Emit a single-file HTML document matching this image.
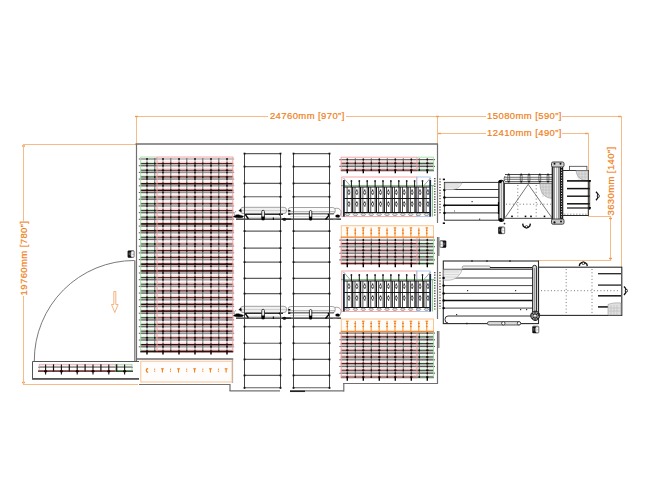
<!DOCTYPE html>
<html><head><meta charset="utf-8"><style>
html,body{margin:0;padding:0;background:#fff;width:647px;height:504px;overflow:hidden}
svg{position:absolute;left:0;top:0;font-family:"Liberation Sans",sans-serif}
</style></head><body>
<svg width="647" height="504" viewBox="0 0 647 504">
<line x1="136" y1="116.5" x2="268" y2="116.5" stroke="#f7bb88" stroke-width="1" />
<line x1="346" y1="116.5" x2="437" y2="116.5" stroke="#f7bb88" stroke-width="1" />
<text x="307.3" y="118.9" font-size="9.5" letter-spacing="0.4" fill="#ef7f1a" stroke="#ef7f1a" stroke-width="0.2" text-anchor="middle" >24760mm [970&#8221;]</text>
<line x1="136.5" y1="116" x2="136.5" y2="144" stroke="#f7bb88" stroke-width="1" />
<line x1="437" y1="116.5" x2="486" y2="116.5" stroke="#f7bb88" stroke-width="1" />
<line x1="562" y1="116.5" x2="621" y2="116.5" stroke="#f7bb88" stroke-width="1" />
<text x="524.5" y="118.9" font-size="9.5" letter-spacing="0.4" fill="#ef7f1a" stroke="#ef7f1a" stroke-width="0.2" text-anchor="middle" >15080mm [590&#8221;]</text>
<line x1="621.5" y1="116" x2="621.5" y2="267" stroke="#f7bb88" stroke-width="1" />
<line x1="437.5" y1="116" x2="437.5" y2="144" stroke="#f7bb88" stroke-width="1" />
<line x1="437" y1="133.5" x2="486" y2="133.5" stroke="#f7bb88" stroke-width="1" />
<line x1="562" y1="133.5" x2="588" y2="133.5" stroke="#f7bb88" stroke-width="1" />
<text x="524.5" y="135.9" font-size="9.5" letter-spacing="0.4" fill="#ef7f1a" stroke="#ef7f1a" stroke-width="0.2" text-anchor="middle" >12410mm [490&#8221;]</text>
<line x1="588.5" y1="133" x2="588.5" y2="216" stroke="#f7bb88" stroke-width="1" />
<line x1="588" y1="216.5" x2="611" y2="216.5" stroke="#f7bb88" stroke-width="1" />
<line x1="610.5" y1="216" x2="610.5" y2="260.5" stroke="#f7bb88" stroke-width="1" />
<line x1="538" y1="260.5" x2="611" y2="260.5" stroke="#f7bb88" stroke-width="1" />
<text x="0" y="0" font-size="9.5" letter-spacing="0.4" fill="#ef7f1a" stroke="#ef7f1a" stroke-width="0.2" text-anchor="middle" transform="translate(614,181) rotate(-90)">3630mm [140&#8221;]</text>
<rect x="436.0" y="115.8" width="3" height="1.4" fill="#f29a50"/>
<rect x="438.0" y="132.8" width="3" height="1.4" fill="#f29a50"/>
<rect x="135.0" y="115.8" width="3" height="1.4" fill="#f29a50"/>
<rect x="618.0" y="115.8" width="3" height="1.4" fill="#f29a50"/>
<rect x="585.0" y="132.8" width="3" height="1.4" fill="#f29a50"/>
<rect x="22.0" y="145.3" width="3" height="1.4" fill="#f29a50"/>
<rect x="22.0" y="381.8" width="3" height="1.4" fill="#f29a50"/>
<rect x="609.0" y="217.8" width="3" height="1.4" fill="#f29a50"/>
<rect x="609.0" y="257.8" width="3" height="1.4" fill="#f29a50"/>
<line x1="23.5" y1="144" x2="23.5" y2="221" stroke="#f7bb88" stroke-width="1" />
<line x1="23.5" y1="296" x2="23.5" y2="384" stroke="#f7bb88" stroke-width="1" />
<line x1="23" y1="144.5" x2="136" y2="144.5" stroke="#f7bb88" stroke-width="1" />
<line x1="23" y1="384.5" x2="138" y2="384.5" stroke="#f7bb88" stroke-width="1" />
<text x="0" y="0" font-size="9.5" letter-spacing="0.4" fill="#ef7f1a" stroke="#ef7f1a" stroke-width="0.2" text-anchor="middle" transform="translate(26.8,258) rotate(-90)">19760mm [780&#8221;]</text>
<line x1="135.5" y1="144" x2="438" y2="144" stroke="#707070" stroke-width="1.7" />
<line x1="136.5" y1="144" x2="136.5" y2="361" stroke="#707070" stroke-width="1.2" />
<line x1="437.5" y1="144" x2="437.5" y2="223" stroke="#707070" stroke-width="1.2" />
<line x1="437.5" y1="237" x2="437.5" y2="319" stroke="#707070" stroke-width="1.2" />
<line x1="437.5" y1="331" x2="437.5" y2="384" stroke="#707070" stroke-width="1.2" />
<line x1="139" y1="384.5" x2="230" y2="384.5" stroke="#707070" stroke-width="1.2" />
<line x1="230" y1="384" x2="230" y2="391" stroke="#707070" stroke-width="1.2" />
<line x1="229.5" y1="390.9" x2="280" y2="390.9" stroke="#707070" stroke-width="1.2" />
<line x1="290" y1="390.9" x2="344" y2="390.9" stroke="#707070" stroke-width="1.2" />
<line x1="343.8" y1="383.5" x2="343.8" y2="391.5" stroke="#707070" stroke-width="1.2" />
<line x1="343" y1="383.5" x2="438" y2="383.5" stroke="#707070" stroke-width="1.2" />
<line x1="290" y1="391.3" x2="305" y2="391.3" stroke="#222" stroke-width="1.5" />
<line x1="244.5" y1="153.5" x2="244.5" y2="388.5" stroke="#444" stroke-width="1.0" />
<line x1="280.5" y1="153.5" x2="280.5" y2="388.5" stroke="#444" stroke-width="1.0" />
<line x1="244" y1="153.6" x2="281" y2="153.6" stroke="#5e5e5e" stroke-width="1.1" />
<rect x="243.6" y="152.7" width="1.8" height="1.8" stroke="none" fill="#111" stroke-width="1" />
<rect x="279.6" y="152.7" width="1.8" height="1.8" stroke="none" fill="#111" stroke-width="1" />
<line x1="244" y1="166.6" x2="281" y2="166.6" stroke="#5e5e5e" stroke-width="1.1" />
<rect x="243.6" y="165.7" width="1.8" height="1.8" stroke="none" fill="#111" stroke-width="1" />
<rect x="279.6" y="165.7" width="1.8" height="1.8" stroke="none" fill="#111" stroke-width="1" />
<line x1="244" y1="183.4" x2="281" y2="183.4" stroke="#5e5e5e" stroke-width="1.1" />
<rect x="243.6" y="182.5" width="1.8" height="1.8" stroke="none" fill="#111" stroke-width="1" />
<rect x="279.6" y="182.5" width="1.8" height="1.8" stroke="none" fill="#111" stroke-width="1" />
<line x1="244" y1="196.8" x2="281" y2="196.8" stroke="#5e5e5e" stroke-width="1.1" />
<rect x="243.6" y="195.9" width="1.8" height="1.8" stroke="none" fill="#111" stroke-width="1" />
<rect x="279.6" y="195.9" width="1.8" height="1.8" stroke="none" fill="#111" stroke-width="1" />
<line x1="244" y1="231.1" x2="281" y2="231.1" stroke="#5e5e5e" stroke-width="1.1" />
<rect x="243.6" y="230.2" width="1.8" height="1.8" stroke="none" fill="#111" stroke-width="1" />
<rect x="279.6" y="230.2" width="1.8" height="1.8" stroke="none" fill="#111" stroke-width="1" />
<line x1="244" y1="248.1" x2="281" y2="248.1" stroke="#5e5e5e" stroke-width="1.1" />
<rect x="243.6" y="247.2" width="1.8" height="1.8" stroke="none" fill="#111" stroke-width="1" />
<rect x="279.6" y="247.2" width="1.8" height="1.8" stroke="none" fill="#111" stroke-width="1" />
<line x1="244" y1="262.1" x2="281" y2="262.1" stroke="#5e5e5e" stroke-width="1.1" />
<rect x="243.6" y="261.20000000000005" width="1.8" height="1.8" stroke="none" fill="#111" stroke-width="1" />
<rect x="279.6" y="261.20000000000005" width="1.8" height="1.8" stroke="none" fill="#111" stroke-width="1" />
<line x1="244" y1="278.4" x2="281" y2="278.4" stroke="#5e5e5e" stroke-width="1.1" />
<rect x="243.6" y="277.5" width="1.8" height="1.8" stroke="none" fill="#111" stroke-width="1" />
<rect x="279.6" y="277.5" width="1.8" height="1.8" stroke="none" fill="#111" stroke-width="1" />
<line x1="244" y1="293.6" x2="281" y2="293.6" stroke="#5e5e5e" stroke-width="1.1" />
<rect x="243.6" y="292.70000000000005" width="1.8" height="1.8" stroke="none" fill="#111" stroke-width="1" />
<rect x="279.6" y="292.70000000000005" width="1.8" height="1.8" stroke="none" fill="#111" stroke-width="1" />
<line x1="244" y1="326.7" x2="281" y2="326.7" stroke="#5e5e5e" stroke-width="1.1" />
<rect x="243.6" y="325.8" width="1.8" height="1.8" stroke="none" fill="#111" stroke-width="1" />
<rect x="279.6" y="325.8" width="1.8" height="1.8" stroke="none" fill="#111" stroke-width="1" />
<line x1="244" y1="343.2" x2="281" y2="343.2" stroke="#5e5e5e" stroke-width="1.1" />
<rect x="243.6" y="342.3" width="1.8" height="1.8" stroke="none" fill="#111" stroke-width="1" />
<rect x="279.6" y="342.3" width="1.8" height="1.8" stroke="none" fill="#111" stroke-width="1" />
<line x1="244" y1="359.4" x2="281" y2="359.4" stroke="#5e5e5e" stroke-width="1.1" />
<rect x="243.6" y="358.5" width="1.8" height="1.8" stroke="none" fill="#111" stroke-width="1" />
<rect x="279.6" y="358.5" width="1.8" height="1.8" stroke="none" fill="#111" stroke-width="1" />
<line x1="244" y1="375.4" x2="281" y2="375.4" stroke="#5e5e5e" stroke-width="1.1" />
<rect x="243.6" y="374.5" width="1.8" height="1.8" stroke="none" fill="#111" stroke-width="1" />
<rect x="279.6" y="374.5" width="1.8" height="1.8" stroke="none" fill="#111" stroke-width="1" />
<line x1="244" y1="387.8" x2="281" y2="387.8" stroke="#5e5e5e" stroke-width="1.1" />
<rect x="243.6" y="386.90000000000003" width="1.8" height="1.8" stroke="none" fill="#111" stroke-width="1" />
<rect x="279.6" y="386.90000000000003" width="1.8" height="1.8" stroke="none" fill="#111" stroke-width="1" />
<line x1="293.5" y1="153.5" x2="293.5" y2="388.5" stroke="#444" stroke-width="1.0" />
<line x1="329.5" y1="153.5" x2="329.5" y2="388.5" stroke="#444" stroke-width="1.0" />
<line x1="293" y1="153.6" x2="330" y2="153.6" stroke="#5e5e5e" stroke-width="1.1" />
<rect x="292.6" y="152.7" width="1.8" height="1.8" stroke="none" fill="#111" stroke-width="1" />
<rect x="328.6" y="152.7" width="1.8" height="1.8" stroke="none" fill="#111" stroke-width="1" />
<line x1="293" y1="166.6" x2="330" y2="166.6" stroke="#5e5e5e" stroke-width="1.1" />
<rect x="292.6" y="165.7" width="1.8" height="1.8" stroke="none" fill="#111" stroke-width="1" />
<rect x="328.6" y="165.7" width="1.8" height="1.8" stroke="none" fill="#111" stroke-width="1" />
<line x1="293" y1="183.4" x2="330" y2="183.4" stroke="#5e5e5e" stroke-width="1.1" />
<rect x="292.6" y="182.5" width="1.8" height="1.8" stroke="none" fill="#111" stroke-width="1" />
<rect x="328.6" y="182.5" width="1.8" height="1.8" stroke="none" fill="#111" stroke-width="1" />
<line x1="293" y1="196.8" x2="330" y2="196.8" stroke="#5e5e5e" stroke-width="1.1" />
<rect x="292.6" y="195.9" width="1.8" height="1.8" stroke="none" fill="#111" stroke-width="1" />
<rect x="328.6" y="195.9" width="1.8" height="1.8" stroke="none" fill="#111" stroke-width="1" />
<line x1="293" y1="231.1" x2="330" y2="231.1" stroke="#5e5e5e" stroke-width="1.1" />
<rect x="292.6" y="230.2" width="1.8" height="1.8" stroke="none" fill="#111" stroke-width="1" />
<rect x="328.6" y="230.2" width="1.8" height="1.8" stroke="none" fill="#111" stroke-width="1" />
<line x1="293" y1="248.1" x2="330" y2="248.1" stroke="#5e5e5e" stroke-width="1.1" />
<rect x="292.6" y="247.2" width="1.8" height="1.8" stroke="none" fill="#111" stroke-width="1" />
<rect x="328.6" y="247.2" width="1.8" height="1.8" stroke="none" fill="#111" stroke-width="1" />
<line x1="293" y1="262.1" x2="330" y2="262.1" stroke="#5e5e5e" stroke-width="1.1" />
<rect x="292.6" y="261.20000000000005" width="1.8" height="1.8" stroke="none" fill="#111" stroke-width="1" />
<rect x="328.6" y="261.20000000000005" width="1.8" height="1.8" stroke="none" fill="#111" stroke-width="1" />
<line x1="293" y1="278.4" x2="330" y2="278.4" stroke="#5e5e5e" stroke-width="1.1" />
<rect x="292.6" y="277.5" width="1.8" height="1.8" stroke="none" fill="#111" stroke-width="1" />
<rect x="328.6" y="277.5" width="1.8" height="1.8" stroke="none" fill="#111" stroke-width="1" />
<line x1="293" y1="293.6" x2="330" y2="293.6" stroke="#5e5e5e" stroke-width="1.1" />
<rect x="292.6" y="292.70000000000005" width="1.8" height="1.8" stroke="none" fill="#111" stroke-width="1" />
<rect x="328.6" y="292.70000000000005" width="1.8" height="1.8" stroke="none" fill="#111" stroke-width="1" />
<line x1="293" y1="326.7" x2="330" y2="326.7" stroke="#5e5e5e" stroke-width="1.1" />
<rect x="292.6" y="325.8" width="1.8" height="1.8" stroke="none" fill="#111" stroke-width="1" />
<rect x="328.6" y="325.8" width="1.8" height="1.8" stroke="none" fill="#111" stroke-width="1" />
<line x1="293" y1="343.2" x2="330" y2="343.2" stroke="#5e5e5e" stroke-width="1.1" />
<rect x="292.6" y="342.3" width="1.8" height="1.8" stroke="none" fill="#111" stroke-width="1" />
<rect x="328.6" y="342.3" width="1.8" height="1.8" stroke="none" fill="#111" stroke-width="1" />
<line x1="293" y1="359.4" x2="330" y2="359.4" stroke="#5e5e5e" stroke-width="1.1" />
<rect x="292.6" y="358.5" width="1.8" height="1.8" stroke="none" fill="#111" stroke-width="1" />
<rect x="328.6" y="358.5" width="1.8" height="1.8" stroke="none" fill="#111" stroke-width="1" />
<line x1="293" y1="375.4" x2="330" y2="375.4" stroke="#5e5e5e" stroke-width="1.1" />
<rect x="292.6" y="374.5" width="1.8" height="1.8" stroke="none" fill="#111" stroke-width="1" />
<rect x="328.6" y="374.5" width="1.8" height="1.8" stroke="none" fill="#111" stroke-width="1" />
<line x1="293" y1="387.8" x2="330" y2="387.8" stroke="#5e5e5e" stroke-width="1.1" />
<rect x="292.6" y="386.90000000000003" width="1.8" height="1.8" stroke="none" fill="#111" stroke-width="1" />
<rect x="328.6" y="386.90000000000003" width="1.8" height="1.8" stroke="none" fill="#111" stroke-width="1" />
<rect x="140.3" y="157" width="16.69999999999999" height="194.24" stroke="none" fill="#fafafa" stroke-width="1" />
<rect x="157.0" y="157" width="76.19999999999999" height="194.24" stroke="none" fill="#fdf6f6" stroke-width="1" />
<line x1="138.8" y1="159.0" x2="157.0" y2="159.0" stroke="#666" stroke-width="1.1" />
<line x1="157.0" y1="159.0" x2="234.2" y2="159.0" stroke="#949494" stroke-width="1.1" />
<line x1="140.3" y1="162.3" x2="157.0" y2="162.3" stroke="#dcf0d8" stroke-width="1.0" />
<line x1="157.0" y1="162.3" x2="233.2" y2="162.3" stroke="#f6c6c6" stroke-width="1.0" />
<line x1="140.3" y1="164.5" x2="157.0" y2="164.5" stroke="#9ab09a" stroke-width="0.8" />
<line x1="157.0" y1="164.5" x2="233.2" y2="164.5" stroke="#c09090" stroke-width="0.8" />
<line x1="140.3" y1="163.5" x2="157.0" y2="163.5" stroke="#2a4a2a" stroke-width="1.1" />
<line x1="157.0" y1="163.5" x2="233.2" y2="163.5" stroke="#5e2222" stroke-width="1.1" />
<rect x="140.3" y="164.4" width="92.89999999999998" height="2.2050000000000125" stroke="none" fill="#c6c6c6" stroke-width="1" />
<line x1="138.8" y1="165.705" x2="157.0" y2="165.705" stroke="#666" stroke-width="1.1" />
<line x1="157.0" y1="165.705" x2="234.2" y2="165.705" stroke="#949494" stroke-width="1.1" />
<line x1="140.3" y1="169.00500000000002" x2="157.0" y2="169.00500000000002" stroke="#dcf0d8" stroke-width="1.0" />
<line x1="157.0" y1="169.00500000000002" x2="233.2" y2="169.00500000000002" stroke="#f6c6c6" stroke-width="1.0" />
<line x1="140.3" y1="171.205" x2="157.0" y2="171.205" stroke="#9ab09a" stroke-width="0.8" />
<line x1="157.0" y1="171.205" x2="233.2" y2="171.205" stroke="#c09090" stroke-width="0.8" />
<line x1="140.3" y1="170.205" x2="157.0" y2="170.205" stroke="#2a4a2a" stroke-width="1.1" />
<line x1="157.0" y1="170.205" x2="233.2" y2="170.205" stroke="#5e2222" stroke-width="1.1" />
<rect x="140.3" y="171.10500000000002" width="92.89999999999998" height="2.204999999999984" stroke="none" fill="#c6c6c6" stroke-width="1" />
<line x1="138.8" y1="172.41" x2="157.0" y2="172.41" stroke="#666" stroke-width="1.1" />
<line x1="157.0" y1="172.41" x2="234.2" y2="172.41" stroke="#949494" stroke-width="1.1" />
<line x1="140.3" y1="175.71" x2="157.0" y2="175.71" stroke="#dcf0d8" stroke-width="1.0" />
<line x1="157.0" y1="175.71" x2="233.2" y2="175.71" stroke="#f6c6c6" stroke-width="1.0" />
<line x1="140.3" y1="177.91" x2="157.0" y2="177.91" stroke="#9ab09a" stroke-width="0.8" />
<line x1="157.0" y1="177.91" x2="233.2" y2="177.91" stroke="#c09090" stroke-width="0.8" />
<line x1="140.3" y1="176.91" x2="157.0" y2="176.91" stroke="#2a4a2a" stroke-width="1.1" />
<line x1="157.0" y1="176.91" x2="233.2" y2="176.91" stroke="#5e2222" stroke-width="1.1" />
<rect x="140.3" y="177.81" width="92.89999999999998" height="2.2050000000000125" stroke="none" fill="#c6c6c6" stroke-width="1" />
<line x1="138.8" y1="179.115" x2="157.0" y2="179.115" stroke="#666" stroke-width="1.1" />
<line x1="157.0" y1="179.115" x2="234.2" y2="179.115" stroke="#949494" stroke-width="1.1" />
<line x1="140.3" y1="182.41500000000002" x2="157.0" y2="182.41500000000002" stroke="#dcf0d8" stroke-width="1.0" />
<line x1="157.0" y1="182.41500000000002" x2="233.2" y2="182.41500000000002" stroke="#f6c6c6" stroke-width="1.0" />
<line x1="140.3" y1="184.615" x2="157.0" y2="184.615" stroke="#9ab09a" stroke-width="0.8" />
<line x1="157.0" y1="184.615" x2="233.2" y2="184.615" stroke="#c09090" stroke-width="0.8" />
<line x1="140.3" y1="183.615" x2="157.0" y2="183.615" stroke="#2a4a2a" stroke-width="1.1" />
<line x1="157.0" y1="183.615" x2="233.2" y2="183.615" stroke="#5e2222" stroke-width="1.1" />
<line x1="140.3" y1="183.91500000000002" x2="233.2" y2="183.91500000000002" stroke="#3a0a0a" stroke-width="1.6" />
<rect x="140.3" y="184.51500000000001" width="92.89999999999998" height="2.204999999999984" stroke="none" fill="#c6c6c6" stroke-width="1" />
<line x1="138.8" y1="185.82" x2="157.0" y2="185.82" stroke="#666" stroke-width="1.1" />
<line x1="157.0" y1="185.82" x2="234.2" y2="185.82" stroke="#949494" stroke-width="1.1" />
<line x1="140.3" y1="189.12" x2="157.0" y2="189.12" stroke="#dcf0d8" stroke-width="1.0" />
<line x1="157.0" y1="189.12" x2="233.2" y2="189.12" stroke="#f6c6c6" stroke-width="1.0" />
<line x1="140.3" y1="191.32" x2="157.0" y2="191.32" stroke="#9ab09a" stroke-width="0.8" />
<line x1="157.0" y1="191.32" x2="233.2" y2="191.32" stroke="#c09090" stroke-width="0.8" />
<line x1="140.3" y1="190.32" x2="157.0" y2="190.32" stroke="#2a4a2a" stroke-width="1.1" />
<line x1="157.0" y1="190.32" x2="233.2" y2="190.32" stroke="#5e2222" stroke-width="1.1" />
<line x1="140.3" y1="190.62" x2="233.2" y2="190.62" stroke="#3a0a0a" stroke-width="1.6" />
<rect x="140.3" y="191.22" width="92.89999999999998" height="2.2050000000000125" stroke="none" fill="#c6c6c6" stroke-width="1" />
<line x1="138.8" y1="192.525" x2="157.0" y2="192.525" stroke="#666" stroke-width="1.1" />
<line x1="157.0" y1="192.525" x2="234.2" y2="192.525" stroke="#949494" stroke-width="1.1" />
<line x1="140.3" y1="195.82500000000002" x2="157.0" y2="195.82500000000002" stroke="#dcf0d8" stroke-width="1.0" />
<line x1="157.0" y1="195.82500000000002" x2="233.2" y2="195.82500000000002" stroke="#f6c6c6" stroke-width="1.0" />
<line x1="140.3" y1="198.025" x2="157.0" y2="198.025" stroke="#9ab09a" stroke-width="0.8" />
<line x1="157.0" y1="198.025" x2="233.2" y2="198.025" stroke="#c09090" stroke-width="0.8" />
<line x1="140.3" y1="197.025" x2="157.0" y2="197.025" stroke="#2a4a2a" stroke-width="1.1" />
<line x1="157.0" y1="197.025" x2="233.2" y2="197.025" stroke="#5e2222" stroke-width="1.1" />
<rect x="140.3" y="197.925" width="92.89999999999998" height="2.2050000000000125" stroke="none" fill="#c6c6c6" stroke-width="1" />
<line x1="138.8" y1="199.23000000000002" x2="157.0" y2="199.23000000000002" stroke="#666" stroke-width="1.1" />
<line x1="157.0" y1="199.23000000000002" x2="234.2" y2="199.23000000000002" stroke="#949494" stroke-width="1.1" />
<line x1="140.3" y1="202.53000000000003" x2="157.0" y2="202.53000000000003" stroke="#dcf0d8" stroke-width="1.0" />
<line x1="157.0" y1="202.53000000000003" x2="233.2" y2="202.53000000000003" stroke="#f6c6c6" stroke-width="1.0" />
<line x1="140.3" y1="204.73000000000002" x2="157.0" y2="204.73000000000002" stroke="#9ab09a" stroke-width="0.8" />
<line x1="157.0" y1="204.73000000000002" x2="233.2" y2="204.73000000000002" stroke="#c09090" stroke-width="0.8" />
<line x1="140.3" y1="203.73000000000002" x2="157.0" y2="203.73000000000002" stroke="#2a4a2a" stroke-width="1.1" />
<line x1="157.0" y1="203.73000000000002" x2="233.2" y2="203.73000000000002" stroke="#5e2222" stroke-width="1.1" />
<rect x="140.3" y="204.63000000000002" width="92.89999999999998" height="2.204999999999984" stroke="none" fill="#c6c6c6" stroke-width="1" />
<line x1="138.8" y1="205.935" x2="157.0" y2="205.935" stroke="#666" stroke-width="1.1" />
<line x1="157.0" y1="205.935" x2="234.2" y2="205.935" stroke="#949494" stroke-width="1.1" />
<line x1="140.3" y1="209.235" x2="157.0" y2="209.235" stroke="#dcf0d8" stroke-width="1.0" />
<line x1="157.0" y1="209.235" x2="233.2" y2="209.235" stroke="#f6c6c6" stroke-width="1.0" />
<line x1="140.3" y1="211.435" x2="157.0" y2="211.435" stroke="#9ab09a" stroke-width="0.8" />
<line x1="157.0" y1="211.435" x2="233.2" y2="211.435" stroke="#c09090" stroke-width="0.8" />
<line x1="140.3" y1="210.435" x2="157.0" y2="210.435" stroke="#2a4a2a" stroke-width="1.1" />
<line x1="157.0" y1="210.435" x2="233.2" y2="210.435" stroke="#5e2222" stroke-width="1.1" />
<rect x="140.3" y="211.335" width="92.89999999999998" height="2.204999999999984" stroke="none" fill="#c6c6c6" stroke-width="1" />
<line x1="138.8" y1="212.64" x2="157.0" y2="212.64" stroke="#666" stroke-width="1.1" />
<line x1="157.0" y1="212.64" x2="234.2" y2="212.64" stroke="#949494" stroke-width="1.1" />
<line x1="140.3" y1="215.94" x2="157.0" y2="215.94" stroke="#dcf0d8" stroke-width="1.0" />
<line x1="157.0" y1="215.94" x2="233.2" y2="215.94" stroke="#f6c6c6" stroke-width="1.0" />
<line x1="140.3" y1="218.14" x2="157.0" y2="218.14" stroke="#9ab09a" stroke-width="0.8" />
<line x1="157.0" y1="218.14" x2="233.2" y2="218.14" stroke="#c09090" stroke-width="0.8" />
<line x1="140.3" y1="217.14" x2="157.0" y2="217.14" stroke="#2a4a2a" stroke-width="1.1" />
<line x1="157.0" y1="217.14" x2="233.2" y2="217.14" stroke="#5e2222" stroke-width="1.1" />
<rect x="140.3" y="218.04" width="92.89999999999998" height="2.2050000000000125" stroke="none" fill="#c6c6c6" stroke-width="1" />
<line x1="138.8" y1="219.345" x2="157.0" y2="219.345" stroke="#666" stroke-width="1.1" />
<line x1="157.0" y1="219.345" x2="234.2" y2="219.345" stroke="#949494" stroke-width="1.1" />
<line x1="140.3" y1="222.645" x2="157.0" y2="222.645" stroke="#dcf0d8" stroke-width="1.0" />
<line x1="157.0" y1="222.645" x2="233.2" y2="222.645" stroke="#f6c6c6" stroke-width="1.0" />
<line x1="140.3" y1="224.845" x2="157.0" y2="224.845" stroke="#9ab09a" stroke-width="0.8" />
<line x1="157.0" y1="224.845" x2="233.2" y2="224.845" stroke="#c09090" stroke-width="0.8" />
<line x1="140.3" y1="223.845" x2="157.0" y2="223.845" stroke="#2a4a2a" stroke-width="1.1" />
<line x1="157.0" y1="223.845" x2="233.2" y2="223.845" stroke="#5e2222" stroke-width="1.1" />
<line x1="140.3" y1="224.145" x2="233.2" y2="224.145" stroke="#3a0a0a" stroke-width="1.6" />
<rect x="140.3" y="224.745" width="92.89999999999998" height="2.2050000000000125" stroke="none" fill="#c6c6c6" stroke-width="1" />
<line x1="138.8" y1="226.05" x2="157.0" y2="226.05" stroke="#666" stroke-width="1.1" />
<line x1="157.0" y1="226.05" x2="234.2" y2="226.05" stroke="#949494" stroke-width="1.1" />
<line x1="140.3" y1="229.35000000000002" x2="157.0" y2="229.35000000000002" stroke="#dcf0d8" stroke-width="1.0" />
<line x1="157.0" y1="229.35000000000002" x2="233.2" y2="229.35000000000002" stroke="#f6c6c6" stroke-width="1.0" />
<line x1="140.3" y1="231.55" x2="157.0" y2="231.55" stroke="#9ab09a" stroke-width="0.8" />
<line x1="157.0" y1="231.55" x2="233.2" y2="231.55" stroke="#c09090" stroke-width="0.8" />
<line x1="140.3" y1="230.55" x2="157.0" y2="230.55" stroke="#2a4a2a" stroke-width="1.1" />
<line x1="157.0" y1="230.55" x2="233.2" y2="230.55" stroke="#5e2222" stroke-width="1.1" />
<line x1="140.3" y1="230.85000000000002" x2="233.2" y2="230.85000000000002" stroke="#3a0a0a" stroke-width="1.6" />
<rect x="140.3" y="231.45000000000002" width="92.89999999999998" height="2.204999999999984" stroke="none" fill="#c6c6c6" stroke-width="1" />
<line x1="138.8" y1="232.755" x2="157.0" y2="232.755" stroke="#666" stroke-width="1.1" />
<line x1="157.0" y1="232.755" x2="234.2" y2="232.755" stroke="#949494" stroke-width="1.1" />
<line x1="140.3" y1="236.055" x2="157.0" y2="236.055" stroke="#dcf0d8" stroke-width="1.0" />
<line x1="157.0" y1="236.055" x2="233.2" y2="236.055" stroke="#f6c6c6" stroke-width="1.0" />
<line x1="140.3" y1="238.255" x2="157.0" y2="238.255" stroke="#9ab09a" stroke-width="0.8" />
<line x1="157.0" y1="238.255" x2="233.2" y2="238.255" stroke="#c09090" stroke-width="0.8" />
<line x1="140.3" y1="237.255" x2="157.0" y2="237.255" stroke="#2a4a2a" stroke-width="1.1" />
<line x1="157.0" y1="237.255" x2="233.2" y2="237.255" stroke="#5e2222" stroke-width="1.1" />
<rect x="140.3" y="238.155" width="92.89999999999998" height="2.2050000000000125" stroke="none" fill="#c6c6c6" stroke-width="1" />
<line x1="138.8" y1="239.46" x2="157.0" y2="239.46" stroke="#666" stroke-width="1.1" />
<line x1="157.0" y1="239.46" x2="234.2" y2="239.46" stroke="#949494" stroke-width="1.1" />
<line x1="140.3" y1="242.76000000000002" x2="157.0" y2="242.76000000000002" stroke="#dcf0d8" stroke-width="1.0" />
<line x1="157.0" y1="242.76000000000002" x2="233.2" y2="242.76000000000002" stroke="#f6c6c6" stroke-width="1.0" />
<line x1="140.3" y1="244.96" x2="157.0" y2="244.96" stroke="#9ab09a" stroke-width="0.8" />
<line x1="157.0" y1="244.96" x2="233.2" y2="244.96" stroke="#c09090" stroke-width="0.8" />
<line x1="140.3" y1="243.96" x2="157.0" y2="243.96" stroke="#2a4a2a" stroke-width="1.1" />
<line x1="157.0" y1="243.96" x2="233.2" y2="243.96" stroke="#5e2222" stroke-width="1.1" />
<rect x="140.3" y="244.86" width="92.89999999999998" height="2.2050000000000125" stroke="none" fill="#c6c6c6" stroke-width="1" />
<line x1="138.8" y1="246.16500000000002" x2="157.0" y2="246.16500000000002" stroke="#666" stroke-width="1.1" />
<line x1="157.0" y1="246.16500000000002" x2="234.2" y2="246.16500000000002" stroke="#949494" stroke-width="1.1" />
<line x1="140.3" y1="249.46500000000003" x2="157.0" y2="249.46500000000003" stroke="#dcf0d8" stroke-width="1.0" />
<line x1="157.0" y1="249.46500000000003" x2="233.2" y2="249.46500000000003" stroke="#f6c6c6" stroke-width="1.0" />
<line x1="140.3" y1="251.66500000000002" x2="157.0" y2="251.66500000000002" stroke="#9ab09a" stroke-width="0.8" />
<line x1="157.0" y1="251.66500000000002" x2="233.2" y2="251.66500000000002" stroke="#c09090" stroke-width="0.8" />
<line x1="140.3" y1="250.66500000000002" x2="157.0" y2="250.66500000000002" stroke="#2a4a2a" stroke-width="1.1" />
<line x1="157.0" y1="250.66500000000002" x2="233.2" y2="250.66500000000002" stroke="#5e2222" stroke-width="1.1" />
<rect x="140.3" y="251.56500000000003" width="92.89999999999998" height="2.204999999999984" stroke="none" fill="#c6c6c6" stroke-width="1" />
<line x1="138.8" y1="252.87" x2="157.0" y2="252.87" stroke="#666" stroke-width="1.1" />
<line x1="157.0" y1="252.87" x2="234.2" y2="252.87" stroke="#949494" stroke-width="1.1" />
<line x1="140.3" y1="256.17" x2="157.0" y2="256.17" stroke="#dcf0d8" stroke-width="1.0" />
<line x1="157.0" y1="256.17" x2="233.2" y2="256.17" stroke="#f6c6c6" stroke-width="1.0" />
<line x1="140.3" y1="258.37" x2="157.0" y2="258.37" stroke="#9ab09a" stroke-width="0.8" />
<line x1="157.0" y1="258.37" x2="233.2" y2="258.37" stroke="#c09090" stroke-width="0.8" />
<line x1="140.3" y1="257.37" x2="157.0" y2="257.37" stroke="#2a4a2a" stroke-width="1.1" />
<line x1="157.0" y1="257.37" x2="233.2" y2="257.37" stroke="#5e2222" stroke-width="1.1" />
<rect x="140.3" y="258.27" width="92.89999999999998" height="2.204999999999984" stroke="none" fill="#c6c6c6" stroke-width="1" />
<line x1="138.8" y1="259.575" x2="157.0" y2="259.575" stroke="#666" stroke-width="1.1" />
<line x1="157.0" y1="259.575" x2="234.2" y2="259.575" stroke="#949494" stroke-width="1.1" />
<line x1="140.3" y1="262.875" x2="157.0" y2="262.875" stroke="#dcf0d8" stroke-width="1.0" />
<line x1="157.0" y1="262.875" x2="233.2" y2="262.875" stroke="#f6c6c6" stroke-width="1.0" />
<line x1="140.3" y1="265.075" x2="157.0" y2="265.075" stroke="#9ab09a" stroke-width="0.8" />
<line x1="157.0" y1="265.075" x2="233.2" y2="265.075" stroke="#c09090" stroke-width="0.8" />
<line x1="140.3" y1="264.075" x2="157.0" y2="264.075" stroke="#2a4a2a" stroke-width="1.1" />
<line x1="157.0" y1="264.075" x2="233.2" y2="264.075" stroke="#5e2222" stroke-width="1.1" />
<line x1="140.3" y1="264.375" x2="233.2" y2="264.375" stroke="#3a0a0a" stroke-width="1.6" />
<rect x="140.3" y="264.97499999999997" width="92.89999999999998" height="2.204999999999984" stroke="none" fill="#c6c6c6" stroke-width="1" />
<line x1="138.8" y1="266.28" x2="157.0" y2="266.28" stroke="#666" stroke-width="1.1" />
<line x1="157.0" y1="266.28" x2="234.2" y2="266.28" stroke="#949494" stroke-width="1.1" />
<line x1="140.3" y1="269.58" x2="157.0" y2="269.58" stroke="#dcf0d8" stroke-width="1.0" />
<line x1="157.0" y1="269.58" x2="233.2" y2="269.58" stroke="#f6c6c6" stroke-width="1.0" />
<line x1="140.3" y1="271.78" x2="157.0" y2="271.78" stroke="#9ab09a" stroke-width="0.8" />
<line x1="157.0" y1="271.78" x2="233.2" y2="271.78" stroke="#c09090" stroke-width="0.8" />
<line x1="140.3" y1="270.78" x2="157.0" y2="270.78" stroke="#2a4a2a" stroke-width="1.1" />
<line x1="157.0" y1="270.78" x2="233.2" y2="270.78" stroke="#5e2222" stroke-width="1.1" />
<line x1="140.3" y1="271.08" x2="233.2" y2="271.08" stroke="#3a0a0a" stroke-width="1.6" />
<rect x="140.3" y="271.67999999999995" width="92.89999999999998" height="2.205000000000041" stroke="none" fill="#c6c6c6" stroke-width="1" />
<line x1="138.8" y1="272.985" x2="157.0" y2="272.985" stroke="#666" stroke-width="1.1" />
<line x1="157.0" y1="272.985" x2="234.2" y2="272.985" stroke="#949494" stroke-width="1.1" />
<line x1="140.3" y1="276.285" x2="157.0" y2="276.285" stroke="#dcf0d8" stroke-width="1.0" />
<line x1="157.0" y1="276.285" x2="233.2" y2="276.285" stroke="#f6c6c6" stroke-width="1.0" />
<line x1="140.3" y1="278.485" x2="157.0" y2="278.485" stroke="#9ab09a" stroke-width="0.8" />
<line x1="157.0" y1="278.485" x2="233.2" y2="278.485" stroke="#c09090" stroke-width="0.8" />
<line x1="140.3" y1="277.485" x2="157.0" y2="277.485" stroke="#2a4a2a" stroke-width="1.1" />
<line x1="157.0" y1="277.485" x2="233.2" y2="277.485" stroke="#5e2222" stroke-width="1.1" />
<rect x="140.3" y="278.385" width="92.89999999999998" height="2.204999999999984" stroke="none" fill="#c6c6c6" stroke-width="1" />
<line x1="138.8" y1="279.69" x2="157.0" y2="279.69" stroke="#666" stroke-width="1.1" />
<line x1="157.0" y1="279.69" x2="234.2" y2="279.69" stroke="#949494" stroke-width="1.1" />
<line x1="140.3" y1="282.99" x2="157.0" y2="282.99" stroke="#dcf0d8" stroke-width="1.0" />
<line x1="157.0" y1="282.99" x2="233.2" y2="282.99" stroke="#f6c6c6" stroke-width="1.0" />
<line x1="140.3" y1="285.19" x2="157.0" y2="285.19" stroke="#9ab09a" stroke-width="0.8" />
<line x1="157.0" y1="285.19" x2="233.2" y2="285.19" stroke="#c09090" stroke-width="0.8" />
<line x1="140.3" y1="284.19" x2="157.0" y2="284.19" stroke="#2a4a2a" stroke-width="1.1" />
<line x1="157.0" y1="284.19" x2="233.2" y2="284.19" stroke="#5e2222" stroke-width="1.1" />
<rect x="140.3" y="285.09" width="92.89999999999998" height="2.204999999999984" stroke="none" fill="#c6c6c6" stroke-width="1" />
<line x1="138.8" y1="286.395" x2="157.0" y2="286.395" stroke="#666" stroke-width="1.1" />
<line x1="157.0" y1="286.395" x2="234.2" y2="286.395" stroke="#949494" stroke-width="1.1" />
<line x1="140.3" y1="289.695" x2="157.0" y2="289.695" stroke="#dcf0d8" stroke-width="1.0" />
<line x1="157.0" y1="289.695" x2="233.2" y2="289.695" stroke="#f6c6c6" stroke-width="1.0" />
<line x1="140.3" y1="291.895" x2="157.0" y2="291.895" stroke="#9ab09a" stroke-width="0.8" />
<line x1="157.0" y1="291.895" x2="233.2" y2="291.895" stroke="#c09090" stroke-width="0.8" />
<line x1="140.3" y1="290.895" x2="157.0" y2="290.895" stroke="#2a4a2a" stroke-width="1.1" />
<line x1="157.0" y1="290.895" x2="233.2" y2="290.895" stroke="#5e2222" stroke-width="1.1" />
<rect x="140.3" y="291.79499999999996" width="92.89999999999998" height="2.205000000000041" stroke="none" fill="#c6c6c6" stroke-width="1" />
<line x1="138.8" y1="293.1" x2="157.0" y2="293.1" stroke="#666" stroke-width="1.1" />
<line x1="157.0" y1="293.1" x2="234.2" y2="293.1" stroke="#949494" stroke-width="1.1" />
<line x1="140.3" y1="296.40000000000003" x2="157.0" y2="296.40000000000003" stroke="#dcf0d8" stroke-width="1.0" />
<line x1="157.0" y1="296.40000000000003" x2="233.2" y2="296.40000000000003" stroke="#f6c6c6" stroke-width="1.0" />
<line x1="140.3" y1="298.6" x2="157.0" y2="298.6" stroke="#9ab09a" stroke-width="0.8" />
<line x1="157.0" y1="298.6" x2="233.2" y2="298.6" stroke="#c09090" stroke-width="0.8" />
<line x1="140.3" y1="297.6" x2="157.0" y2="297.6" stroke="#2a4a2a" stroke-width="1.1" />
<line x1="157.0" y1="297.6" x2="233.2" y2="297.6" stroke="#5e2222" stroke-width="1.1" />
<rect x="140.3" y="298.5" width="92.89999999999998" height="2.204999999999984" stroke="none" fill="#c6c6c6" stroke-width="1" />
<line x1="138.8" y1="299.805" x2="157.0" y2="299.805" stroke="#666" stroke-width="1.1" />
<line x1="157.0" y1="299.805" x2="234.2" y2="299.805" stroke="#949494" stroke-width="1.1" />
<line x1="140.3" y1="303.105" x2="157.0" y2="303.105" stroke="#dcf0d8" stroke-width="1.0" />
<line x1="157.0" y1="303.105" x2="233.2" y2="303.105" stroke="#f6c6c6" stroke-width="1.0" />
<line x1="140.3" y1="305.305" x2="157.0" y2="305.305" stroke="#9ab09a" stroke-width="0.8" />
<line x1="157.0" y1="305.305" x2="233.2" y2="305.305" stroke="#c09090" stroke-width="0.8" />
<line x1="140.3" y1="304.305" x2="157.0" y2="304.305" stroke="#2a4a2a" stroke-width="1.1" />
<line x1="157.0" y1="304.305" x2="233.2" y2="304.305" stroke="#5e2222" stroke-width="1.1" />
<line x1="140.3" y1="304.605" x2="233.2" y2="304.605" stroke="#3a0a0a" stroke-width="1.6" />
<rect x="140.3" y="305.205" width="92.89999999999998" height="2.204999999999984" stroke="none" fill="#c6c6c6" stroke-width="1" />
<line x1="138.8" y1="306.51" x2="157.0" y2="306.51" stroke="#666" stroke-width="1.1" />
<line x1="157.0" y1="306.51" x2="234.2" y2="306.51" stroke="#949494" stroke-width="1.1" />
<line x1="140.3" y1="309.81" x2="157.0" y2="309.81" stroke="#dcf0d8" stroke-width="1.0" />
<line x1="157.0" y1="309.81" x2="233.2" y2="309.81" stroke="#f6c6c6" stroke-width="1.0" />
<line x1="140.3" y1="312.01" x2="157.0" y2="312.01" stroke="#9ab09a" stroke-width="0.8" />
<line x1="157.0" y1="312.01" x2="233.2" y2="312.01" stroke="#c09090" stroke-width="0.8" />
<line x1="140.3" y1="311.01" x2="157.0" y2="311.01" stroke="#2a4a2a" stroke-width="1.1" />
<line x1="157.0" y1="311.01" x2="233.2" y2="311.01" stroke="#5e2222" stroke-width="1.1" />
<line x1="140.3" y1="311.31" x2="233.2" y2="311.31" stroke="#3a0a0a" stroke-width="1.6" />
<rect x="140.3" y="311.90999999999997" width="92.89999999999998" height="2.205000000000041" stroke="none" fill="#c6c6c6" stroke-width="1" />
<line x1="138.8" y1="313.21500000000003" x2="157.0" y2="313.21500000000003" stroke="#666" stroke-width="1.1" />
<line x1="157.0" y1="313.21500000000003" x2="234.2" y2="313.21500000000003" stroke="#949494" stroke-width="1.1" />
<line x1="140.3" y1="316.51500000000004" x2="157.0" y2="316.51500000000004" stroke="#dcf0d8" stroke-width="1.0" />
<line x1="157.0" y1="316.51500000000004" x2="233.2" y2="316.51500000000004" stroke="#f6c6c6" stroke-width="1.0" />
<line x1="140.3" y1="318.71500000000003" x2="157.0" y2="318.71500000000003" stroke="#9ab09a" stroke-width="0.8" />
<line x1="157.0" y1="318.71500000000003" x2="233.2" y2="318.71500000000003" stroke="#c09090" stroke-width="0.8" />
<line x1="140.3" y1="317.71500000000003" x2="157.0" y2="317.71500000000003" stroke="#2a4a2a" stroke-width="1.1" />
<line x1="157.0" y1="317.71500000000003" x2="233.2" y2="317.71500000000003" stroke="#5e2222" stroke-width="1.1" />
<rect x="140.3" y="318.615" width="92.89999999999998" height="2.204999999999984" stroke="none" fill="#c6c6c6" stroke-width="1" />
<line x1="138.8" y1="319.92" x2="157.0" y2="319.92" stroke="#666" stroke-width="1.1" />
<line x1="157.0" y1="319.92" x2="234.2" y2="319.92" stroke="#949494" stroke-width="1.1" />
<line x1="140.3" y1="323.22" x2="157.0" y2="323.22" stroke="#dcf0d8" stroke-width="1.0" />
<line x1="157.0" y1="323.22" x2="233.2" y2="323.22" stroke="#f6c6c6" stroke-width="1.0" />
<line x1="140.3" y1="325.42" x2="157.0" y2="325.42" stroke="#9ab09a" stroke-width="0.8" />
<line x1="157.0" y1="325.42" x2="233.2" y2="325.42" stroke="#c09090" stroke-width="0.8" />
<line x1="140.3" y1="324.42" x2="157.0" y2="324.42" stroke="#2a4a2a" stroke-width="1.1" />
<line x1="157.0" y1="324.42" x2="233.2" y2="324.42" stroke="#5e2222" stroke-width="1.1" />
<rect x="140.3" y="325.32" width="92.89999999999998" height="2.204999999999984" stroke="none" fill="#c6c6c6" stroke-width="1" />
<line x1="138.8" y1="326.625" x2="157.0" y2="326.625" stroke="#666" stroke-width="1.1" />
<line x1="157.0" y1="326.625" x2="234.2" y2="326.625" stroke="#949494" stroke-width="1.1" />
<line x1="140.3" y1="329.925" x2="157.0" y2="329.925" stroke="#dcf0d8" stroke-width="1.0" />
<line x1="157.0" y1="329.925" x2="233.2" y2="329.925" stroke="#f6c6c6" stroke-width="1.0" />
<line x1="140.3" y1="332.125" x2="157.0" y2="332.125" stroke="#9ab09a" stroke-width="0.8" />
<line x1="157.0" y1="332.125" x2="233.2" y2="332.125" stroke="#c09090" stroke-width="0.8" />
<line x1="140.3" y1="331.125" x2="157.0" y2="331.125" stroke="#2a4a2a" stroke-width="1.1" />
<line x1="157.0" y1="331.125" x2="233.2" y2="331.125" stroke="#5e2222" stroke-width="1.1" />
<rect x="140.3" y="332.025" width="92.89999999999998" height="2.205000000000041" stroke="none" fill="#c6c6c6" stroke-width="1" />
<line x1="138.8" y1="333.33000000000004" x2="157.0" y2="333.33000000000004" stroke="#666" stroke-width="1.1" />
<line x1="157.0" y1="333.33000000000004" x2="234.2" y2="333.33000000000004" stroke="#949494" stroke-width="1.1" />
<line x1="140.3" y1="336.63000000000005" x2="157.0" y2="336.63000000000005" stroke="#dcf0d8" stroke-width="1.0" />
<line x1="157.0" y1="336.63000000000005" x2="233.2" y2="336.63000000000005" stroke="#f6c6c6" stroke-width="1.0" />
<line x1="140.3" y1="338.83000000000004" x2="157.0" y2="338.83000000000004" stroke="#9ab09a" stroke-width="0.8" />
<line x1="157.0" y1="338.83000000000004" x2="233.2" y2="338.83000000000004" stroke="#c09090" stroke-width="0.8" />
<line x1="140.3" y1="337.83000000000004" x2="157.0" y2="337.83000000000004" stroke="#2a4a2a" stroke-width="1.1" />
<line x1="157.0" y1="337.83000000000004" x2="233.2" y2="337.83000000000004" stroke="#5e2222" stroke-width="1.1" />
<rect x="140.3" y="338.73" width="92.89999999999998" height="2.2049999999999272" stroke="none" fill="#c6c6c6" stroke-width="1" />
<line x1="138.8" y1="340.03499999999997" x2="157.0" y2="340.03499999999997" stroke="#666" stroke-width="1.1" />
<line x1="157.0" y1="340.03499999999997" x2="234.2" y2="340.03499999999997" stroke="#949494" stroke-width="1.1" />
<line x1="140.3" y1="343.335" x2="157.0" y2="343.335" stroke="#dcf0d8" stroke-width="1.0" />
<line x1="157.0" y1="343.335" x2="233.2" y2="343.335" stroke="#f6c6c6" stroke-width="1.0" />
<line x1="140.3" y1="345.53499999999997" x2="157.0" y2="345.53499999999997" stroke="#9ab09a" stroke-width="0.8" />
<line x1="157.0" y1="345.53499999999997" x2="233.2" y2="345.53499999999997" stroke="#c09090" stroke-width="0.8" />
<line x1="140.3" y1="344.53499999999997" x2="157.0" y2="344.53499999999997" stroke="#2a4a2a" stroke-width="1.1" />
<line x1="157.0" y1="344.53499999999997" x2="233.2" y2="344.53499999999997" stroke="#5e2222" stroke-width="1.1" />
<line x1="140.3" y1="344.835" x2="233.2" y2="344.835" stroke="#3a0a0a" stroke-width="1.6" />
<rect x="140.3" y="345.43499999999995" width="92.89999999999998" height="2.205000000000041" stroke="none" fill="#c6c6c6" stroke-width="1" />
<line x1="138.8" y1="346.74" x2="157.0" y2="346.74" stroke="#666" stroke-width="1.1" />
<line x1="157.0" y1="346.74" x2="234.2" y2="346.74" stroke="#949494" stroke-width="1.1" />
<line x1="140.3" y1="350.04" x2="157.0" y2="350.04" stroke="#dcf0d8" stroke-width="1.0" />
<line x1="157.0" y1="350.04" x2="233.2" y2="350.04" stroke="#f6c6c6" stroke-width="1.0" />
<line x1="140.3" y1="352.24" x2="157.0" y2="352.24" stroke="#9ab09a" stroke-width="0.8" />
<line x1="157.0" y1="352.24" x2="233.2" y2="352.24" stroke="#c09090" stroke-width="0.8" />
<line x1="140.3" y1="351.24" x2="157.0" y2="351.24" stroke="#2a4a2a" stroke-width="1.1" />
<line x1="157.0" y1="351.24" x2="233.2" y2="351.24" stroke="#5e2222" stroke-width="1.1" />
<line x1="140.3" y1="351.54" x2="233.2" y2="351.54" stroke="#3a0a0a" stroke-width="1.6" />
<line x1="140.3" y1="157" x2="157.0" y2="157" stroke="#a8dca8" stroke-width="0.9" />
<line x1="157.0" y1="157" x2="233.2" y2="157" stroke="#f0a0a0" stroke-width="0.9" />
<line x1="140.70000000000002" y1="157" x2="140.70000000000002" y2="351.24" stroke="#a8dca8" stroke-width="0.9" />
<line x1="157.0" y1="157" x2="157.0" y2="351.24" stroke="#f0a0a0" stroke-width="0.9" />
<line x1="232.79999999999998" y1="157" x2="232.79999999999998" y2="351.24" stroke="#f0a0a0" stroke-width="0.9" />
<line x1="154.8" y1="158" x2="154.8" y2="351.84000000000003" stroke="#4a4a4a" stroke-width="0.8" />
<ellipse cx="154.8" cy="163.5" rx="0.8" ry="1.0" fill="#111"/>
<ellipse cx="154.8" cy="170.205" rx="0.8" ry="1.0" fill="#111"/>
<ellipse cx="154.8" cy="176.91" rx="0.8" ry="1.0" fill="#111"/>
<ellipse cx="154.8" cy="183.615" rx="0.8" ry="1.0" fill="#111"/>
<ellipse cx="154.8" cy="190.32" rx="0.8" ry="1.0" fill="#111"/>
<ellipse cx="154.8" cy="197.025" rx="0.8" ry="1.0" fill="#111"/>
<ellipse cx="154.8" cy="203.73000000000002" rx="0.8" ry="1.0" fill="#111"/>
<ellipse cx="154.8" cy="210.435" rx="0.8" ry="1.0" fill="#111"/>
<ellipse cx="154.8" cy="217.14" rx="0.8" ry="1.0" fill="#111"/>
<ellipse cx="154.8" cy="223.845" rx="0.8" ry="1.0" fill="#111"/>
<ellipse cx="154.8" cy="230.55" rx="0.8" ry="1.0" fill="#111"/>
<ellipse cx="154.8" cy="237.255" rx="0.8" ry="1.0" fill="#111"/>
<ellipse cx="154.8" cy="243.96" rx="0.8" ry="1.0" fill="#111"/>
<ellipse cx="154.8" cy="250.66500000000002" rx="0.8" ry="1.0" fill="#111"/>
<ellipse cx="154.8" cy="257.37" rx="0.8" ry="1.0" fill="#111"/>
<ellipse cx="154.8" cy="264.075" rx="0.8" ry="1.0" fill="#111"/>
<ellipse cx="154.8" cy="270.78" rx="0.8" ry="1.0" fill="#111"/>
<ellipse cx="154.8" cy="277.485" rx="0.8" ry="1.0" fill="#111"/>
<ellipse cx="154.8" cy="284.19" rx="0.8" ry="1.0" fill="#111"/>
<ellipse cx="154.8" cy="290.895" rx="0.8" ry="1.0" fill="#111"/>
<ellipse cx="154.8" cy="297.6" rx="0.8" ry="1.0" fill="#111"/>
<ellipse cx="154.8" cy="304.305" rx="0.8" ry="1.0" fill="#111"/>
<ellipse cx="154.8" cy="311.01" rx="0.8" ry="1.0" fill="#111"/>
<ellipse cx="154.8" cy="317.71500000000003" rx="0.8" ry="1.0" fill="#111"/>
<ellipse cx="154.8" cy="324.42" rx="0.8" ry="1.0" fill="#111"/>
<ellipse cx="154.8" cy="331.125" rx="0.8" ry="1.0" fill="#111"/>
<ellipse cx="154.8" cy="337.83000000000004" rx="0.8" ry="1.0" fill="#111"/>
<ellipse cx="154.8" cy="344.53499999999997" rx="0.8" ry="1.0" fill="#111"/>
<ellipse cx="154.8" cy="351.24" rx="0.8" ry="1.0" fill="#111"/>
<line x1="170.8" y1="158" x2="170.8" y2="351.84000000000003" stroke="#4a4a4a" stroke-width="0.8" />
<ellipse cx="170.8" cy="163.5" rx="0.8" ry="1.0" fill="#111"/>
<ellipse cx="170.8" cy="170.205" rx="0.8" ry="1.0" fill="#111"/>
<ellipse cx="170.8" cy="176.91" rx="0.8" ry="1.0" fill="#111"/>
<ellipse cx="170.8" cy="183.615" rx="0.8" ry="1.0" fill="#111"/>
<ellipse cx="170.8" cy="190.32" rx="0.8" ry="1.0" fill="#111"/>
<ellipse cx="170.8" cy="197.025" rx="0.8" ry="1.0" fill="#111"/>
<ellipse cx="170.8" cy="203.73000000000002" rx="0.8" ry="1.0" fill="#111"/>
<ellipse cx="170.8" cy="210.435" rx="0.8" ry="1.0" fill="#111"/>
<ellipse cx="170.8" cy="217.14" rx="0.8" ry="1.0" fill="#111"/>
<ellipse cx="170.8" cy="223.845" rx="0.8" ry="1.0" fill="#111"/>
<ellipse cx="170.8" cy="230.55" rx="0.8" ry="1.0" fill="#111"/>
<ellipse cx="170.8" cy="237.255" rx="0.8" ry="1.0" fill="#111"/>
<ellipse cx="170.8" cy="243.96" rx="0.8" ry="1.0" fill="#111"/>
<ellipse cx="170.8" cy="250.66500000000002" rx="0.8" ry="1.0" fill="#111"/>
<ellipse cx="170.8" cy="257.37" rx="0.8" ry="1.0" fill="#111"/>
<ellipse cx="170.8" cy="264.075" rx="0.8" ry="1.0" fill="#111"/>
<ellipse cx="170.8" cy="270.78" rx="0.8" ry="1.0" fill="#111"/>
<ellipse cx="170.8" cy="277.485" rx="0.8" ry="1.0" fill="#111"/>
<ellipse cx="170.8" cy="284.19" rx="0.8" ry="1.0" fill="#111"/>
<ellipse cx="170.8" cy="290.895" rx="0.8" ry="1.0" fill="#111"/>
<ellipse cx="170.8" cy="297.6" rx="0.8" ry="1.0" fill="#111"/>
<ellipse cx="170.8" cy="304.305" rx="0.8" ry="1.0" fill="#111"/>
<ellipse cx="170.8" cy="311.01" rx="0.8" ry="1.0" fill="#111"/>
<ellipse cx="170.8" cy="317.71500000000003" rx="0.8" ry="1.0" fill="#111"/>
<ellipse cx="170.8" cy="324.42" rx="0.8" ry="1.0" fill="#111"/>
<ellipse cx="170.8" cy="331.125" rx="0.8" ry="1.0" fill="#111"/>
<ellipse cx="170.8" cy="337.83000000000004" rx="0.8" ry="1.0" fill="#111"/>
<ellipse cx="170.8" cy="344.53499999999997" rx="0.8" ry="1.0" fill="#111"/>
<ellipse cx="170.8" cy="351.24" rx="0.8" ry="1.0" fill="#111"/>
<line x1="186.8" y1="158" x2="186.8" y2="351.84000000000003" stroke="#4a4a4a" stroke-width="0.8" />
<ellipse cx="186.8" cy="163.5" rx="0.8" ry="1.0" fill="#111"/>
<ellipse cx="186.8" cy="170.205" rx="0.8" ry="1.0" fill="#111"/>
<ellipse cx="186.8" cy="176.91" rx="0.8" ry="1.0" fill="#111"/>
<ellipse cx="186.8" cy="183.615" rx="0.8" ry="1.0" fill="#111"/>
<ellipse cx="186.8" cy="190.32" rx="0.8" ry="1.0" fill="#111"/>
<ellipse cx="186.8" cy="197.025" rx="0.8" ry="1.0" fill="#111"/>
<ellipse cx="186.8" cy="203.73000000000002" rx="0.8" ry="1.0" fill="#111"/>
<ellipse cx="186.8" cy="210.435" rx="0.8" ry="1.0" fill="#111"/>
<ellipse cx="186.8" cy="217.14" rx="0.8" ry="1.0" fill="#111"/>
<ellipse cx="186.8" cy="223.845" rx="0.8" ry="1.0" fill="#111"/>
<ellipse cx="186.8" cy="230.55" rx="0.8" ry="1.0" fill="#111"/>
<ellipse cx="186.8" cy="237.255" rx="0.8" ry="1.0" fill="#111"/>
<ellipse cx="186.8" cy="243.96" rx="0.8" ry="1.0" fill="#111"/>
<ellipse cx="186.8" cy="250.66500000000002" rx="0.8" ry="1.0" fill="#111"/>
<ellipse cx="186.8" cy="257.37" rx="0.8" ry="1.0" fill="#111"/>
<ellipse cx="186.8" cy="264.075" rx="0.8" ry="1.0" fill="#111"/>
<ellipse cx="186.8" cy="270.78" rx="0.8" ry="1.0" fill="#111"/>
<ellipse cx="186.8" cy="277.485" rx="0.8" ry="1.0" fill="#111"/>
<ellipse cx="186.8" cy="284.19" rx="0.8" ry="1.0" fill="#111"/>
<ellipse cx="186.8" cy="290.895" rx="0.8" ry="1.0" fill="#111"/>
<ellipse cx="186.8" cy="297.6" rx="0.8" ry="1.0" fill="#111"/>
<ellipse cx="186.8" cy="304.305" rx="0.8" ry="1.0" fill="#111"/>
<ellipse cx="186.8" cy="311.01" rx="0.8" ry="1.0" fill="#111"/>
<ellipse cx="186.8" cy="317.71500000000003" rx="0.8" ry="1.0" fill="#111"/>
<ellipse cx="186.8" cy="324.42" rx="0.8" ry="1.0" fill="#111"/>
<ellipse cx="186.8" cy="331.125" rx="0.8" ry="1.0" fill="#111"/>
<ellipse cx="186.8" cy="337.83000000000004" rx="0.8" ry="1.0" fill="#111"/>
<ellipse cx="186.8" cy="344.53499999999997" rx="0.8" ry="1.0" fill="#111"/>
<ellipse cx="186.8" cy="351.24" rx="0.8" ry="1.0" fill="#111"/>
<line x1="202.8" y1="158" x2="202.8" y2="351.84000000000003" stroke="#4a4a4a" stroke-width="0.8" />
<ellipse cx="202.8" cy="163.5" rx="0.8" ry="1.0" fill="#111"/>
<ellipse cx="202.8" cy="170.205" rx="0.8" ry="1.0" fill="#111"/>
<ellipse cx="202.8" cy="176.91" rx="0.8" ry="1.0" fill="#111"/>
<ellipse cx="202.8" cy="183.615" rx="0.8" ry="1.0" fill="#111"/>
<ellipse cx="202.8" cy="190.32" rx="0.8" ry="1.0" fill="#111"/>
<ellipse cx="202.8" cy="197.025" rx="0.8" ry="1.0" fill="#111"/>
<ellipse cx="202.8" cy="203.73000000000002" rx="0.8" ry="1.0" fill="#111"/>
<ellipse cx="202.8" cy="210.435" rx="0.8" ry="1.0" fill="#111"/>
<ellipse cx="202.8" cy="217.14" rx="0.8" ry="1.0" fill="#111"/>
<ellipse cx="202.8" cy="223.845" rx="0.8" ry="1.0" fill="#111"/>
<ellipse cx="202.8" cy="230.55" rx="0.8" ry="1.0" fill="#111"/>
<ellipse cx="202.8" cy="237.255" rx="0.8" ry="1.0" fill="#111"/>
<ellipse cx="202.8" cy="243.96" rx="0.8" ry="1.0" fill="#111"/>
<ellipse cx="202.8" cy="250.66500000000002" rx="0.8" ry="1.0" fill="#111"/>
<ellipse cx="202.8" cy="257.37" rx="0.8" ry="1.0" fill="#111"/>
<ellipse cx="202.8" cy="264.075" rx="0.8" ry="1.0" fill="#111"/>
<ellipse cx="202.8" cy="270.78" rx="0.8" ry="1.0" fill="#111"/>
<ellipse cx="202.8" cy="277.485" rx="0.8" ry="1.0" fill="#111"/>
<ellipse cx="202.8" cy="284.19" rx="0.8" ry="1.0" fill="#111"/>
<ellipse cx="202.8" cy="290.895" rx="0.8" ry="1.0" fill="#111"/>
<ellipse cx="202.8" cy="297.6" rx="0.8" ry="1.0" fill="#111"/>
<ellipse cx="202.8" cy="304.305" rx="0.8" ry="1.0" fill="#111"/>
<ellipse cx="202.8" cy="311.01" rx="0.8" ry="1.0" fill="#111"/>
<ellipse cx="202.8" cy="317.71500000000003" rx="0.8" ry="1.0" fill="#111"/>
<ellipse cx="202.8" cy="324.42" rx="0.8" ry="1.0" fill="#111"/>
<ellipse cx="202.8" cy="331.125" rx="0.8" ry="1.0" fill="#111"/>
<ellipse cx="202.8" cy="337.83000000000004" rx="0.8" ry="1.0" fill="#111"/>
<ellipse cx="202.8" cy="344.53499999999997" rx="0.8" ry="1.0" fill="#111"/>
<ellipse cx="202.8" cy="351.24" rx="0.8" ry="1.0" fill="#111"/>
<line x1="218.8" y1="158" x2="218.8" y2="351.84000000000003" stroke="#4a4a4a" stroke-width="0.8" />
<ellipse cx="218.8" cy="163.5" rx="0.8" ry="1.0" fill="#111"/>
<ellipse cx="218.8" cy="170.205" rx="0.8" ry="1.0" fill="#111"/>
<ellipse cx="218.8" cy="176.91" rx="0.8" ry="1.0" fill="#111"/>
<ellipse cx="218.8" cy="183.615" rx="0.8" ry="1.0" fill="#111"/>
<ellipse cx="218.8" cy="190.32" rx="0.8" ry="1.0" fill="#111"/>
<ellipse cx="218.8" cy="197.025" rx="0.8" ry="1.0" fill="#111"/>
<ellipse cx="218.8" cy="203.73000000000002" rx="0.8" ry="1.0" fill="#111"/>
<ellipse cx="218.8" cy="210.435" rx="0.8" ry="1.0" fill="#111"/>
<ellipse cx="218.8" cy="217.14" rx="0.8" ry="1.0" fill="#111"/>
<ellipse cx="218.8" cy="223.845" rx="0.8" ry="1.0" fill="#111"/>
<ellipse cx="218.8" cy="230.55" rx="0.8" ry="1.0" fill="#111"/>
<ellipse cx="218.8" cy="237.255" rx="0.8" ry="1.0" fill="#111"/>
<ellipse cx="218.8" cy="243.96" rx="0.8" ry="1.0" fill="#111"/>
<ellipse cx="218.8" cy="250.66500000000002" rx="0.8" ry="1.0" fill="#111"/>
<ellipse cx="218.8" cy="257.37" rx="0.8" ry="1.0" fill="#111"/>
<ellipse cx="218.8" cy="264.075" rx="0.8" ry="1.0" fill="#111"/>
<ellipse cx="218.8" cy="270.78" rx="0.8" ry="1.0" fill="#111"/>
<ellipse cx="218.8" cy="277.485" rx="0.8" ry="1.0" fill="#111"/>
<ellipse cx="218.8" cy="284.19" rx="0.8" ry="1.0" fill="#111"/>
<ellipse cx="218.8" cy="290.895" rx="0.8" ry="1.0" fill="#111"/>
<ellipse cx="218.8" cy="297.6" rx="0.8" ry="1.0" fill="#111"/>
<ellipse cx="218.8" cy="304.305" rx="0.8" ry="1.0" fill="#111"/>
<ellipse cx="218.8" cy="311.01" rx="0.8" ry="1.0" fill="#111"/>
<ellipse cx="218.8" cy="317.71500000000003" rx="0.8" ry="1.0" fill="#111"/>
<ellipse cx="218.8" cy="324.42" rx="0.8" ry="1.0" fill="#111"/>
<ellipse cx="218.8" cy="331.125" rx="0.8" ry="1.0" fill="#111"/>
<ellipse cx="218.8" cy="337.83000000000004" rx="0.8" ry="1.0" fill="#111"/>
<ellipse cx="218.8" cy="344.53499999999997" rx="0.8" ry="1.0" fill="#111"/>
<ellipse cx="218.8" cy="351.24" rx="0.8" ry="1.0" fill="#111"/>
<line x1="147.0" y1="158" x2="147.0" y2="351.24" stroke="#5a5a5a" stroke-width="0.7" />
<ellipse cx="147.0" cy="163.5" rx="1.3" ry="1.0" fill="#2a0505"/>
<ellipse cx="147.0" cy="159.0" rx="0.9" ry="1.0" fill="#111"/>
<ellipse cx="147.0" cy="170.205" rx="1.3" ry="1.0" fill="#2a0505"/>
<ellipse cx="147.0" cy="165.705" rx="0.9" ry="1.0" fill="#111"/>
<ellipse cx="147.0" cy="176.91" rx="1.3" ry="1.0" fill="#2a0505"/>
<ellipse cx="147.0" cy="172.41" rx="0.9" ry="1.0" fill="#111"/>
<ellipse cx="147.0" cy="183.615" rx="1.3" ry="1.0" fill="#2a0505"/>
<ellipse cx="147.0" cy="179.115" rx="0.9" ry="1.0" fill="#111"/>
<ellipse cx="147.0" cy="190.32" rx="1.3" ry="1.0" fill="#2a0505"/>
<ellipse cx="147.0" cy="185.82" rx="0.9" ry="1.0" fill="#111"/>
<ellipse cx="147.0" cy="197.025" rx="1.3" ry="1.0" fill="#2a0505"/>
<ellipse cx="147.0" cy="192.525" rx="0.9" ry="1.0" fill="#111"/>
<ellipse cx="147.0" cy="203.73000000000002" rx="1.3" ry="1.0" fill="#2a0505"/>
<ellipse cx="147.0" cy="199.23000000000002" rx="0.9" ry="1.0" fill="#111"/>
<ellipse cx="147.0" cy="210.435" rx="1.3" ry="1.0" fill="#2a0505"/>
<ellipse cx="147.0" cy="205.935" rx="0.9" ry="1.0" fill="#111"/>
<ellipse cx="147.0" cy="217.14" rx="1.3" ry="1.0" fill="#2a0505"/>
<ellipse cx="147.0" cy="212.64" rx="0.9" ry="1.0" fill="#111"/>
<ellipse cx="147.0" cy="223.845" rx="1.3" ry="1.0" fill="#2a0505"/>
<ellipse cx="147.0" cy="219.345" rx="0.9" ry="1.0" fill="#111"/>
<ellipse cx="147.0" cy="230.55" rx="1.3" ry="1.0" fill="#2a0505"/>
<ellipse cx="147.0" cy="226.05" rx="0.9" ry="1.0" fill="#111"/>
<ellipse cx="147.0" cy="237.255" rx="1.3" ry="1.0" fill="#2a0505"/>
<ellipse cx="147.0" cy="232.755" rx="0.9" ry="1.0" fill="#111"/>
<ellipse cx="147.0" cy="243.96" rx="1.3" ry="1.0" fill="#2a0505"/>
<ellipse cx="147.0" cy="239.46" rx="0.9" ry="1.0" fill="#111"/>
<ellipse cx="147.0" cy="250.66500000000002" rx="1.3" ry="1.0" fill="#2a0505"/>
<ellipse cx="147.0" cy="246.16500000000002" rx="0.9" ry="1.0" fill="#111"/>
<ellipse cx="147.0" cy="257.37" rx="1.3" ry="1.0" fill="#2a0505"/>
<ellipse cx="147.0" cy="252.87" rx="0.9" ry="1.0" fill="#111"/>
<ellipse cx="147.0" cy="264.075" rx="1.3" ry="1.0" fill="#2a0505"/>
<ellipse cx="147.0" cy="259.575" rx="0.9" ry="1.0" fill="#111"/>
<ellipse cx="147.0" cy="270.78" rx="1.3" ry="1.0" fill="#2a0505"/>
<ellipse cx="147.0" cy="266.28" rx="0.9" ry="1.0" fill="#111"/>
<ellipse cx="147.0" cy="277.485" rx="1.3" ry="1.0" fill="#2a0505"/>
<ellipse cx="147.0" cy="272.985" rx="0.9" ry="1.0" fill="#111"/>
<ellipse cx="147.0" cy="284.19" rx="1.3" ry="1.0" fill="#2a0505"/>
<ellipse cx="147.0" cy="279.69" rx="0.9" ry="1.0" fill="#111"/>
<ellipse cx="147.0" cy="290.895" rx="1.3" ry="1.0" fill="#2a0505"/>
<ellipse cx="147.0" cy="286.395" rx="0.9" ry="1.0" fill="#111"/>
<ellipse cx="147.0" cy="297.6" rx="1.3" ry="1.0" fill="#2a0505"/>
<ellipse cx="147.0" cy="293.1" rx="0.9" ry="1.0" fill="#111"/>
<ellipse cx="147.0" cy="304.305" rx="1.3" ry="1.0" fill="#2a0505"/>
<ellipse cx="147.0" cy="299.805" rx="0.9" ry="1.0" fill="#111"/>
<ellipse cx="147.0" cy="311.01" rx="1.3" ry="1.0" fill="#2a0505"/>
<ellipse cx="147.0" cy="306.51" rx="0.9" ry="1.0" fill="#111"/>
<ellipse cx="147.0" cy="317.71500000000003" rx="1.3" ry="1.0" fill="#2a0505"/>
<ellipse cx="147.0" cy="313.21500000000003" rx="0.9" ry="1.0" fill="#111"/>
<ellipse cx="147.0" cy="324.42" rx="1.3" ry="1.0" fill="#2a0505"/>
<ellipse cx="147.0" cy="319.92" rx="0.9" ry="1.0" fill="#111"/>
<ellipse cx="147.0" cy="331.125" rx="1.3" ry="1.0" fill="#2a0505"/>
<ellipse cx="147.0" cy="326.625" rx="0.9" ry="1.0" fill="#111"/>
<ellipse cx="147.0" cy="337.83000000000004" rx="1.3" ry="1.0" fill="#2a0505"/>
<ellipse cx="147.0" cy="333.33000000000004" rx="0.9" ry="1.0" fill="#111"/>
<ellipse cx="147.0" cy="344.53499999999997" rx="1.3" ry="1.0" fill="#2a0505"/>
<ellipse cx="147.0" cy="340.03499999999997" rx="0.9" ry="1.0" fill="#111"/>
<ellipse cx="147.0" cy="351.24" rx="1.3" ry="1.0" fill="#2a0505"/>
<ellipse cx="147.0" cy="346.74" rx="0.9" ry="1.0" fill="#111"/>
<line x1="147.0" y1="351.24" x2="147.0" y2="354.5" stroke="#000" stroke-width="1.4" />
<line x1="163.0" y1="158" x2="163.0" y2="351.24" stroke="#5a5a5a" stroke-width="0.7" />
<ellipse cx="163.0" cy="163.5" rx="1.3" ry="1.0" fill="#2a0505"/>
<ellipse cx="163.0" cy="159.0" rx="0.9" ry="1.0" fill="#111"/>
<ellipse cx="163.0" cy="170.205" rx="1.3" ry="1.0" fill="#2a0505"/>
<ellipse cx="163.0" cy="165.705" rx="0.9" ry="1.0" fill="#111"/>
<ellipse cx="163.0" cy="176.91" rx="1.3" ry="1.0" fill="#2a0505"/>
<ellipse cx="163.0" cy="172.41" rx="0.9" ry="1.0" fill="#111"/>
<ellipse cx="163.0" cy="183.615" rx="1.3" ry="1.0" fill="#2a0505"/>
<ellipse cx="163.0" cy="179.115" rx="0.9" ry="1.0" fill="#111"/>
<ellipse cx="163.0" cy="190.32" rx="1.3" ry="1.0" fill="#2a0505"/>
<ellipse cx="163.0" cy="185.82" rx="0.9" ry="1.0" fill="#111"/>
<ellipse cx="163.0" cy="197.025" rx="1.3" ry="1.0" fill="#2a0505"/>
<ellipse cx="163.0" cy="192.525" rx="0.9" ry="1.0" fill="#111"/>
<ellipse cx="163.0" cy="203.73000000000002" rx="1.3" ry="1.0" fill="#2a0505"/>
<ellipse cx="163.0" cy="199.23000000000002" rx="0.9" ry="1.0" fill="#111"/>
<ellipse cx="163.0" cy="210.435" rx="1.3" ry="1.0" fill="#2a0505"/>
<ellipse cx="163.0" cy="205.935" rx="0.9" ry="1.0" fill="#111"/>
<ellipse cx="163.0" cy="217.14" rx="1.3" ry="1.0" fill="#2a0505"/>
<ellipse cx="163.0" cy="212.64" rx="0.9" ry="1.0" fill="#111"/>
<ellipse cx="163.0" cy="223.845" rx="1.3" ry="1.0" fill="#2a0505"/>
<ellipse cx="163.0" cy="219.345" rx="0.9" ry="1.0" fill="#111"/>
<ellipse cx="163.0" cy="230.55" rx="1.3" ry="1.0" fill="#2a0505"/>
<ellipse cx="163.0" cy="226.05" rx="0.9" ry="1.0" fill="#111"/>
<ellipse cx="163.0" cy="237.255" rx="1.3" ry="1.0" fill="#2a0505"/>
<ellipse cx="163.0" cy="232.755" rx="0.9" ry="1.0" fill="#111"/>
<ellipse cx="163.0" cy="243.96" rx="1.3" ry="1.0" fill="#2a0505"/>
<ellipse cx="163.0" cy="239.46" rx="0.9" ry="1.0" fill="#111"/>
<ellipse cx="163.0" cy="250.66500000000002" rx="1.3" ry="1.0" fill="#2a0505"/>
<ellipse cx="163.0" cy="246.16500000000002" rx="0.9" ry="1.0" fill="#111"/>
<ellipse cx="163.0" cy="257.37" rx="1.3" ry="1.0" fill="#2a0505"/>
<ellipse cx="163.0" cy="252.87" rx="0.9" ry="1.0" fill="#111"/>
<ellipse cx="163.0" cy="264.075" rx="1.3" ry="1.0" fill="#2a0505"/>
<ellipse cx="163.0" cy="259.575" rx="0.9" ry="1.0" fill="#111"/>
<ellipse cx="163.0" cy="270.78" rx="1.3" ry="1.0" fill="#2a0505"/>
<ellipse cx="163.0" cy="266.28" rx="0.9" ry="1.0" fill="#111"/>
<ellipse cx="163.0" cy="277.485" rx="1.3" ry="1.0" fill="#2a0505"/>
<ellipse cx="163.0" cy="272.985" rx="0.9" ry="1.0" fill="#111"/>
<ellipse cx="163.0" cy="284.19" rx="1.3" ry="1.0" fill="#2a0505"/>
<ellipse cx="163.0" cy="279.69" rx="0.9" ry="1.0" fill="#111"/>
<ellipse cx="163.0" cy="290.895" rx="1.3" ry="1.0" fill="#2a0505"/>
<ellipse cx="163.0" cy="286.395" rx="0.9" ry="1.0" fill="#111"/>
<ellipse cx="163.0" cy="297.6" rx="1.3" ry="1.0" fill="#2a0505"/>
<ellipse cx="163.0" cy="293.1" rx="0.9" ry="1.0" fill="#111"/>
<ellipse cx="163.0" cy="304.305" rx="1.3" ry="1.0" fill="#2a0505"/>
<ellipse cx="163.0" cy="299.805" rx="0.9" ry="1.0" fill="#111"/>
<ellipse cx="163.0" cy="311.01" rx="1.3" ry="1.0" fill="#2a0505"/>
<ellipse cx="163.0" cy="306.51" rx="0.9" ry="1.0" fill="#111"/>
<ellipse cx="163.0" cy="317.71500000000003" rx="1.3" ry="1.0" fill="#2a0505"/>
<ellipse cx="163.0" cy="313.21500000000003" rx="0.9" ry="1.0" fill="#111"/>
<ellipse cx="163.0" cy="324.42" rx="1.3" ry="1.0" fill="#2a0505"/>
<ellipse cx="163.0" cy="319.92" rx="0.9" ry="1.0" fill="#111"/>
<ellipse cx="163.0" cy="331.125" rx="1.3" ry="1.0" fill="#2a0505"/>
<ellipse cx="163.0" cy="326.625" rx="0.9" ry="1.0" fill="#111"/>
<ellipse cx="163.0" cy="337.83000000000004" rx="1.3" ry="1.0" fill="#2a0505"/>
<ellipse cx="163.0" cy="333.33000000000004" rx="0.9" ry="1.0" fill="#111"/>
<ellipse cx="163.0" cy="344.53499999999997" rx="1.3" ry="1.0" fill="#2a0505"/>
<ellipse cx="163.0" cy="340.03499999999997" rx="0.9" ry="1.0" fill="#111"/>
<ellipse cx="163.0" cy="351.24" rx="1.3" ry="1.0" fill="#2a0505"/>
<ellipse cx="163.0" cy="346.74" rx="0.9" ry="1.0" fill="#111"/>
<line x1="163.0" y1="351.24" x2="163.0" y2="354.5" stroke="#000" stroke-width="1.4" />
<line x1="179.0" y1="158" x2="179.0" y2="351.24" stroke="#5a5a5a" stroke-width="0.7" />
<ellipse cx="179.0" cy="163.5" rx="1.3" ry="1.0" fill="#2a0505"/>
<ellipse cx="179.0" cy="159.0" rx="0.9" ry="1.0" fill="#111"/>
<ellipse cx="179.0" cy="170.205" rx="1.3" ry="1.0" fill="#2a0505"/>
<ellipse cx="179.0" cy="165.705" rx="0.9" ry="1.0" fill="#111"/>
<ellipse cx="179.0" cy="176.91" rx="1.3" ry="1.0" fill="#2a0505"/>
<ellipse cx="179.0" cy="172.41" rx="0.9" ry="1.0" fill="#111"/>
<ellipse cx="179.0" cy="183.615" rx="1.3" ry="1.0" fill="#2a0505"/>
<ellipse cx="179.0" cy="179.115" rx="0.9" ry="1.0" fill="#111"/>
<ellipse cx="179.0" cy="190.32" rx="1.3" ry="1.0" fill="#2a0505"/>
<ellipse cx="179.0" cy="185.82" rx="0.9" ry="1.0" fill="#111"/>
<ellipse cx="179.0" cy="197.025" rx="1.3" ry="1.0" fill="#2a0505"/>
<ellipse cx="179.0" cy="192.525" rx="0.9" ry="1.0" fill="#111"/>
<ellipse cx="179.0" cy="203.73000000000002" rx="1.3" ry="1.0" fill="#2a0505"/>
<ellipse cx="179.0" cy="199.23000000000002" rx="0.9" ry="1.0" fill="#111"/>
<ellipse cx="179.0" cy="210.435" rx="1.3" ry="1.0" fill="#2a0505"/>
<ellipse cx="179.0" cy="205.935" rx="0.9" ry="1.0" fill="#111"/>
<ellipse cx="179.0" cy="217.14" rx="1.3" ry="1.0" fill="#2a0505"/>
<ellipse cx="179.0" cy="212.64" rx="0.9" ry="1.0" fill="#111"/>
<ellipse cx="179.0" cy="223.845" rx="1.3" ry="1.0" fill="#2a0505"/>
<ellipse cx="179.0" cy="219.345" rx="0.9" ry="1.0" fill="#111"/>
<ellipse cx="179.0" cy="230.55" rx="1.3" ry="1.0" fill="#2a0505"/>
<ellipse cx="179.0" cy="226.05" rx="0.9" ry="1.0" fill="#111"/>
<ellipse cx="179.0" cy="237.255" rx="1.3" ry="1.0" fill="#2a0505"/>
<ellipse cx="179.0" cy="232.755" rx="0.9" ry="1.0" fill="#111"/>
<ellipse cx="179.0" cy="243.96" rx="1.3" ry="1.0" fill="#2a0505"/>
<ellipse cx="179.0" cy="239.46" rx="0.9" ry="1.0" fill="#111"/>
<ellipse cx="179.0" cy="250.66500000000002" rx="1.3" ry="1.0" fill="#2a0505"/>
<ellipse cx="179.0" cy="246.16500000000002" rx="0.9" ry="1.0" fill="#111"/>
<ellipse cx="179.0" cy="257.37" rx="1.3" ry="1.0" fill="#2a0505"/>
<ellipse cx="179.0" cy="252.87" rx="0.9" ry="1.0" fill="#111"/>
<ellipse cx="179.0" cy="264.075" rx="1.3" ry="1.0" fill="#2a0505"/>
<ellipse cx="179.0" cy="259.575" rx="0.9" ry="1.0" fill="#111"/>
<ellipse cx="179.0" cy="270.78" rx="1.3" ry="1.0" fill="#2a0505"/>
<ellipse cx="179.0" cy="266.28" rx="0.9" ry="1.0" fill="#111"/>
<ellipse cx="179.0" cy="277.485" rx="1.3" ry="1.0" fill="#2a0505"/>
<ellipse cx="179.0" cy="272.985" rx="0.9" ry="1.0" fill="#111"/>
<ellipse cx="179.0" cy="284.19" rx="1.3" ry="1.0" fill="#2a0505"/>
<ellipse cx="179.0" cy="279.69" rx="0.9" ry="1.0" fill="#111"/>
<ellipse cx="179.0" cy="290.895" rx="1.3" ry="1.0" fill="#2a0505"/>
<ellipse cx="179.0" cy="286.395" rx="0.9" ry="1.0" fill="#111"/>
<ellipse cx="179.0" cy="297.6" rx="1.3" ry="1.0" fill="#2a0505"/>
<ellipse cx="179.0" cy="293.1" rx="0.9" ry="1.0" fill="#111"/>
<ellipse cx="179.0" cy="304.305" rx="1.3" ry="1.0" fill="#2a0505"/>
<ellipse cx="179.0" cy="299.805" rx="0.9" ry="1.0" fill="#111"/>
<ellipse cx="179.0" cy="311.01" rx="1.3" ry="1.0" fill="#2a0505"/>
<ellipse cx="179.0" cy="306.51" rx="0.9" ry="1.0" fill="#111"/>
<ellipse cx="179.0" cy="317.71500000000003" rx="1.3" ry="1.0" fill="#2a0505"/>
<ellipse cx="179.0" cy="313.21500000000003" rx="0.9" ry="1.0" fill="#111"/>
<ellipse cx="179.0" cy="324.42" rx="1.3" ry="1.0" fill="#2a0505"/>
<ellipse cx="179.0" cy="319.92" rx="0.9" ry="1.0" fill="#111"/>
<ellipse cx="179.0" cy="331.125" rx="1.3" ry="1.0" fill="#2a0505"/>
<ellipse cx="179.0" cy="326.625" rx="0.9" ry="1.0" fill="#111"/>
<ellipse cx="179.0" cy="337.83000000000004" rx="1.3" ry="1.0" fill="#2a0505"/>
<ellipse cx="179.0" cy="333.33000000000004" rx="0.9" ry="1.0" fill="#111"/>
<ellipse cx="179.0" cy="344.53499999999997" rx="1.3" ry="1.0" fill="#2a0505"/>
<ellipse cx="179.0" cy="340.03499999999997" rx="0.9" ry="1.0" fill="#111"/>
<ellipse cx="179.0" cy="351.24" rx="1.3" ry="1.0" fill="#2a0505"/>
<ellipse cx="179.0" cy="346.74" rx="0.9" ry="1.0" fill="#111"/>
<line x1="179.0" y1="351.24" x2="179.0" y2="354.5" stroke="#000" stroke-width="1.4" />
<line x1="195.0" y1="158" x2="195.0" y2="351.24" stroke="#5a5a5a" stroke-width="0.7" />
<ellipse cx="195.0" cy="163.5" rx="1.3" ry="1.0" fill="#2a0505"/>
<ellipse cx="195.0" cy="159.0" rx="0.9" ry="1.0" fill="#111"/>
<ellipse cx="195.0" cy="170.205" rx="1.3" ry="1.0" fill="#2a0505"/>
<ellipse cx="195.0" cy="165.705" rx="0.9" ry="1.0" fill="#111"/>
<ellipse cx="195.0" cy="176.91" rx="1.3" ry="1.0" fill="#2a0505"/>
<ellipse cx="195.0" cy="172.41" rx="0.9" ry="1.0" fill="#111"/>
<ellipse cx="195.0" cy="183.615" rx="1.3" ry="1.0" fill="#2a0505"/>
<ellipse cx="195.0" cy="179.115" rx="0.9" ry="1.0" fill="#111"/>
<ellipse cx="195.0" cy="190.32" rx="1.3" ry="1.0" fill="#2a0505"/>
<ellipse cx="195.0" cy="185.82" rx="0.9" ry="1.0" fill="#111"/>
<ellipse cx="195.0" cy="197.025" rx="1.3" ry="1.0" fill="#2a0505"/>
<ellipse cx="195.0" cy="192.525" rx="0.9" ry="1.0" fill="#111"/>
<ellipse cx="195.0" cy="203.73000000000002" rx="1.3" ry="1.0" fill="#2a0505"/>
<ellipse cx="195.0" cy="199.23000000000002" rx="0.9" ry="1.0" fill="#111"/>
<ellipse cx="195.0" cy="210.435" rx="1.3" ry="1.0" fill="#2a0505"/>
<ellipse cx="195.0" cy="205.935" rx="0.9" ry="1.0" fill="#111"/>
<ellipse cx="195.0" cy="217.14" rx="1.3" ry="1.0" fill="#2a0505"/>
<ellipse cx="195.0" cy="212.64" rx="0.9" ry="1.0" fill="#111"/>
<ellipse cx="195.0" cy="223.845" rx="1.3" ry="1.0" fill="#2a0505"/>
<ellipse cx="195.0" cy="219.345" rx="0.9" ry="1.0" fill="#111"/>
<ellipse cx="195.0" cy="230.55" rx="1.3" ry="1.0" fill="#2a0505"/>
<ellipse cx="195.0" cy="226.05" rx="0.9" ry="1.0" fill="#111"/>
<ellipse cx="195.0" cy="237.255" rx="1.3" ry="1.0" fill="#2a0505"/>
<ellipse cx="195.0" cy="232.755" rx="0.9" ry="1.0" fill="#111"/>
<ellipse cx="195.0" cy="243.96" rx="1.3" ry="1.0" fill="#2a0505"/>
<ellipse cx="195.0" cy="239.46" rx="0.9" ry="1.0" fill="#111"/>
<ellipse cx="195.0" cy="250.66500000000002" rx="1.3" ry="1.0" fill="#2a0505"/>
<ellipse cx="195.0" cy="246.16500000000002" rx="0.9" ry="1.0" fill="#111"/>
<ellipse cx="195.0" cy="257.37" rx="1.3" ry="1.0" fill="#2a0505"/>
<ellipse cx="195.0" cy="252.87" rx="0.9" ry="1.0" fill="#111"/>
<ellipse cx="195.0" cy="264.075" rx="1.3" ry="1.0" fill="#2a0505"/>
<ellipse cx="195.0" cy="259.575" rx="0.9" ry="1.0" fill="#111"/>
<ellipse cx="195.0" cy="270.78" rx="1.3" ry="1.0" fill="#2a0505"/>
<ellipse cx="195.0" cy="266.28" rx="0.9" ry="1.0" fill="#111"/>
<ellipse cx="195.0" cy="277.485" rx="1.3" ry="1.0" fill="#2a0505"/>
<ellipse cx="195.0" cy="272.985" rx="0.9" ry="1.0" fill="#111"/>
<ellipse cx="195.0" cy="284.19" rx="1.3" ry="1.0" fill="#2a0505"/>
<ellipse cx="195.0" cy="279.69" rx="0.9" ry="1.0" fill="#111"/>
<ellipse cx="195.0" cy="290.895" rx="1.3" ry="1.0" fill="#2a0505"/>
<ellipse cx="195.0" cy="286.395" rx="0.9" ry="1.0" fill="#111"/>
<ellipse cx="195.0" cy="297.6" rx="1.3" ry="1.0" fill="#2a0505"/>
<ellipse cx="195.0" cy="293.1" rx="0.9" ry="1.0" fill="#111"/>
<ellipse cx="195.0" cy="304.305" rx="1.3" ry="1.0" fill="#2a0505"/>
<ellipse cx="195.0" cy="299.805" rx="0.9" ry="1.0" fill="#111"/>
<ellipse cx="195.0" cy="311.01" rx="1.3" ry="1.0" fill="#2a0505"/>
<ellipse cx="195.0" cy="306.51" rx="0.9" ry="1.0" fill="#111"/>
<ellipse cx="195.0" cy="317.71500000000003" rx="1.3" ry="1.0" fill="#2a0505"/>
<ellipse cx="195.0" cy="313.21500000000003" rx="0.9" ry="1.0" fill="#111"/>
<ellipse cx="195.0" cy="324.42" rx="1.3" ry="1.0" fill="#2a0505"/>
<ellipse cx="195.0" cy="319.92" rx="0.9" ry="1.0" fill="#111"/>
<ellipse cx="195.0" cy="331.125" rx="1.3" ry="1.0" fill="#2a0505"/>
<ellipse cx="195.0" cy="326.625" rx="0.9" ry="1.0" fill="#111"/>
<ellipse cx="195.0" cy="337.83000000000004" rx="1.3" ry="1.0" fill="#2a0505"/>
<ellipse cx="195.0" cy="333.33000000000004" rx="0.9" ry="1.0" fill="#111"/>
<ellipse cx="195.0" cy="344.53499999999997" rx="1.3" ry="1.0" fill="#2a0505"/>
<ellipse cx="195.0" cy="340.03499999999997" rx="0.9" ry="1.0" fill="#111"/>
<ellipse cx="195.0" cy="351.24" rx="1.3" ry="1.0" fill="#2a0505"/>
<ellipse cx="195.0" cy="346.74" rx="0.9" ry="1.0" fill="#111"/>
<line x1="195.0" y1="351.24" x2="195.0" y2="354.5" stroke="#000" stroke-width="1.4" />
<line x1="211.0" y1="158" x2="211.0" y2="351.24" stroke="#5a5a5a" stroke-width="0.7" />
<ellipse cx="211.0" cy="163.5" rx="1.3" ry="1.0" fill="#2a0505"/>
<ellipse cx="211.0" cy="159.0" rx="0.9" ry="1.0" fill="#111"/>
<ellipse cx="211.0" cy="170.205" rx="1.3" ry="1.0" fill="#2a0505"/>
<ellipse cx="211.0" cy="165.705" rx="0.9" ry="1.0" fill="#111"/>
<ellipse cx="211.0" cy="176.91" rx="1.3" ry="1.0" fill="#2a0505"/>
<ellipse cx="211.0" cy="172.41" rx="0.9" ry="1.0" fill="#111"/>
<ellipse cx="211.0" cy="183.615" rx="1.3" ry="1.0" fill="#2a0505"/>
<ellipse cx="211.0" cy="179.115" rx="0.9" ry="1.0" fill="#111"/>
<ellipse cx="211.0" cy="190.32" rx="1.3" ry="1.0" fill="#2a0505"/>
<ellipse cx="211.0" cy="185.82" rx="0.9" ry="1.0" fill="#111"/>
<ellipse cx="211.0" cy="197.025" rx="1.3" ry="1.0" fill="#2a0505"/>
<ellipse cx="211.0" cy="192.525" rx="0.9" ry="1.0" fill="#111"/>
<ellipse cx="211.0" cy="203.73000000000002" rx="1.3" ry="1.0" fill="#2a0505"/>
<ellipse cx="211.0" cy="199.23000000000002" rx="0.9" ry="1.0" fill="#111"/>
<ellipse cx="211.0" cy="210.435" rx="1.3" ry="1.0" fill="#2a0505"/>
<ellipse cx="211.0" cy="205.935" rx="0.9" ry="1.0" fill="#111"/>
<ellipse cx="211.0" cy="217.14" rx="1.3" ry="1.0" fill="#2a0505"/>
<ellipse cx="211.0" cy="212.64" rx="0.9" ry="1.0" fill="#111"/>
<ellipse cx="211.0" cy="223.845" rx="1.3" ry="1.0" fill="#2a0505"/>
<ellipse cx="211.0" cy="219.345" rx="0.9" ry="1.0" fill="#111"/>
<ellipse cx="211.0" cy="230.55" rx="1.3" ry="1.0" fill="#2a0505"/>
<ellipse cx="211.0" cy="226.05" rx="0.9" ry="1.0" fill="#111"/>
<ellipse cx="211.0" cy="237.255" rx="1.3" ry="1.0" fill="#2a0505"/>
<ellipse cx="211.0" cy="232.755" rx="0.9" ry="1.0" fill="#111"/>
<ellipse cx="211.0" cy="243.96" rx="1.3" ry="1.0" fill="#2a0505"/>
<ellipse cx="211.0" cy="239.46" rx="0.9" ry="1.0" fill="#111"/>
<ellipse cx="211.0" cy="250.66500000000002" rx="1.3" ry="1.0" fill="#2a0505"/>
<ellipse cx="211.0" cy="246.16500000000002" rx="0.9" ry="1.0" fill="#111"/>
<ellipse cx="211.0" cy="257.37" rx="1.3" ry="1.0" fill="#2a0505"/>
<ellipse cx="211.0" cy="252.87" rx="0.9" ry="1.0" fill="#111"/>
<ellipse cx="211.0" cy="264.075" rx="1.3" ry="1.0" fill="#2a0505"/>
<ellipse cx="211.0" cy="259.575" rx="0.9" ry="1.0" fill="#111"/>
<ellipse cx="211.0" cy="270.78" rx="1.3" ry="1.0" fill="#2a0505"/>
<ellipse cx="211.0" cy="266.28" rx="0.9" ry="1.0" fill="#111"/>
<ellipse cx="211.0" cy="277.485" rx="1.3" ry="1.0" fill="#2a0505"/>
<ellipse cx="211.0" cy="272.985" rx="0.9" ry="1.0" fill="#111"/>
<ellipse cx="211.0" cy="284.19" rx="1.3" ry="1.0" fill="#2a0505"/>
<ellipse cx="211.0" cy="279.69" rx="0.9" ry="1.0" fill="#111"/>
<ellipse cx="211.0" cy="290.895" rx="1.3" ry="1.0" fill="#2a0505"/>
<ellipse cx="211.0" cy="286.395" rx="0.9" ry="1.0" fill="#111"/>
<ellipse cx="211.0" cy="297.6" rx="1.3" ry="1.0" fill="#2a0505"/>
<ellipse cx="211.0" cy="293.1" rx="0.9" ry="1.0" fill="#111"/>
<ellipse cx="211.0" cy="304.305" rx="1.3" ry="1.0" fill="#2a0505"/>
<ellipse cx="211.0" cy="299.805" rx="0.9" ry="1.0" fill="#111"/>
<ellipse cx="211.0" cy="311.01" rx="1.3" ry="1.0" fill="#2a0505"/>
<ellipse cx="211.0" cy="306.51" rx="0.9" ry="1.0" fill="#111"/>
<ellipse cx="211.0" cy="317.71500000000003" rx="1.3" ry="1.0" fill="#2a0505"/>
<ellipse cx="211.0" cy="313.21500000000003" rx="0.9" ry="1.0" fill="#111"/>
<ellipse cx="211.0" cy="324.42" rx="1.3" ry="1.0" fill="#2a0505"/>
<ellipse cx="211.0" cy="319.92" rx="0.9" ry="1.0" fill="#111"/>
<ellipse cx="211.0" cy="331.125" rx="1.3" ry="1.0" fill="#2a0505"/>
<ellipse cx="211.0" cy="326.625" rx="0.9" ry="1.0" fill="#111"/>
<ellipse cx="211.0" cy="337.83000000000004" rx="1.3" ry="1.0" fill="#2a0505"/>
<ellipse cx="211.0" cy="333.33000000000004" rx="0.9" ry="1.0" fill="#111"/>
<ellipse cx="211.0" cy="344.53499999999997" rx="1.3" ry="1.0" fill="#2a0505"/>
<ellipse cx="211.0" cy="340.03499999999997" rx="0.9" ry="1.0" fill="#111"/>
<ellipse cx="211.0" cy="351.24" rx="1.3" ry="1.0" fill="#2a0505"/>
<ellipse cx="211.0" cy="346.74" rx="0.9" ry="1.0" fill="#111"/>
<line x1="211.0" y1="351.24" x2="211.0" y2="354.5" stroke="#000" stroke-width="1.4" />
<line x1="227.0" y1="158" x2="227.0" y2="351.24" stroke="#5a5a5a" stroke-width="0.7" />
<ellipse cx="227.0" cy="163.5" rx="1.3" ry="1.0" fill="#2a0505"/>
<ellipse cx="227.0" cy="159.0" rx="0.9" ry="1.0" fill="#111"/>
<ellipse cx="227.0" cy="170.205" rx="1.3" ry="1.0" fill="#2a0505"/>
<ellipse cx="227.0" cy="165.705" rx="0.9" ry="1.0" fill="#111"/>
<ellipse cx="227.0" cy="176.91" rx="1.3" ry="1.0" fill="#2a0505"/>
<ellipse cx="227.0" cy="172.41" rx="0.9" ry="1.0" fill="#111"/>
<ellipse cx="227.0" cy="183.615" rx="1.3" ry="1.0" fill="#2a0505"/>
<ellipse cx="227.0" cy="179.115" rx="0.9" ry="1.0" fill="#111"/>
<ellipse cx="227.0" cy="190.32" rx="1.3" ry="1.0" fill="#2a0505"/>
<ellipse cx="227.0" cy="185.82" rx="0.9" ry="1.0" fill="#111"/>
<ellipse cx="227.0" cy="197.025" rx="1.3" ry="1.0" fill="#2a0505"/>
<ellipse cx="227.0" cy="192.525" rx="0.9" ry="1.0" fill="#111"/>
<ellipse cx="227.0" cy="203.73000000000002" rx="1.3" ry="1.0" fill="#2a0505"/>
<ellipse cx="227.0" cy="199.23000000000002" rx="0.9" ry="1.0" fill="#111"/>
<ellipse cx="227.0" cy="210.435" rx="1.3" ry="1.0" fill="#2a0505"/>
<ellipse cx="227.0" cy="205.935" rx="0.9" ry="1.0" fill="#111"/>
<ellipse cx="227.0" cy="217.14" rx="1.3" ry="1.0" fill="#2a0505"/>
<ellipse cx="227.0" cy="212.64" rx="0.9" ry="1.0" fill="#111"/>
<ellipse cx="227.0" cy="223.845" rx="1.3" ry="1.0" fill="#2a0505"/>
<ellipse cx="227.0" cy="219.345" rx="0.9" ry="1.0" fill="#111"/>
<ellipse cx="227.0" cy="230.55" rx="1.3" ry="1.0" fill="#2a0505"/>
<ellipse cx="227.0" cy="226.05" rx="0.9" ry="1.0" fill="#111"/>
<ellipse cx="227.0" cy="237.255" rx="1.3" ry="1.0" fill="#2a0505"/>
<ellipse cx="227.0" cy="232.755" rx="0.9" ry="1.0" fill="#111"/>
<ellipse cx="227.0" cy="243.96" rx="1.3" ry="1.0" fill="#2a0505"/>
<ellipse cx="227.0" cy="239.46" rx="0.9" ry="1.0" fill="#111"/>
<ellipse cx="227.0" cy="250.66500000000002" rx="1.3" ry="1.0" fill="#2a0505"/>
<ellipse cx="227.0" cy="246.16500000000002" rx="0.9" ry="1.0" fill="#111"/>
<ellipse cx="227.0" cy="257.37" rx="1.3" ry="1.0" fill="#2a0505"/>
<ellipse cx="227.0" cy="252.87" rx="0.9" ry="1.0" fill="#111"/>
<ellipse cx="227.0" cy="264.075" rx="1.3" ry="1.0" fill="#2a0505"/>
<ellipse cx="227.0" cy="259.575" rx="0.9" ry="1.0" fill="#111"/>
<ellipse cx="227.0" cy="270.78" rx="1.3" ry="1.0" fill="#2a0505"/>
<ellipse cx="227.0" cy="266.28" rx="0.9" ry="1.0" fill="#111"/>
<ellipse cx="227.0" cy="277.485" rx="1.3" ry="1.0" fill="#2a0505"/>
<ellipse cx="227.0" cy="272.985" rx="0.9" ry="1.0" fill="#111"/>
<ellipse cx="227.0" cy="284.19" rx="1.3" ry="1.0" fill="#2a0505"/>
<ellipse cx="227.0" cy="279.69" rx="0.9" ry="1.0" fill="#111"/>
<ellipse cx="227.0" cy="290.895" rx="1.3" ry="1.0" fill="#2a0505"/>
<ellipse cx="227.0" cy="286.395" rx="0.9" ry="1.0" fill="#111"/>
<ellipse cx="227.0" cy="297.6" rx="1.3" ry="1.0" fill="#2a0505"/>
<ellipse cx="227.0" cy="293.1" rx="0.9" ry="1.0" fill="#111"/>
<ellipse cx="227.0" cy="304.305" rx="1.3" ry="1.0" fill="#2a0505"/>
<ellipse cx="227.0" cy="299.805" rx="0.9" ry="1.0" fill="#111"/>
<ellipse cx="227.0" cy="311.01" rx="1.3" ry="1.0" fill="#2a0505"/>
<ellipse cx="227.0" cy="306.51" rx="0.9" ry="1.0" fill="#111"/>
<ellipse cx="227.0" cy="317.71500000000003" rx="1.3" ry="1.0" fill="#2a0505"/>
<ellipse cx="227.0" cy="313.21500000000003" rx="0.9" ry="1.0" fill="#111"/>
<ellipse cx="227.0" cy="324.42" rx="1.3" ry="1.0" fill="#2a0505"/>
<ellipse cx="227.0" cy="319.92" rx="0.9" ry="1.0" fill="#111"/>
<ellipse cx="227.0" cy="331.125" rx="1.3" ry="1.0" fill="#2a0505"/>
<ellipse cx="227.0" cy="326.625" rx="0.9" ry="1.0" fill="#111"/>
<ellipse cx="227.0" cy="337.83000000000004" rx="1.3" ry="1.0" fill="#2a0505"/>
<ellipse cx="227.0" cy="333.33000000000004" rx="0.9" ry="1.0" fill="#111"/>
<ellipse cx="227.0" cy="344.53499999999997" rx="1.3" ry="1.0" fill="#2a0505"/>
<ellipse cx="227.0" cy="340.03499999999997" rx="0.9" ry="1.0" fill="#111"/>
<ellipse cx="227.0" cy="351.24" rx="1.3" ry="1.0" fill="#2a0505"/>
<ellipse cx="227.0" cy="346.74" rx="0.9" ry="1.0" fill="#111"/>
<line x1="227.0" y1="351.24" x2="227.0" y2="354.5" stroke="#000" stroke-width="1.4" />
<rect x="340.8" y="157.2" width="76.19999999999999" height="12.900000000000034" stroke="none" fill="#fdf6f6" stroke-width="1" />
<rect x="417" y="157.2" width="17" height="12.900000000000034" stroke="none" fill="#fafafa" stroke-width="1" />
<line x1="339.3" y1="159.60000000000002" x2="417" y2="159.60000000000002" stroke="#707070" stroke-width="1.1" />
<line x1="417" y1="159.60000000000002" x2="435" y2="159.60000000000002" stroke="#555" stroke-width="1.1" />
<line x1="340.8" y1="162.10000000000002" x2="417" y2="162.10000000000002" stroke="#f6c6c6" stroke-width="1.0" />
<line x1="417" y1="162.10000000000002" x2="434" y2="162.10000000000002" stroke="#dcf0d8" stroke-width="1.0" />
<line x1="340.8" y1="164.3" x2="417" y2="164.3" stroke="#c09090" stroke-width="0.8" />
<line x1="417" y1="164.3" x2="434" y2="164.3" stroke="#9ab09a" stroke-width="0.8" />
<line x1="340.8" y1="163.3" x2="417" y2="163.3" stroke="#5e2222" stroke-width="1.1" />
<line x1="417" y1="163.3" x2="434" y2="163.3" stroke="#2a4a2a" stroke-width="1.1" />
<rect x="340.8" y="164.20000000000002" width="93.19999999999999" height="3.1000000000000227" stroke="none" fill="#c6c6c6" stroke-width="1" />
<line x1="339.3" y1="166.40000000000003" x2="417" y2="166.40000000000003" stroke="#707070" stroke-width="1.1" />
<line x1="417" y1="166.40000000000003" x2="435" y2="166.40000000000003" stroke="#555" stroke-width="1.1" />
<line x1="340.8" y1="168.90000000000003" x2="417" y2="168.90000000000003" stroke="#f6c6c6" stroke-width="1.0" />
<line x1="417" y1="168.90000000000003" x2="434" y2="168.90000000000003" stroke="#dcf0d8" stroke-width="1.0" />
<line x1="340.8" y1="171.10000000000002" x2="417" y2="171.10000000000002" stroke="#c09090" stroke-width="0.8" />
<line x1="417" y1="171.10000000000002" x2="434" y2="171.10000000000002" stroke="#9ab09a" stroke-width="0.8" />
<line x1="340.8" y1="170.10000000000002" x2="417" y2="170.10000000000002" stroke="#5e2222" stroke-width="1.1" />
<line x1="417" y1="170.10000000000002" x2="434" y2="170.10000000000002" stroke="#2a4a2a" stroke-width="1.1" />
<line x1="340.8" y1="157.2" x2="417" y2="157.2" stroke="#f0a0a0" stroke-width="0.9" />
<line x1="417" y1="157.2" x2="434" y2="157.2" stroke="#a8dca8" stroke-width="0.9" />
<line x1="341.2" y1="157.2" x2="341.2" y2="170.10000000000002" stroke="#f0a0a0" stroke-width="0.9" />
<line x1="417" y1="157.2" x2="417" y2="170.10000000000002" stroke="#f0a0a0" stroke-width="0.9" />
<line x1="433.6" y1="157.2" x2="433.6" y2="170.10000000000002" stroke="#a8dca8" stroke-width="0.9" />
<line x1="355.3" y1="158.2" x2="355.3" y2="170.70000000000002" stroke="#4a4a4a" stroke-width="0.8" />
<ellipse cx="355.3" cy="163.3" rx="0.8" ry="1.0" fill="#111"/>
<ellipse cx="355.3" cy="170.10000000000002" rx="0.8" ry="1.0" fill="#111"/>
<line x1="371.3" y1="158.2" x2="371.3" y2="170.70000000000002" stroke="#4a4a4a" stroke-width="0.8" />
<ellipse cx="371.3" cy="163.3" rx="0.8" ry="1.0" fill="#111"/>
<ellipse cx="371.3" cy="170.10000000000002" rx="0.8" ry="1.0" fill="#111"/>
<line x1="387.3" y1="158.2" x2="387.3" y2="170.70000000000002" stroke="#4a4a4a" stroke-width="0.8" />
<ellipse cx="387.3" cy="163.3" rx="0.8" ry="1.0" fill="#111"/>
<ellipse cx="387.3" cy="170.10000000000002" rx="0.8" ry="1.0" fill="#111"/>
<line x1="403.3" y1="158.2" x2="403.3" y2="170.70000000000002" stroke="#4a4a4a" stroke-width="0.8" />
<ellipse cx="403.3" cy="163.3" rx="0.8" ry="1.0" fill="#111"/>
<ellipse cx="403.3" cy="170.10000000000002" rx="0.8" ry="1.0" fill="#111"/>
<line x1="419.3" y1="158.2" x2="419.3" y2="170.70000000000002" stroke="#4a4a4a" stroke-width="0.8" />
<ellipse cx="419.3" cy="163.3" rx="0.8" ry="1.0" fill="#111"/>
<ellipse cx="419.3" cy="170.10000000000002" rx="0.8" ry="1.0" fill="#111"/>
<line x1="347.3" y1="158.2" x2="347.3" y2="170.10000000000002" stroke="#5a5a5a" stroke-width="0.7" />
<ellipse cx="347.3" cy="163.3" rx="1.3" ry="1.0" fill="#2a0505"/>
<ellipse cx="347.3" cy="159.60000000000002" rx="0.9" ry="1.0" fill="#111"/>
<ellipse cx="347.3" cy="170.10000000000002" rx="1.3" ry="1.0" fill="#2a0505"/>
<ellipse cx="347.3" cy="166.40000000000003" rx="0.9" ry="1.0" fill="#111"/>
<line x1="347.3" y1="170.10000000000002" x2="347.3" y2="173.3" stroke="#000" stroke-width="1.4" />
<line x1="363.3" y1="158.2" x2="363.3" y2="170.10000000000002" stroke="#5a5a5a" stroke-width="0.7" />
<ellipse cx="363.3" cy="163.3" rx="1.3" ry="1.0" fill="#2a0505"/>
<ellipse cx="363.3" cy="159.60000000000002" rx="0.9" ry="1.0" fill="#111"/>
<ellipse cx="363.3" cy="170.10000000000002" rx="1.3" ry="1.0" fill="#2a0505"/>
<ellipse cx="363.3" cy="166.40000000000003" rx="0.9" ry="1.0" fill="#111"/>
<line x1="363.3" y1="170.10000000000002" x2="363.3" y2="173.3" stroke="#000" stroke-width="1.4" />
<line x1="379.3" y1="158.2" x2="379.3" y2="170.10000000000002" stroke="#5a5a5a" stroke-width="0.7" />
<ellipse cx="379.3" cy="163.3" rx="1.3" ry="1.0" fill="#2a0505"/>
<ellipse cx="379.3" cy="159.60000000000002" rx="0.9" ry="1.0" fill="#111"/>
<ellipse cx="379.3" cy="170.10000000000002" rx="1.3" ry="1.0" fill="#2a0505"/>
<ellipse cx="379.3" cy="166.40000000000003" rx="0.9" ry="1.0" fill="#111"/>
<line x1="379.3" y1="170.10000000000002" x2="379.3" y2="173.3" stroke="#000" stroke-width="1.4" />
<line x1="395.3" y1="158.2" x2="395.3" y2="170.10000000000002" stroke="#5a5a5a" stroke-width="0.7" />
<ellipse cx="395.3" cy="163.3" rx="1.3" ry="1.0" fill="#2a0505"/>
<ellipse cx="395.3" cy="159.60000000000002" rx="0.9" ry="1.0" fill="#111"/>
<ellipse cx="395.3" cy="170.10000000000002" rx="1.3" ry="1.0" fill="#2a0505"/>
<ellipse cx="395.3" cy="166.40000000000003" rx="0.9" ry="1.0" fill="#111"/>
<line x1="395.3" y1="170.10000000000002" x2="395.3" y2="173.3" stroke="#000" stroke-width="1.4" />
<line x1="411.3" y1="158.2" x2="411.3" y2="170.10000000000002" stroke="#5a5a5a" stroke-width="0.7" />
<ellipse cx="411.3" cy="163.3" rx="1.3" ry="1.0" fill="#2a0505"/>
<ellipse cx="411.3" cy="159.60000000000002" rx="0.9" ry="1.0" fill="#111"/>
<ellipse cx="411.3" cy="170.10000000000002" rx="1.3" ry="1.0" fill="#2a0505"/>
<ellipse cx="411.3" cy="166.40000000000003" rx="0.9" ry="1.0" fill="#111"/>
<line x1="411.3" y1="170.10000000000002" x2="411.3" y2="173.3" stroke="#000" stroke-width="1.4" />
<line x1="427.3" y1="158.2" x2="427.3" y2="170.10000000000002" stroke="#5a5a5a" stroke-width="0.7" />
<ellipse cx="427.3" cy="163.3" rx="1.3" ry="1.0" fill="#2a0505"/>
<ellipse cx="427.3" cy="159.60000000000002" rx="0.9" ry="1.0" fill="#111"/>
<ellipse cx="427.3" cy="170.10000000000002" rx="1.3" ry="1.0" fill="#2a0505"/>
<ellipse cx="427.3" cy="166.40000000000003" rx="0.9" ry="1.0" fill="#111"/>
<line x1="427.3" y1="170.10000000000002" x2="427.3" y2="173.3" stroke="#000" stroke-width="1.4" />
<rect x="340.8" y="237.5" width="76.19999999999999" height="25.899999999999977" stroke="none" fill="#fdf6f6" stroke-width="1" />
<rect x="417" y="237.5" width="17" height="25.899999999999977" stroke="none" fill="#fafafa" stroke-width="1" />
<line x1="339.3" y1="240.1" x2="417" y2="240.1" stroke="#707070" stroke-width="1.1" />
<line x1="417" y1="240.1" x2="435" y2="240.1" stroke="#555" stroke-width="1.1" />
<line x1="340.8" y1="242.4" x2="417" y2="242.4" stroke="#f6c6c6" stroke-width="1.0" />
<line x1="417" y1="242.4" x2="434" y2="242.4" stroke="#dcf0d8" stroke-width="1.0" />
<line x1="340.8" y1="244.6" x2="417" y2="244.6" stroke="#c09090" stroke-width="0.8" />
<line x1="417" y1="244.6" x2="434" y2="244.6" stroke="#9ab09a" stroke-width="0.8" />
<line x1="340.8" y1="243.6" x2="417" y2="243.6" stroke="#5e2222" stroke-width="1.1" />
<line x1="417" y1="243.6" x2="434" y2="243.6" stroke="#2a4a2a" stroke-width="1.1" />
<rect x="340.8" y="244.5" width="93.19999999999999" height="3.0999999999999943" stroke="none" fill="#c6c6c6" stroke-width="1" />
<line x1="339.3" y1="246.7" x2="417" y2="246.7" stroke="#707070" stroke-width="1.1" />
<line x1="417" y1="246.7" x2="435" y2="246.7" stroke="#555" stroke-width="1.1" />
<line x1="340.8" y1="249.0" x2="417" y2="249.0" stroke="#f6c6c6" stroke-width="1.0" />
<line x1="417" y1="249.0" x2="434" y2="249.0" stroke="#dcf0d8" stroke-width="1.0" />
<line x1="340.8" y1="251.2" x2="417" y2="251.2" stroke="#c09090" stroke-width="0.8" />
<line x1="417" y1="251.2" x2="434" y2="251.2" stroke="#9ab09a" stroke-width="0.8" />
<line x1="340.8" y1="250.2" x2="417" y2="250.2" stroke="#5e2222" stroke-width="1.1" />
<line x1="417" y1="250.2" x2="434" y2="250.2" stroke="#2a4a2a" stroke-width="1.1" />
<rect x="340.8" y="251.1" width="93.19999999999999" height="3.1000000000000227" stroke="none" fill="#c6c6c6" stroke-width="1" />
<line x1="339.3" y1="253.3" x2="417" y2="253.3" stroke="#707070" stroke-width="1.1" />
<line x1="417" y1="253.3" x2="435" y2="253.3" stroke="#555" stroke-width="1.1" />
<line x1="340.8" y1="255.60000000000002" x2="417" y2="255.60000000000002" stroke="#f6c6c6" stroke-width="1.0" />
<line x1="417" y1="255.60000000000002" x2="434" y2="255.60000000000002" stroke="#dcf0d8" stroke-width="1.0" />
<line x1="340.8" y1="257.8" x2="417" y2="257.8" stroke="#c09090" stroke-width="0.8" />
<line x1="417" y1="257.8" x2="434" y2="257.8" stroke="#9ab09a" stroke-width="0.8" />
<line x1="340.8" y1="256.8" x2="417" y2="256.8" stroke="#5e2222" stroke-width="1.1" />
<line x1="417" y1="256.8" x2="434" y2="256.8" stroke="#2a4a2a" stroke-width="1.1" />
<rect x="340.8" y="257.7" width="93.19999999999999" height="3.099999999999966" stroke="none" fill="#c6c6c6" stroke-width="1" />
<line x1="339.3" y1="259.9" x2="417" y2="259.9" stroke="#707070" stroke-width="1.1" />
<line x1="417" y1="259.9" x2="435" y2="259.9" stroke="#555" stroke-width="1.1" />
<line x1="340.8" y1="262.2" x2="417" y2="262.2" stroke="#f6c6c6" stroke-width="1.0" />
<line x1="417" y1="262.2" x2="434" y2="262.2" stroke="#dcf0d8" stroke-width="1.0" />
<line x1="340.8" y1="264.4" x2="417" y2="264.4" stroke="#c09090" stroke-width="0.8" />
<line x1="417" y1="264.4" x2="434" y2="264.4" stroke="#9ab09a" stroke-width="0.8" />
<line x1="340.8" y1="263.4" x2="417" y2="263.4" stroke="#5e2222" stroke-width="1.1" />
<line x1="417" y1="263.4" x2="434" y2="263.4" stroke="#2a4a2a" stroke-width="1.1" />
<line x1="340.8" y1="237.5" x2="417" y2="237.5" stroke="#f0a0a0" stroke-width="0.9" />
<line x1="417" y1="237.5" x2="434" y2="237.5" stroke="#a8dca8" stroke-width="0.9" />
<line x1="341.2" y1="237.5" x2="341.2" y2="263.4" stroke="#f0a0a0" stroke-width="0.9" />
<line x1="417" y1="237.5" x2="417" y2="263.4" stroke="#f0a0a0" stroke-width="0.9" />
<line x1="433.6" y1="237.5" x2="433.6" y2="263.4" stroke="#a8dca8" stroke-width="0.9" />
<line x1="355.3" y1="238.5" x2="355.3" y2="264.0" stroke="#4a4a4a" stroke-width="0.8" />
<ellipse cx="355.3" cy="243.6" rx="0.8" ry="1.0" fill="#111"/>
<ellipse cx="355.3" cy="250.2" rx="0.8" ry="1.0" fill="#111"/>
<ellipse cx="355.3" cy="256.8" rx="0.8" ry="1.0" fill="#111"/>
<ellipse cx="355.3" cy="263.4" rx="0.8" ry="1.0" fill="#111"/>
<line x1="371.3" y1="238.5" x2="371.3" y2="264.0" stroke="#4a4a4a" stroke-width="0.8" />
<ellipse cx="371.3" cy="243.6" rx="0.8" ry="1.0" fill="#111"/>
<ellipse cx="371.3" cy="250.2" rx="0.8" ry="1.0" fill="#111"/>
<ellipse cx="371.3" cy="256.8" rx="0.8" ry="1.0" fill="#111"/>
<ellipse cx="371.3" cy="263.4" rx="0.8" ry="1.0" fill="#111"/>
<line x1="387.3" y1="238.5" x2="387.3" y2="264.0" stroke="#4a4a4a" stroke-width="0.8" />
<ellipse cx="387.3" cy="243.6" rx="0.8" ry="1.0" fill="#111"/>
<ellipse cx="387.3" cy="250.2" rx="0.8" ry="1.0" fill="#111"/>
<ellipse cx="387.3" cy="256.8" rx="0.8" ry="1.0" fill="#111"/>
<ellipse cx="387.3" cy="263.4" rx="0.8" ry="1.0" fill="#111"/>
<line x1="403.3" y1="238.5" x2="403.3" y2="264.0" stroke="#4a4a4a" stroke-width="0.8" />
<ellipse cx="403.3" cy="243.6" rx="0.8" ry="1.0" fill="#111"/>
<ellipse cx="403.3" cy="250.2" rx="0.8" ry="1.0" fill="#111"/>
<ellipse cx="403.3" cy="256.8" rx="0.8" ry="1.0" fill="#111"/>
<ellipse cx="403.3" cy="263.4" rx="0.8" ry="1.0" fill="#111"/>
<line x1="419.3" y1="238.5" x2="419.3" y2="264.0" stroke="#4a4a4a" stroke-width="0.8" />
<ellipse cx="419.3" cy="243.6" rx="0.8" ry="1.0" fill="#111"/>
<ellipse cx="419.3" cy="250.2" rx="0.8" ry="1.0" fill="#111"/>
<ellipse cx="419.3" cy="256.8" rx="0.8" ry="1.0" fill="#111"/>
<ellipse cx="419.3" cy="263.4" rx="0.8" ry="1.0" fill="#111"/>
<line x1="347.3" y1="238.5" x2="347.3" y2="263.4" stroke="#5a5a5a" stroke-width="0.7" />
<ellipse cx="347.3" cy="243.6" rx="1.3" ry="1.0" fill="#2a0505"/>
<ellipse cx="347.3" cy="240.1" rx="0.9" ry="1.0" fill="#111"/>
<ellipse cx="347.3" cy="250.2" rx="1.3" ry="1.0" fill="#2a0505"/>
<ellipse cx="347.3" cy="246.7" rx="0.9" ry="1.0" fill="#111"/>
<ellipse cx="347.3" cy="256.8" rx="1.3" ry="1.0" fill="#2a0505"/>
<ellipse cx="347.3" cy="253.3" rx="0.9" ry="1.0" fill="#111"/>
<ellipse cx="347.3" cy="263.4" rx="1.3" ry="1.0" fill="#2a0505"/>
<ellipse cx="347.3" cy="259.9" rx="0.9" ry="1.0" fill="#111"/>
<line x1="347.3" y1="263.4" x2="347.3" y2="267.2" stroke="#000" stroke-width="1.4" />
<line x1="363.3" y1="238.5" x2="363.3" y2="263.4" stroke="#5a5a5a" stroke-width="0.7" />
<ellipse cx="363.3" cy="243.6" rx="1.3" ry="1.0" fill="#2a0505"/>
<ellipse cx="363.3" cy="240.1" rx="0.9" ry="1.0" fill="#111"/>
<ellipse cx="363.3" cy="250.2" rx="1.3" ry="1.0" fill="#2a0505"/>
<ellipse cx="363.3" cy="246.7" rx="0.9" ry="1.0" fill="#111"/>
<ellipse cx="363.3" cy="256.8" rx="1.3" ry="1.0" fill="#2a0505"/>
<ellipse cx="363.3" cy="253.3" rx="0.9" ry="1.0" fill="#111"/>
<ellipse cx="363.3" cy="263.4" rx="1.3" ry="1.0" fill="#2a0505"/>
<ellipse cx="363.3" cy="259.9" rx="0.9" ry="1.0" fill="#111"/>
<line x1="363.3" y1="263.4" x2="363.3" y2="267.2" stroke="#000" stroke-width="1.4" />
<line x1="379.3" y1="238.5" x2="379.3" y2="263.4" stroke="#5a5a5a" stroke-width="0.7" />
<ellipse cx="379.3" cy="243.6" rx="1.3" ry="1.0" fill="#2a0505"/>
<ellipse cx="379.3" cy="240.1" rx="0.9" ry="1.0" fill="#111"/>
<ellipse cx="379.3" cy="250.2" rx="1.3" ry="1.0" fill="#2a0505"/>
<ellipse cx="379.3" cy="246.7" rx="0.9" ry="1.0" fill="#111"/>
<ellipse cx="379.3" cy="256.8" rx="1.3" ry="1.0" fill="#2a0505"/>
<ellipse cx="379.3" cy="253.3" rx="0.9" ry="1.0" fill="#111"/>
<ellipse cx="379.3" cy="263.4" rx="1.3" ry="1.0" fill="#2a0505"/>
<ellipse cx="379.3" cy="259.9" rx="0.9" ry="1.0" fill="#111"/>
<line x1="379.3" y1="263.4" x2="379.3" y2="267.2" stroke="#000" stroke-width="1.4" />
<line x1="395.3" y1="238.5" x2="395.3" y2="263.4" stroke="#5a5a5a" stroke-width="0.7" />
<ellipse cx="395.3" cy="243.6" rx="1.3" ry="1.0" fill="#2a0505"/>
<ellipse cx="395.3" cy="240.1" rx="0.9" ry="1.0" fill="#111"/>
<ellipse cx="395.3" cy="250.2" rx="1.3" ry="1.0" fill="#2a0505"/>
<ellipse cx="395.3" cy="246.7" rx="0.9" ry="1.0" fill="#111"/>
<ellipse cx="395.3" cy="256.8" rx="1.3" ry="1.0" fill="#2a0505"/>
<ellipse cx="395.3" cy="253.3" rx="0.9" ry="1.0" fill="#111"/>
<ellipse cx="395.3" cy="263.4" rx="1.3" ry="1.0" fill="#2a0505"/>
<ellipse cx="395.3" cy="259.9" rx="0.9" ry="1.0" fill="#111"/>
<line x1="395.3" y1="263.4" x2="395.3" y2="267.2" stroke="#000" stroke-width="1.4" />
<line x1="411.3" y1="238.5" x2="411.3" y2="263.4" stroke="#5a5a5a" stroke-width="0.7" />
<ellipse cx="411.3" cy="243.6" rx="1.3" ry="1.0" fill="#2a0505"/>
<ellipse cx="411.3" cy="240.1" rx="0.9" ry="1.0" fill="#111"/>
<ellipse cx="411.3" cy="250.2" rx="1.3" ry="1.0" fill="#2a0505"/>
<ellipse cx="411.3" cy="246.7" rx="0.9" ry="1.0" fill="#111"/>
<ellipse cx="411.3" cy="256.8" rx="1.3" ry="1.0" fill="#2a0505"/>
<ellipse cx="411.3" cy="253.3" rx="0.9" ry="1.0" fill="#111"/>
<ellipse cx="411.3" cy="263.4" rx="1.3" ry="1.0" fill="#2a0505"/>
<ellipse cx="411.3" cy="259.9" rx="0.9" ry="1.0" fill="#111"/>
<line x1="411.3" y1="263.4" x2="411.3" y2="267.2" stroke="#000" stroke-width="1.4" />
<line x1="427.3" y1="238.5" x2="427.3" y2="263.4" stroke="#5a5a5a" stroke-width="0.7" />
<ellipse cx="427.3" cy="243.6" rx="1.3" ry="1.0" fill="#2a0505"/>
<ellipse cx="427.3" cy="240.1" rx="0.9" ry="1.0" fill="#111"/>
<ellipse cx="427.3" cy="250.2" rx="1.3" ry="1.0" fill="#2a0505"/>
<ellipse cx="427.3" cy="246.7" rx="0.9" ry="1.0" fill="#111"/>
<ellipse cx="427.3" cy="256.8" rx="1.3" ry="1.0" fill="#2a0505"/>
<ellipse cx="427.3" cy="253.3" rx="0.9" ry="1.0" fill="#111"/>
<ellipse cx="427.3" cy="263.4" rx="1.3" ry="1.0" fill="#2a0505"/>
<ellipse cx="427.3" cy="259.9" rx="0.9" ry="1.0" fill="#111"/>
<line x1="427.3" y1="263.4" x2="427.3" y2="267.2" stroke="#000" stroke-width="1.4" />
<rect x="340.8" y="331.5" width="76.19999999999999" height="45.47999999999996" stroke="none" fill="#fdf6f6" stroke-width="1" />
<rect x="417" y="331.5" width="17" height="45.47999999999996" stroke="none" fill="#fafafa" stroke-width="1" />
<line x1="339.3" y1="333.09999999999997" x2="417" y2="333.09999999999997" stroke="#707070" stroke-width="1.1" />
<line x1="417" y1="333.09999999999997" x2="435" y2="333.09999999999997" stroke="#555" stroke-width="1.1" />
<line x1="340.8" y1="335.7" x2="417" y2="335.7" stroke="#f6c6c6" stroke-width="1.0" />
<line x1="417" y1="335.7" x2="434" y2="335.7" stroke="#dcf0d8" stroke-width="1.0" />
<line x1="340.8" y1="337.9" x2="417" y2="337.9" stroke="#c09090" stroke-width="0.8" />
<line x1="417" y1="337.9" x2="434" y2="337.9" stroke="#9ab09a" stroke-width="0.8" />
<line x1="340.8" y1="336.9" x2="417" y2="336.9" stroke="#5e2222" stroke-width="1.1" />
<line x1="417" y1="336.9" x2="434" y2="336.9" stroke="#2a4a2a" stroke-width="1.1" />
<rect x="340.8" y="337.79999999999995" width="93.19999999999999" height="2.8799999999999955" stroke="none" fill="#c6c6c6" stroke-width="1" />
<line x1="339.3" y1="339.78" x2="417" y2="339.78" stroke="#707070" stroke-width="1.1" />
<line x1="417" y1="339.78" x2="435" y2="339.78" stroke="#555" stroke-width="1.1" />
<line x1="340.8" y1="342.38" x2="417" y2="342.38" stroke="#f6c6c6" stroke-width="1.0" />
<line x1="417" y1="342.38" x2="434" y2="342.38" stroke="#dcf0d8" stroke-width="1.0" />
<line x1="340.8" y1="344.58" x2="417" y2="344.58" stroke="#c09090" stroke-width="0.8" />
<line x1="417" y1="344.58" x2="434" y2="344.58" stroke="#9ab09a" stroke-width="0.8" />
<line x1="340.8" y1="343.58" x2="417" y2="343.58" stroke="#5e2222" stroke-width="1.1" />
<line x1="417" y1="343.58" x2="434" y2="343.58" stroke="#2a4a2a" stroke-width="1.1" />
<rect x="340.8" y="344.47999999999996" width="93.19999999999999" height="2.8799999999999955" stroke="none" fill="#c6c6c6" stroke-width="1" />
<line x1="339.3" y1="346.46" x2="417" y2="346.46" stroke="#707070" stroke-width="1.1" />
<line x1="417" y1="346.46" x2="435" y2="346.46" stroke="#555" stroke-width="1.1" />
<line x1="340.8" y1="349.06" x2="417" y2="349.06" stroke="#f6c6c6" stroke-width="1.0" />
<line x1="417" y1="349.06" x2="434" y2="349.06" stroke="#dcf0d8" stroke-width="1.0" />
<line x1="340.8" y1="351.26" x2="417" y2="351.26" stroke="#c09090" stroke-width="0.8" />
<line x1="417" y1="351.26" x2="434" y2="351.26" stroke="#9ab09a" stroke-width="0.8" />
<line x1="340.8" y1="350.26" x2="417" y2="350.26" stroke="#5e2222" stroke-width="1.1" />
<line x1="417" y1="350.26" x2="434" y2="350.26" stroke="#2a4a2a" stroke-width="1.1" />
<rect x="340.8" y="351.15999999999997" width="93.19999999999999" height="2.8799999999999955" stroke="none" fill="#c6c6c6" stroke-width="1" />
<line x1="339.3" y1="353.14" x2="417" y2="353.14" stroke="#707070" stroke-width="1.1" />
<line x1="417" y1="353.14" x2="435" y2="353.14" stroke="#555" stroke-width="1.1" />
<line x1="340.8" y1="355.74" x2="417" y2="355.74" stroke="#f6c6c6" stroke-width="1.0" />
<line x1="417" y1="355.74" x2="434" y2="355.74" stroke="#dcf0d8" stroke-width="1.0" />
<line x1="340.8" y1="357.94" x2="417" y2="357.94" stroke="#c09090" stroke-width="0.8" />
<line x1="417" y1="357.94" x2="434" y2="357.94" stroke="#9ab09a" stroke-width="0.8" />
<line x1="340.8" y1="356.94" x2="417" y2="356.94" stroke="#5e2222" stroke-width="1.1" />
<line x1="417" y1="356.94" x2="434" y2="356.94" stroke="#2a4a2a" stroke-width="1.1" />
<rect x="340.8" y="357.84" width="93.19999999999999" height="2.8799999999999955" stroke="none" fill="#c6c6c6" stroke-width="1" />
<line x1="339.3" y1="359.82" x2="417" y2="359.82" stroke="#707070" stroke-width="1.1" />
<line x1="417" y1="359.82" x2="435" y2="359.82" stroke="#555" stroke-width="1.1" />
<line x1="340.8" y1="362.42" x2="417" y2="362.42" stroke="#f6c6c6" stroke-width="1.0" />
<line x1="417" y1="362.42" x2="434" y2="362.42" stroke="#dcf0d8" stroke-width="1.0" />
<line x1="340.8" y1="364.62" x2="417" y2="364.62" stroke="#c09090" stroke-width="0.8" />
<line x1="417" y1="364.62" x2="434" y2="364.62" stroke="#9ab09a" stroke-width="0.8" />
<line x1="340.8" y1="363.62" x2="417" y2="363.62" stroke="#5e2222" stroke-width="1.1" />
<line x1="417" y1="363.62" x2="434" y2="363.62" stroke="#2a4a2a" stroke-width="1.1" />
<rect x="340.8" y="364.52" width="93.19999999999999" height="2.8799999999999386" stroke="none" fill="#c6c6c6" stroke-width="1" />
<line x1="339.3" y1="366.49999999999994" x2="417" y2="366.49999999999994" stroke="#707070" stroke-width="1.1" />
<line x1="417" y1="366.49999999999994" x2="435" y2="366.49999999999994" stroke="#555" stroke-width="1.1" />
<line x1="340.8" y1="369.09999999999997" x2="417" y2="369.09999999999997" stroke="#f6c6c6" stroke-width="1.0" />
<line x1="417" y1="369.09999999999997" x2="434" y2="369.09999999999997" stroke="#dcf0d8" stroke-width="1.0" />
<line x1="340.8" y1="371.29999999999995" x2="417" y2="371.29999999999995" stroke="#c09090" stroke-width="0.8" />
<line x1="417" y1="371.29999999999995" x2="434" y2="371.29999999999995" stroke="#9ab09a" stroke-width="0.8" />
<line x1="340.8" y1="370.29999999999995" x2="417" y2="370.29999999999995" stroke="#5e2222" stroke-width="1.1" />
<line x1="417" y1="370.29999999999995" x2="434" y2="370.29999999999995" stroke="#2a4a2a" stroke-width="1.1" />
<rect x="340.8" y="371.19999999999993" width="93.19999999999999" height="2.8799999999999955" stroke="none" fill="#c6c6c6" stroke-width="1" />
<line x1="339.3" y1="373.17999999999995" x2="417" y2="373.17999999999995" stroke="#707070" stroke-width="1.1" />
<line x1="417" y1="373.17999999999995" x2="435" y2="373.17999999999995" stroke="#555" stroke-width="1.1" />
<line x1="340.8" y1="375.78" x2="417" y2="375.78" stroke="#f6c6c6" stroke-width="1.0" />
<line x1="417" y1="375.78" x2="434" y2="375.78" stroke="#dcf0d8" stroke-width="1.0" />
<line x1="340.8" y1="377.97999999999996" x2="417" y2="377.97999999999996" stroke="#c09090" stroke-width="0.8" />
<line x1="417" y1="377.97999999999996" x2="434" y2="377.97999999999996" stroke="#9ab09a" stroke-width="0.8" />
<line x1="340.8" y1="376.97999999999996" x2="417" y2="376.97999999999996" stroke="#5e2222" stroke-width="1.1" />
<line x1="417" y1="376.97999999999996" x2="434" y2="376.97999999999996" stroke="#2a4a2a" stroke-width="1.1" />
<line x1="340.8" y1="331.5" x2="417" y2="331.5" stroke="#f0a0a0" stroke-width="0.9" />
<line x1="417" y1="331.5" x2="434" y2="331.5" stroke="#a8dca8" stroke-width="0.9" />
<line x1="341.2" y1="331.5" x2="341.2" y2="376.97999999999996" stroke="#f0a0a0" stroke-width="0.9" />
<line x1="417" y1="331.5" x2="417" y2="376.97999999999996" stroke="#f0a0a0" stroke-width="0.9" />
<line x1="433.6" y1="331.5" x2="433.6" y2="376.97999999999996" stroke="#a8dca8" stroke-width="0.9" />
<line x1="355.3" y1="332.5" x2="355.3" y2="377.58" stroke="#4a4a4a" stroke-width="0.8" />
<ellipse cx="355.3" cy="336.9" rx="0.8" ry="1.0" fill="#111"/>
<ellipse cx="355.3" cy="343.58" rx="0.8" ry="1.0" fill="#111"/>
<ellipse cx="355.3" cy="350.26" rx="0.8" ry="1.0" fill="#111"/>
<ellipse cx="355.3" cy="356.94" rx="0.8" ry="1.0" fill="#111"/>
<ellipse cx="355.3" cy="363.62" rx="0.8" ry="1.0" fill="#111"/>
<ellipse cx="355.3" cy="370.29999999999995" rx="0.8" ry="1.0" fill="#111"/>
<ellipse cx="355.3" cy="376.97999999999996" rx="0.8" ry="1.0" fill="#111"/>
<line x1="371.3" y1="332.5" x2="371.3" y2="377.58" stroke="#4a4a4a" stroke-width="0.8" />
<ellipse cx="371.3" cy="336.9" rx="0.8" ry="1.0" fill="#111"/>
<ellipse cx="371.3" cy="343.58" rx="0.8" ry="1.0" fill="#111"/>
<ellipse cx="371.3" cy="350.26" rx="0.8" ry="1.0" fill="#111"/>
<ellipse cx="371.3" cy="356.94" rx="0.8" ry="1.0" fill="#111"/>
<ellipse cx="371.3" cy="363.62" rx="0.8" ry="1.0" fill="#111"/>
<ellipse cx="371.3" cy="370.29999999999995" rx="0.8" ry="1.0" fill="#111"/>
<ellipse cx="371.3" cy="376.97999999999996" rx="0.8" ry="1.0" fill="#111"/>
<line x1="387.3" y1="332.5" x2="387.3" y2="377.58" stroke="#4a4a4a" stroke-width="0.8" />
<ellipse cx="387.3" cy="336.9" rx="0.8" ry="1.0" fill="#111"/>
<ellipse cx="387.3" cy="343.58" rx="0.8" ry="1.0" fill="#111"/>
<ellipse cx="387.3" cy="350.26" rx="0.8" ry="1.0" fill="#111"/>
<ellipse cx="387.3" cy="356.94" rx="0.8" ry="1.0" fill="#111"/>
<ellipse cx="387.3" cy="363.62" rx="0.8" ry="1.0" fill="#111"/>
<ellipse cx="387.3" cy="370.29999999999995" rx="0.8" ry="1.0" fill="#111"/>
<ellipse cx="387.3" cy="376.97999999999996" rx="0.8" ry="1.0" fill="#111"/>
<line x1="403.3" y1="332.5" x2="403.3" y2="377.58" stroke="#4a4a4a" stroke-width="0.8" />
<ellipse cx="403.3" cy="336.9" rx="0.8" ry="1.0" fill="#111"/>
<ellipse cx="403.3" cy="343.58" rx="0.8" ry="1.0" fill="#111"/>
<ellipse cx="403.3" cy="350.26" rx="0.8" ry="1.0" fill="#111"/>
<ellipse cx="403.3" cy="356.94" rx="0.8" ry="1.0" fill="#111"/>
<ellipse cx="403.3" cy="363.62" rx="0.8" ry="1.0" fill="#111"/>
<ellipse cx="403.3" cy="370.29999999999995" rx="0.8" ry="1.0" fill="#111"/>
<ellipse cx="403.3" cy="376.97999999999996" rx="0.8" ry="1.0" fill="#111"/>
<line x1="419.3" y1="332.5" x2="419.3" y2="377.58" stroke="#4a4a4a" stroke-width="0.8" />
<ellipse cx="419.3" cy="336.9" rx="0.8" ry="1.0" fill="#111"/>
<ellipse cx="419.3" cy="343.58" rx="0.8" ry="1.0" fill="#111"/>
<ellipse cx="419.3" cy="350.26" rx="0.8" ry="1.0" fill="#111"/>
<ellipse cx="419.3" cy="356.94" rx="0.8" ry="1.0" fill="#111"/>
<ellipse cx="419.3" cy="363.62" rx="0.8" ry="1.0" fill="#111"/>
<ellipse cx="419.3" cy="370.29999999999995" rx="0.8" ry="1.0" fill="#111"/>
<ellipse cx="419.3" cy="376.97999999999996" rx="0.8" ry="1.0" fill="#111"/>
<line x1="347.3" y1="332.5" x2="347.3" y2="376.97999999999996" stroke="#5a5a5a" stroke-width="0.7" />
<ellipse cx="347.3" cy="336.9" rx="1.3" ry="1.0" fill="#2a0505"/>
<ellipse cx="347.3" cy="333.09999999999997" rx="0.9" ry="1.0" fill="#111"/>
<ellipse cx="347.3" cy="343.58" rx="1.3" ry="1.0" fill="#2a0505"/>
<ellipse cx="347.3" cy="339.78" rx="0.9" ry="1.0" fill="#111"/>
<ellipse cx="347.3" cy="350.26" rx="1.3" ry="1.0" fill="#2a0505"/>
<ellipse cx="347.3" cy="346.46" rx="0.9" ry="1.0" fill="#111"/>
<ellipse cx="347.3" cy="356.94" rx="1.3" ry="1.0" fill="#2a0505"/>
<ellipse cx="347.3" cy="353.14" rx="0.9" ry="1.0" fill="#111"/>
<ellipse cx="347.3" cy="363.62" rx="1.3" ry="1.0" fill="#2a0505"/>
<ellipse cx="347.3" cy="359.82" rx="0.9" ry="1.0" fill="#111"/>
<ellipse cx="347.3" cy="370.29999999999995" rx="1.3" ry="1.0" fill="#2a0505"/>
<ellipse cx="347.3" cy="366.49999999999994" rx="0.9" ry="1.0" fill="#111"/>
<ellipse cx="347.3" cy="376.97999999999996" rx="1.3" ry="1.0" fill="#2a0505"/>
<ellipse cx="347.3" cy="373.17999999999995" rx="0.9" ry="1.0" fill="#111"/>
<line x1="347.3" y1="376.97999999999996" x2="347.3" y2="380.8" stroke="#000" stroke-width="1.4" />
<line x1="363.3" y1="332.5" x2="363.3" y2="376.97999999999996" stroke="#5a5a5a" stroke-width="0.7" />
<ellipse cx="363.3" cy="336.9" rx="1.3" ry="1.0" fill="#2a0505"/>
<ellipse cx="363.3" cy="333.09999999999997" rx="0.9" ry="1.0" fill="#111"/>
<ellipse cx="363.3" cy="343.58" rx="1.3" ry="1.0" fill="#2a0505"/>
<ellipse cx="363.3" cy="339.78" rx="0.9" ry="1.0" fill="#111"/>
<ellipse cx="363.3" cy="350.26" rx="1.3" ry="1.0" fill="#2a0505"/>
<ellipse cx="363.3" cy="346.46" rx="0.9" ry="1.0" fill="#111"/>
<ellipse cx="363.3" cy="356.94" rx="1.3" ry="1.0" fill="#2a0505"/>
<ellipse cx="363.3" cy="353.14" rx="0.9" ry="1.0" fill="#111"/>
<ellipse cx="363.3" cy="363.62" rx="1.3" ry="1.0" fill="#2a0505"/>
<ellipse cx="363.3" cy="359.82" rx="0.9" ry="1.0" fill="#111"/>
<ellipse cx="363.3" cy="370.29999999999995" rx="1.3" ry="1.0" fill="#2a0505"/>
<ellipse cx="363.3" cy="366.49999999999994" rx="0.9" ry="1.0" fill="#111"/>
<ellipse cx="363.3" cy="376.97999999999996" rx="1.3" ry="1.0" fill="#2a0505"/>
<ellipse cx="363.3" cy="373.17999999999995" rx="0.9" ry="1.0" fill="#111"/>
<line x1="363.3" y1="376.97999999999996" x2="363.3" y2="380.8" stroke="#000" stroke-width="1.4" />
<line x1="379.3" y1="332.5" x2="379.3" y2="376.97999999999996" stroke="#5a5a5a" stroke-width="0.7" />
<ellipse cx="379.3" cy="336.9" rx="1.3" ry="1.0" fill="#2a0505"/>
<ellipse cx="379.3" cy="333.09999999999997" rx="0.9" ry="1.0" fill="#111"/>
<ellipse cx="379.3" cy="343.58" rx="1.3" ry="1.0" fill="#2a0505"/>
<ellipse cx="379.3" cy="339.78" rx="0.9" ry="1.0" fill="#111"/>
<ellipse cx="379.3" cy="350.26" rx="1.3" ry="1.0" fill="#2a0505"/>
<ellipse cx="379.3" cy="346.46" rx="0.9" ry="1.0" fill="#111"/>
<ellipse cx="379.3" cy="356.94" rx="1.3" ry="1.0" fill="#2a0505"/>
<ellipse cx="379.3" cy="353.14" rx="0.9" ry="1.0" fill="#111"/>
<ellipse cx="379.3" cy="363.62" rx="1.3" ry="1.0" fill="#2a0505"/>
<ellipse cx="379.3" cy="359.82" rx="0.9" ry="1.0" fill="#111"/>
<ellipse cx="379.3" cy="370.29999999999995" rx="1.3" ry="1.0" fill="#2a0505"/>
<ellipse cx="379.3" cy="366.49999999999994" rx="0.9" ry="1.0" fill="#111"/>
<ellipse cx="379.3" cy="376.97999999999996" rx="1.3" ry="1.0" fill="#2a0505"/>
<ellipse cx="379.3" cy="373.17999999999995" rx="0.9" ry="1.0" fill="#111"/>
<line x1="379.3" y1="376.97999999999996" x2="379.3" y2="380.8" stroke="#000" stroke-width="1.4" />
<line x1="395.3" y1="332.5" x2="395.3" y2="376.97999999999996" stroke="#5a5a5a" stroke-width="0.7" />
<ellipse cx="395.3" cy="336.9" rx="1.3" ry="1.0" fill="#2a0505"/>
<ellipse cx="395.3" cy="333.09999999999997" rx="0.9" ry="1.0" fill="#111"/>
<ellipse cx="395.3" cy="343.58" rx="1.3" ry="1.0" fill="#2a0505"/>
<ellipse cx="395.3" cy="339.78" rx="0.9" ry="1.0" fill="#111"/>
<ellipse cx="395.3" cy="350.26" rx="1.3" ry="1.0" fill="#2a0505"/>
<ellipse cx="395.3" cy="346.46" rx="0.9" ry="1.0" fill="#111"/>
<ellipse cx="395.3" cy="356.94" rx="1.3" ry="1.0" fill="#2a0505"/>
<ellipse cx="395.3" cy="353.14" rx="0.9" ry="1.0" fill="#111"/>
<ellipse cx="395.3" cy="363.62" rx="1.3" ry="1.0" fill="#2a0505"/>
<ellipse cx="395.3" cy="359.82" rx="0.9" ry="1.0" fill="#111"/>
<ellipse cx="395.3" cy="370.29999999999995" rx="1.3" ry="1.0" fill="#2a0505"/>
<ellipse cx="395.3" cy="366.49999999999994" rx="0.9" ry="1.0" fill="#111"/>
<ellipse cx="395.3" cy="376.97999999999996" rx="1.3" ry="1.0" fill="#2a0505"/>
<ellipse cx="395.3" cy="373.17999999999995" rx="0.9" ry="1.0" fill="#111"/>
<line x1="395.3" y1="376.97999999999996" x2="395.3" y2="380.8" stroke="#000" stroke-width="1.4" />
<line x1="411.3" y1="332.5" x2="411.3" y2="376.97999999999996" stroke="#5a5a5a" stroke-width="0.7" />
<ellipse cx="411.3" cy="336.9" rx="1.3" ry="1.0" fill="#2a0505"/>
<ellipse cx="411.3" cy="333.09999999999997" rx="0.9" ry="1.0" fill="#111"/>
<ellipse cx="411.3" cy="343.58" rx="1.3" ry="1.0" fill="#2a0505"/>
<ellipse cx="411.3" cy="339.78" rx="0.9" ry="1.0" fill="#111"/>
<ellipse cx="411.3" cy="350.26" rx="1.3" ry="1.0" fill="#2a0505"/>
<ellipse cx="411.3" cy="346.46" rx="0.9" ry="1.0" fill="#111"/>
<ellipse cx="411.3" cy="356.94" rx="1.3" ry="1.0" fill="#2a0505"/>
<ellipse cx="411.3" cy="353.14" rx="0.9" ry="1.0" fill="#111"/>
<ellipse cx="411.3" cy="363.62" rx="1.3" ry="1.0" fill="#2a0505"/>
<ellipse cx="411.3" cy="359.82" rx="0.9" ry="1.0" fill="#111"/>
<ellipse cx="411.3" cy="370.29999999999995" rx="1.3" ry="1.0" fill="#2a0505"/>
<ellipse cx="411.3" cy="366.49999999999994" rx="0.9" ry="1.0" fill="#111"/>
<ellipse cx="411.3" cy="376.97999999999996" rx="1.3" ry="1.0" fill="#2a0505"/>
<ellipse cx="411.3" cy="373.17999999999995" rx="0.9" ry="1.0" fill="#111"/>
<line x1="411.3" y1="376.97999999999996" x2="411.3" y2="380.8" stroke="#000" stroke-width="1.4" />
<line x1="427.3" y1="332.5" x2="427.3" y2="376.97999999999996" stroke="#5a5a5a" stroke-width="0.7" />
<ellipse cx="427.3" cy="336.9" rx="1.3" ry="1.0" fill="#2a0505"/>
<ellipse cx="427.3" cy="333.09999999999997" rx="0.9" ry="1.0" fill="#111"/>
<ellipse cx="427.3" cy="343.58" rx="1.3" ry="1.0" fill="#2a0505"/>
<ellipse cx="427.3" cy="339.78" rx="0.9" ry="1.0" fill="#111"/>
<ellipse cx="427.3" cy="350.26" rx="1.3" ry="1.0" fill="#2a0505"/>
<ellipse cx="427.3" cy="346.46" rx="0.9" ry="1.0" fill="#111"/>
<ellipse cx="427.3" cy="356.94" rx="1.3" ry="1.0" fill="#2a0505"/>
<ellipse cx="427.3" cy="353.14" rx="0.9" ry="1.0" fill="#111"/>
<ellipse cx="427.3" cy="363.62" rx="1.3" ry="1.0" fill="#2a0505"/>
<ellipse cx="427.3" cy="359.82" rx="0.9" ry="1.0" fill="#111"/>
<ellipse cx="427.3" cy="370.29999999999995" rx="1.3" ry="1.0" fill="#2a0505"/>
<ellipse cx="427.3" cy="366.49999999999994" rx="0.9" ry="1.0" fill="#111"/>
<ellipse cx="427.3" cy="376.97999999999996" rx="1.3" ry="1.0" fill="#2a0505"/>
<ellipse cx="427.3" cy="373.17999999999995" rx="0.9" ry="1.0" fill="#111"/>
<line x1="427.3" y1="376.97999999999996" x2="427.3" y2="380.8" stroke="#000" stroke-width="1.4" />
<rect x="340.8" y="225.7" width="93.19999999999999" height="11.5" stroke="none" fill="#fffbf7" stroke-width="1" />
<line x1="340.8" y1="225.7" x2="434" y2="225.7" stroke="#f9c596" stroke-width="1.0" />
<line x1="341.3" y1="225.7" x2="341.3" y2="237.2" stroke="#f9c596" stroke-width="1.0" />
<line x1="433.5" y1="225.7" x2="433.5" y2="237.2" stroke="#f9c596" stroke-width="1.0" />
<line x1="340.8" y1="237.2" x2="434" y2="237.2" stroke="#f08a30" stroke-width="1.3" />
<line x1="347.3" y1="227.7" x2="347.3" y2="236.7" stroke="#f28a2a" stroke-width="1.0" />
<ellipse cx="347.3" cy="230.2" rx="0.9" ry="0.8" fill="#ee7a12"/>
<ellipse cx="347.3" cy="233.2" rx="0.9" ry="0.8" fill="#ee7a12"/>
<line x1="346.0" y1="227.89999999999998" x2="348.6" y2="227.89999999999998" stroke="#f07f18" stroke-width="1.1" />
<line x1="355.25" y1="227.7" x2="355.25" y2="236.7" stroke="#f28a2a" stroke-width="1.0" />
<ellipse cx="355.25" cy="230.2" rx="0.9" ry="0.8" fill="#ee7a12"/>
<ellipse cx="355.25" cy="233.2" rx="0.9" ry="0.8" fill="#ee7a12"/>
<line x1="363.2" y1="227.7" x2="363.2" y2="236.7" stroke="#f28a2a" stroke-width="1.0" />
<ellipse cx="363.2" cy="230.2" rx="0.9" ry="0.8" fill="#ee7a12"/>
<ellipse cx="363.2" cy="233.2" rx="0.9" ry="0.8" fill="#ee7a12"/>
<line x1="361.9" y1="227.89999999999998" x2="364.5" y2="227.89999999999998" stroke="#f07f18" stroke-width="1.1" />
<line x1="371.15000000000003" y1="227.7" x2="371.15000000000003" y2="236.7" stroke="#f28a2a" stroke-width="1.0" />
<ellipse cx="371.15000000000003" cy="230.2" rx="0.9" ry="0.8" fill="#ee7a12"/>
<ellipse cx="371.15000000000003" cy="233.2" rx="0.9" ry="0.8" fill="#ee7a12"/>
<line x1="379.1" y1="227.7" x2="379.1" y2="236.7" stroke="#f28a2a" stroke-width="1.0" />
<ellipse cx="379.1" cy="230.2" rx="0.9" ry="0.8" fill="#ee7a12"/>
<ellipse cx="379.1" cy="233.2" rx="0.9" ry="0.8" fill="#ee7a12"/>
<line x1="377.8" y1="227.89999999999998" x2="380.40000000000003" y2="227.89999999999998" stroke="#f07f18" stroke-width="1.1" />
<line x1="387.05" y1="227.7" x2="387.05" y2="236.7" stroke="#f28a2a" stroke-width="1.0" />
<ellipse cx="387.05" cy="230.2" rx="0.9" ry="0.8" fill="#ee7a12"/>
<ellipse cx="387.05" cy="233.2" rx="0.9" ry="0.8" fill="#ee7a12"/>
<line x1="395.0" y1="227.7" x2="395.0" y2="236.7" stroke="#f28a2a" stroke-width="1.0" />
<ellipse cx="395.0" cy="230.2" rx="0.9" ry="0.8" fill="#ee7a12"/>
<ellipse cx="395.0" cy="233.2" rx="0.9" ry="0.8" fill="#ee7a12"/>
<line x1="393.7" y1="227.89999999999998" x2="396.3" y2="227.89999999999998" stroke="#f07f18" stroke-width="1.1" />
<line x1="402.95" y1="227.7" x2="402.95" y2="236.7" stroke="#f28a2a" stroke-width="1.0" />
<ellipse cx="402.95" cy="230.2" rx="0.9" ry="0.8" fill="#ee7a12"/>
<ellipse cx="402.95" cy="233.2" rx="0.9" ry="0.8" fill="#ee7a12"/>
<line x1="410.90000000000003" y1="227.7" x2="410.90000000000003" y2="236.7" stroke="#f28a2a" stroke-width="1.0" />
<ellipse cx="410.90000000000003" cy="230.2" rx="0.9" ry="0.8" fill="#ee7a12"/>
<ellipse cx="410.90000000000003" cy="233.2" rx="0.9" ry="0.8" fill="#ee7a12"/>
<line x1="409.6" y1="227.89999999999998" x2="412.20000000000005" y2="227.89999999999998" stroke="#f07f18" stroke-width="1.1" />
<line x1="418.85" y1="227.7" x2="418.85" y2="236.7" stroke="#f28a2a" stroke-width="1.0" />
<ellipse cx="418.85" cy="230.2" rx="0.9" ry="0.8" fill="#ee7a12"/>
<ellipse cx="418.85" cy="233.2" rx="0.9" ry="0.8" fill="#ee7a12"/>
<line x1="426.8" y1="227.7" x2="426.8" y2="236.7" stroke="#f28a2a" stroke-width="1.0" />
<ellipse cx="426.8" cy="230.2" rx="0.9" ry="0.8" fill="#ee7a12"/>
<ellipse cx="426.8" cy="233.2" rx="0.9" ry="0.8" fill="#ee7a12"/>
<line x1="425.5" y1="227.89999999999998" x2="428.1" y2="227.89999999999998" stroke="#f07f18" stroke-width="1.1" />
<rect x="340.8" y="319" width="93.19999999999999" height="12.5" stroke="none" fill="#fffbf7" stroke-width="1" />
<line x1="340.8" y1="319" x2="434" y2="319" stroke="#f9c596" stroke-width="1.0" />
<line x1="341.3" y1="319" x2="341.3" y2="331.5" stroke="#f9c596" stroke-width="1.0" />
<line x1="433.5" y1="319" x2="433.5" y2="331.5" stroke="#f9c596" stroke-width="1.0" />
<line x1="340.8" y1="331.5" x2="434" y2="331.5" stroke="#f08a30" stroke-width="1.3" />
<line x1="347.3" y1="321" x2="347.3" y2="331.0" stroke="#f28a2a" stroke-width="1.0" />
<ellipse cx="347.3" cy="323.5" rx="0.9" ry="0.8" fill="#ee7a12"/>
<ellipse cx="347.3" cy="326.5" rx="0.9" ry="0.8" fill="#ee7a12"/>
<line x1="346.0" y1="321.2" x2="348.6" y2="321.2" stroke="#f07f18" stroke-width="1.1" />
<line x1="355.25" y1="321" x2="355.25" y2="331.0" stroke="#f28a2a" stroke-width="1.0" />
<ellipse cx="355.25" cy="323.5" rx="0.9" ry="0.8" fill="#ee7a12"/>
<ellipse cx="355.25" cy="326.5" rx="0.9" ry="0.8" fill="#ee7a12"/>
<line x1="363.2" y1="321" x2="363.2" y2="331.0" stroke="#f28a2a" stroke-width="1.0" />
<ellipse cx="363.2" cy="323.5" rx="0.9" ry="0.8" fill="#ee7a12"/>
<ellipse cx="363.2" cy="326.5" rx="0.9" ry="0.8" fill="#ee7a12"/>
<line x1="361.9" y1="321.2" x2="364.5" y2="321.2" stroke="#f07f18" stroke-width="1.1" />
<line x1="371.15000000000003" y1="321" x2="371.15000000000003" y2="331.0" stroke="#f28a2a" stroke-width="1.0" />
<ellipse cx="371.15000000000003" cy="323.5" rx="0.9" ry="0.8" fill="#ee7a12"/>
<ellipse cx="371.15000000000003" cy="326.5" rx="0.9" ry="0.8" fill="#ee7a12"/>
<line x1="379.1" y1="321" x2="379.1" y2="331.0" stroke="#f28a2a" stroke-width="1.0" />
<ellipse cx="379.1" cy="323.5" rx="0.9" ry="0.8" fill="#ee7a12"/>
<ellipse cx="379.1" cy="326.5" rx="0.9" ry="0.8" fill="#ee7a12"/>
<line x1="377.8" y1="321.2" x2="380.40000000000003" y2="321.2" stroke="#f07f18" stroke-width="1.1" />
<line x1="387.05" y1="321" x2="387.05" y2="331.0" stroke="#f28a2a" stroke-width="1.0" />
<ellipse cx="387.05" cy="323.5" rx="0.9" ry="0.8" fill="#ee7a12"/>
<ellipse cx="387.05" cy="326.5" rx="0.9" ry="0.8" fill="#ee7a12"/>
<line x1="395.0" y1="321" x2="395.0" y2="331.0" stroke="#f28a2a" stroke-width="1.0" />
<ellipse cx="395.0" cy="323.5" rx="0.9" ry="0.8" fill="#ee7a12"/>
<ellipse cx="395.0" cy="326.5" rx="0.9" ry="0.8" fill="#ee7a12"/>
<line x1="393.7" y1="321.2" x2="396.3" y2="321.2" stroke="#f07f18" stroke-width="1.1" />
<line x1="402.95" y1="321" x2="402.95" y2="331.0" stroke="#f28a2a" stroke-width="1.0" />
<ellipse cx="402.95" cy="323.5" rx="0.9" ry="0.8" fill="#ee7a12"/>
<ellipse cx="402.95" cy="326.5" rx="0.9" ry="0.8" fill="#ee7a12"/>
<line x1="410.90000000000003" y1="321" x2="410.90000000000003" y2="331.0" stroke="#f28a2a" stroke-width="1.0" />
<ellipse cx="410.90000000000003" cy="323.5" rx="0.9" ry="0.8" fill="#ee7a12"/>
<ellipse cx="410.90000000000003" cy="326.5" rx="0.9" ry="0.8" fill="#ee7a12"/>
<line x1="409.6" y1="321.2" x2="412.20000000000005" y2="321.2" stroke="#f07f18" stroke-width="1.1" />
<line x1="418.85" y1="321" x2="418.85" y2="331.0" stroke="#f28a2a" stroke-width="1.0" />
<ellipse cx="418.85" cy="323.5" rx="0.9" ry="0.8" fill="#ee7a12"/>
<ellipse cx="418.85" cy="326.5" rx="0.9" ry="0.8" fill="#ee7a12"/>
<line x1="426.8" y1="321" x2="426.8" y2="331.0" stroke="#f28a2a" stroke-width="1.0" />
<ellipse cx="426.8" cy="323.5" rx="0.9" ry="0.8" fill="#ee7a12"/>
<ellipse cx="426.8" cy="326.5" rx="0.9" ry="0.8" fill="#ee7a12"/>
<line x1="425.5" y1="321.2" x2="428.1" y2="321.2" stroke="#f07f18" stroke-width="1.1" />
<rect x="341.8" y="177" width="75" height="39.599999999999994" stroke="#f4a0a0" fill="none" stroke-width="0.9" />
<rect x="416.8" y="177" width="13.3" height="39.599999999999994" stroke="#a8c0e8" fill="none" stroke-width="0.9" />
<line x1="341" y1="185.7" x2="434" y2="185.7" stroke="#5fa85f" stroke-width="0.9" />
<line x1="432.5" y1="185.7" x2="432.5" y2="216.6" stroke="#7fc47f" stroke-width="0.9" />
<path d="M343.5,178 L350,185.5" stroke="#777" fill="none" stroke-width="0.7" />
<path d="M430.5,178 L424,185.5" stroke="#777" fill="none" stroke-width="0.7" />
<line x1="351.4" y1="181" x2="351.4" y2="187" stroke="#111" stroke-width="1.0" />
<line x1="351.4" y1="187" x2="351.4" y2="212.6" stroke="#333" stroke-width="0.8" />
<circle cx="351.4" cy="181" r="0.9" fill="#222"/>
<line x1="359.29999999999995" y1="181" x2="359.29999999999995" y2="187" stroke="#111" stroke-width="1.0" />
<line x1="359.29999999999995" y1="187" x2="359.29999999999995" y2="212.6" stroke="#333" stroke-width="0.8" />
<circle cx="359.29999999999995" cy="181" r="0.9" fill="#222"/>
<line x1="367.2" y1="181" x2="367.2" y2="187" stroke="#111" stroke-width="1.0" />
<line x1="367.2" y1="187" x2="367.2" y2="212.6" stroke="#333" stroke-width="0.8" />
<circle cx="367.2" cy="181" r="0.9" fill="#222"/>
<line x1="375.09999999999997" y1="181" x2="375.09999999999997" y2="187" stroke="#111" stroke-width="1.0" />
<line x1="375.09999999999997" y1="187" x2="375.09999999999997" y2="212.6" stroke="#333" stroke-width="0.8" />
<circle cx="375.09999999999997" cy="181" r="0.9" fill="#222"/>
<line x1="383.0" y1="181" x2="383.0" y2="187" stroke="#111" stroke-width="1.0" />
<line x1="383.0" y1="187" x2="383.0" y2="212.6" stroke="#333" stroke-width="0.8" />
<circle cx="383.0" cy="181" r="0.9" fill="#222"/>
<line x1="390.9" y1="181" x2="390.9" y2="187" stroke="#111" stroke-width="1.0" />
<line x1="390.9" y1="187" x2="390.9" y2="212.6" stroke="#333" stroke-width="0.8" />
<circle cx="390.9" cy="181" r="0.9" fill="#222"/>
<line x1="398.79999999999995" y1="181" x2="398.79999999999995" y2="187" stroke="#111" stroke-width="1.0" />
<line x1="398.79999999999995" y1="187" x2="398.79999999999995" y2="212.6" stroke="#333" stroke-width="0.8" />
<circle cx="398.79999999999995" cy="181" r="0.9" fill="#222"/>
<line x1="406.7" y1="181" x2="406.7" y2="187" stroke="#111" stroke-width="1.0" />
<line x1="406.7" y1="187" x2="406.7" y2="212.6" stroke="#333" stroke-width="0.8" />
<circle cx="406.7" cy="181" r="0.9" fill="#222"/>
<line x1="414.59999999999997" y1="181" x2="414.59999999999997" y2="187" stroke="#111" stroke-width="1.0" />
<line x1="414.59999999999997" y1="187" x2="414.59999999999997" y2="212.6" stroke="#333" stroke-width="0.8" />
<circle cx="414.59999999999997" cy="181" r="0.9" fill="#222"/>
<line x1="422.5" y1="181" x2="422.5" y2="187" stroke="#111" stroke-width="1.0" />
<line x1="422.5" y1="187" x2="422.5" y2="212.6" stroke="#333" stroke-width="0.8" />
<circle cx="422.5" cy="181" r="0.9" fill="#222"/>
<rect x="346.7" y="187" width="0.8" height="25.599999999999994" stroke="none" fill="#222" stroke-width="1" />
<rect x="348.3" y="189.5" width="1.3" height="1.4" stroke="none" fill="#222" stroke-width="1" />
<rect x="348.5" y="193.5" width="1.2" height="1.2" stroke="none" fill="#333" stroke-width="1" />
<rect x="348.3" y="201.5" width="1.3" height="1.4" stroke="none" fill="#222" stroke-width="1" />
<rect x="348.5" y="205.5" width="1.2" height="1.2" stroke="none" fill="#333" stroke-width="1" />
<ellipse cx="348.8" cy="192.5" rx="1.1" ry="1.6" fill="none" stroke="#222" stroke-width="0.7"/>
<ellipse cx="348.8" cy="204.0" rx="1.1" ry="1.6" fill="none" stroke="#222" stroke-width="0.7"/>
<rect x="352.09999999999997" y="187" width="1.2" height="25.599999999999994" stroke="none" fill="#111" stroke-width="1" />
<rect x="354.59999999999997" y="187" width="0.8" height="25.599999999999994" stroke="none" fill="#222" stroke-width="1" />
<rect x="356.2" y="189.5" width="1.3" height="1.4" stroke="none" fill="#222" stroke-width="1" />
<rect x="356.4" y="193.5" width="1.2" height="1.2" stroke="none" fill="#333" stroke-width="1" />
<rect x="356.2" y="201.5" width="1.3" height="1.4" stroke="none" fill="#222" stroke-width="1" />
<rect x="356.4" y="205.5" width="1.2" height="1.2" stroke="none" fill="#333" stroke-width="1" />
<ellipse cx="356.7" cy="192.5" rx="1.1" ry="1.6" fill="none" stroke="#222" stroke-width="0.7"/>
<ellipse cx="356.7" cy="204.0" rx="1.1" ry="1.6" fill="none" stroke="#222" stroke-width="0.7"/>
<rect x="360.0" y="187" width="1.2" height="25.599999999999994" stroke="none" fill="#111" stroke-width="1" />
<rect x="362.5" y="187" width="0.8" height="25.599999999999994" stroke="none" fill="#222" stroke-width="1" />
<rect x="364.1" y="189.5" width="1.3" height="1.4" stroke="none" fill="#222" stroke-width="1" />
<rect x="364.3" y="193.5" width="1.2" height="1.2" stroke="none" fill="#333" stroke-width="1" />
<rect x="364.1" y="201.5" width="1.3" height="1.4" stroke="none" fill="#222" stroke-width="1" />
<rect x="364.3" y="205.5" width="1.2" height="1.2" stroke="none" fill="#333" stroke-width="1" />
<ellipse cx="364.6" cy="192.5" rx="1.1" ry="1.6" fill="none" stroke="#222" stroke-width="0.7"/>
<ellipse cx="364.6" cy="204.0" rx="1.1" ry="1.6" fill="none" stroke="#222" stroke-width="0.7"/>
<rect x="367.9" y="187" width="1.2" height="25.599999999999994" stroke="none" fill="#111" stroke-width="1" />
<rect x="370.4" y="187" width="0.8" height="25.599999999999994" stroke="none" fill="#222" stroke-width="1" />
<rect x="372.0" y="189.5" width="1.3" height="1.4" stroke="none" fill="#222" stroke-width="1" />
<rect x="372.2" y="193.5" width="1.2" height="1.2" stroke="none" fill="#333" stroke-width="1" />
<rect x="372.0" y="201.5" width="1.3" height="1.4" stroke="none" fill="#222" stroke-width="1" />
<rect x="372.2" y="205.5" width="1.2" height="1.2" stroke="none" fill="#333" stroke-width="1" />
<ellipse cx="372.5" cy="192.5" rx="1.1" ry="1.6" fill="none" stroke="#222" stroke-width="0.7"/>
<ellipse cx="372.5" cy="204.0" rx="1.1" ry="1.6" fill="none" stroke="#222" stroke-width="0.7"/>
<rect x="375.8" y="187" width="1.2" height="25.599999999999994" stroke="none" fill="#111" stroke-width="1" />
<rect x="378.3" y="187" width="0.8" height="25.599999999999994" stroke="none" fill="#222" stroke-width="1" />
<rect x="379.90000000000003" y="189.5" width="1.3" height="1.4" stroke="none" fill="#222" stroke-width="1" />
<rect x="380.1" y="193.5" width="1.2" height="1.2" stroke="none" fill="#333" stroke-width="1" />
<rect x="379.90000000000003" y="201.5" width="1.3" height="1.4" stroke="none" fill="#222" stroke-width="1" />
<rect x="380.1" y="205.5" width="1.2" height="1.2" stroke="none" fill="#333" stroke-width="1" />
<ellipse cx="380.40000000000003" cy="192.5" rx="1.1" ry="1.6" fill="none" stroke="#222" stroke-width="0.7"/>
<ellipse cx="380.40000000000003" cy="204.0" rx="1.1" ry="1.6" fill="none" stroke="#222" stroke-width="0.7"/>
<rect x="383.7" y="187" width="1.2" height="25.599999999999994" stroke="none" fill="#111" stroke-width="1" />
<rect x="386.2" y="187" width="0.8" height="25.599999999999994" stroke="none" fill="#222" stroke-width="1" />
<rect x="387.8" y="189.5" width="1.3" height="1.4" stroke="none" fill="#222" stroke-width="1" />
<rect x="388.0" y="193.5" width="1.2" height="1.2" stroke="none" fill="#333" stroke-width="1" />
<rect x="387.8" y="201.5" width="1.3" height="1.4" stroke="none" fill="#222" stroke-width="1" />
<rect x="388.0" y="205.5" width="1.2" height="1.2" stroke="none" fill="#333" stroke-width="1" />
<ellipse cx="388.3" cy="192.5" rx="1.1" ry="1.6" fill="none" stroke="#222" stroke-width="0.7"/>
<ellipse cx="388.3" cy="204.0" rx="1.1" ry="1.6" fill="none" stroke="#222" stroke-width="0.7"/>
<rect x="391.59999999999997" y="187" width="1.2" height="25.599999999999994" stroke="none" fill="#111" stroke-width="1" />
<rect x="394.09999999999997" y="187" width="0.8" height="25.599999999999994" stroke="none" fill="#222" stroke-width="1" />
<rect x="395.7" y="189.5" width="1.3" height="1.4" stroke="none" fill="#222" stroke-width="1" />
<rect x="395.9" y="193.5" width="1.2" height="1.2" stroke="none" fill="#333" stroke-width="1" />
<rect x="395.7" y="201.5" width="1.3" height="1.4" stroke="none" fill="#222" stroke-width="1" />
<rect x="395.9" y="205.5" width="1.2" height="1.2" stroke="none" fill="#333" stroke-width="1" />
<ellipse cx="396.2" cy="192.5" rx="1.1" ry="1.6" fill="none" stroke="#222" stroke-width="0.7"/>
<ellipse cx="396.2" cy="204.0" rx="1.1" ry="1.6" fill="none" stroke="#222" stroke-width="0.7"/>
<rect x="399.5" y="187" width="1.2" height="25.599999999999994" stroke="none" fill="#111" stroke-width="1" />
<rect x="402.0" y="187" width="0.8" height="25.599999999999994" stroke="none" fill="#222" stroke-width="1" />
<rect x="403.6" y="189.5" width="1.3" height="1.4" stroke="none" fill="#222" stroke-width="1" />
<rect x="403.8" y="193.5" width="1.2" height="1.2" stroke="none" fill="#333" stroke-width="1" />
<rect x="403.6" y="201.5" width="1.3" height="1.4" stroke="none" fill="#222" stroke-width="1" />
<rect x="403.8" y="205.5" width="1.2" height="1.2" stroke="none" fill="#333" stroke-width="1" />
<ellipse cx="404.1" cy="192.5" rx="1.1" ry="1.6" fill="none" stroke="#222" stroke-width="0.7"/>
<ellipse cx="404.1" cy="204.0" rx="1.1" ry="1.6" fill="none" stroke="#222" stroke-width="0.7"/>
<rect x="407.4" y="187" width="1.2" height="25.599999999999994" stroke="none" fill="#111" stroke-width="1" />
<rect x="409.9" y="187" width="0.8" height="25.599999999999994" stroke="none" fill="#222" stroke-width="1" />
<rect x="411.5" y="189.5" width="1.3" height="1.4" stroke="none" fill="#222" stroke-width="1" />
<rect x="411.7" y="193.5" width="1.2" height="1.2" stroke="none" fill="#333" stroke-width="1" />
<rect x="411.5" y="201.5" width="1.3" height="1.4" stroke="none" fill="#222" stroke-width="1" />
<rect x="411.7" y="205.5" width="1.2" height="1.2" stroke="none" fill="#333" stroke-width="1" />
<ellipse cx="412.0" cy="192.5" rx="1.1" ry="1.6" fill="none" stroke="#222" stroke-width="0.7"/>
<ellipse cx="412.0" cy="204.0" rx="1.1" ry="1.6" fill="none" stroke="#222" stroke-width="0.7"/>
<rect x="415.3" y="187" width="1.2" height="25.599999999999994" stroke="none" fill="#111" stroke-width="1" />
<rect x="417.8" y="187" width="0.8" height="25.599999999999994" stroke="none" fill="#222" stroke-width="1" />
<rect x="419.40000000000003" y="189.5" width="1.3" height="1.4" stroke="none" fill="#222" stroke-width="1" />
<rect x="419.6" y="193.5" width="1.2" height="1.2" stroke="none" fill="#333" stroke-width="1" />
<rect x="419.40000000000003" y="201.5" width="1.3" height="1.4" stroke="none" fill="#222" stroke-width="1" />
<rect x="419.6" y="205.5" width="1.2" height="1.2" stroke="none" fill="#333" stroke-width="1" />
<ellipse cx="419.90000000000003" cy="192.5" rx="1.1" ry="1.6" fill="none" stroke="#222" stroke-width="0.7"/>
<ellipse cx="419.90000000000003" cy="204.0" rx="1.1" ry="1.6" fill="none" stroke="#222" stroke-width="0.7"/>
<rect x="423.2" y="187" width="1.2" height="25.599999999999994" stroke="none" fill="#111" stroke-width="1" />
<rect x="425.7" y="187" width="0.8" height="25.599999999999994" stroke="none" fill="#222" stroke-width="1" />
<rect x="427.3" y="189.5" width="1.3" height="1.4" stroke="none" fill="#222" stroke-width="1" />
<rect x="427.5" y="193.5" width="1.2" height="1.2" stroke="none" fill="#333" stroke-width="1" />
<rect x="427.3" y="201.5" width="1.3" height="1.4" stroke="none" fill="#222" stroke-width="1" />
<rect x="427.5" y="205.5" width="1.2" height="1.2" stroke="none" fill="#333" stroke-width="1" />
<ellipse cx="427.8" cy="192.5" rx="1.1" ry="1.6" fill="none" stroke="#222" stroke-width="0.7"/>
<ellipse cx="427.8" cy="204.0" rx="1.1" ry="1.6" fill="none" stroke="#222" stroke-width="0.7"/>
<line x1="343" y1="187" x2="431" y2="187" stroke="#111" stroke-width="1.0" />
<line x1="343" y1="198.5" x2="431" y2="198.5" stroke="#111" stroke-width="1.1" />
<line x1="343" y1="212.6" x2="431" y2="212.6" stroke="#111" stroke-width="1.2" />
<ellipse cx="347.5" cy="214.4" rx="2.2" ry="1.1" fill="#e6e6e6" stroke="#444" stroke-width="0.5"/>
<ellipse cx="355.4" cy="214.4" rx="2.2" ry="1.1" fill="#e6e6e6" stroke="#444" stroke-width="0.5"/>
<ellipse cx="363.3" cy="214.4" rx="2.2" ry="1.1" fill="#e6e6e6" stroke="#444" stroke-width="0.5"/>
<ellipse cx="371.2" cy="214.4" rx="2.2" ry="1.1" fill="#e6e6e6" stroke="#444" stroke-width="0.5"/>
<ellipse cx="379.1" cy="214.4" rx="2.2" ry="1.1" fill="#e6e6e6" stroke="#444" stroke-width="0.5"/>
<ellipse cx="387.0" cy="214.4" rx="2.2" ry="1.1" fill="#e6e6e6" stroke="#444" stroke-width="0.5"/>
<ellipse cx="394.9" cy="214.4" rx="2.2" ry="1.1" fill="#e6e6e6" stroke="#444" stroke-width="0.5"/>
<ellipse cx="402.8" cy="214.4" rx="2.2" ry="1.1" fill="#e6e6e6" stroke="#444" stroke-width="0.5"/>
<ellipse cx="410.7" cy="214.4" rx="2.2" ry="1.1" fill="#e6e6e6" stroke="#444" stroke-width="0.5"/>
<ellipse cx="418.6" cy="214.4" rx="2.2" ry="1.1" fill="#e6e6e6" stroke="#444" stroke-width="0.5"/>
<ellipse cx="426.5" cy="214.4" rx="2.2" ry="1.1" fill="#e6e6e6" stroke="#444" stroke-width="0.5"/>
<rect x="343" y="180" width="1.8" height="36.599999999999994" stroke="none" fill="#1a2a40" stroke-width="1" />
<rect x="429.3" y="180" width="1.8" height="36.599999999999994" stroke="none" fill="#1a2a40" stroke-width="1" />
<line x1="434.8" y1="178" x2="434.8" y2="215.6" stroke="#3a3a3a" stroke-width="1.3" stroke-dasharray="1.2,1.4"/>
<rect x="341.8" y="271" width="75" height="40.5" stroke="#f4a0a0" fill="none" stroke-width="0.9" />
<rect x="416.8" y="271" width="13.3" height="40.5" stroke="#a8c0e8" fill="none" stroke-width="0.9" />
<line x1="341" y1="279.7" x2="434" y2="279.7" stroke="#5fa85f" stroke-width="0.9" />
<line x1="432.5" y1="279.7" x2="432.5" y2="311.5" stroke="#7fc47f" stroke-width="0.9" />
<path d="M343.5,272 L350,279.5" stroke="#777" fill="none" stroke-width="0.7" />
<path d="M430.5,272 L424,279.5" stroke="#777" fill="none" stroke-width="0.7" />
<line x1="351.4" y1="275" x2="351.4" y2="281" stroke="#111" stroke-width="1.0" />
<line x1="351.4" y1="281" x2="351.4" y2="307.5" stroke="#333" stroke-width="0.8" />
<circle cx="351.4" cy="275" r="0.9" fill="#222"/>
<line x1="359.29999999999995" y1="275" x2="359.29999999999995" y2="281" stroke="#111" stroke-width="1.0" />
<line x1="359.29999999999995" y1="281" x2="359.29999999999995" y2="307.5" stroke="#333" stroke-width="0.8" />
<circle cx="359.29999999999995" cy="275" r="0.9" fill="#222"/>
<line x1="367.2" y1="275" x2="367.2" y2="281" stroke="#111" stroke-width="1.0" />
<line x1="367.2" y1="281" x2="367.2" y2="307.5" stroke="#333" stroke-width="0.8" />
<circle cx="367.2" cy="275" r="0.9" fill="#222"/>
<line x1="375.09999999999997" y1="275" x2="375.09999999999997" y2="281" stroke="#111" stroke-width="1.0" />
<line x1="375.09999999999997" y1="281" x2="375.09999999999997" y2="307.5" stroke="#333" stroke-width="0.8" />
<circle cx="375.09999999999997" cy="275" r="0.9" fill="#222"/>
<line x1="383.0" y1="275" x2="383.0" y2="281" stroke="#111" stroke-width="1.0" />
<line x1="383.0" y1="281" x2="383.0" y2="307.5" stroke="#333" stroke-width="0.8" />
<circle cx="383.0" cy="275" r="0.9" fill="#222"/>
<line x1="390.9" y1="275" x2="390.9" y2="281" stroke="#111" stroke-width="1.0" />
<line x1="390.9" y1="281" x2="390.9" y2="307.5" stroke="#333" stroke-width="0.8" />
<circle cx="390.9" cy="275" r="0.9" fill="#222"/>
<line x1="398.79999999999995" y1="275" x2="398.79999999999995" y2="281" stroke="#111" stroke-width="1.0" />
<line x1="398.79999999999995" y1="281" x2="398.79999999999995" y2="307.5" stroke="#333" stroke-width="0.8" />
<circle cx="398.79999999999995" cy="275" r="0.9" fill="#222"/>
<line x1="406.7" y1="275" x2="406.7" y2="281" stroke="#111" stroke-width="1.0" />
<line x1="406.7" y1="281" x2="406.7" y2="307.5" stroke="#333" stroke-width="0.8" />
<circle cx="406.7" cy="275" r="0.9" fill="#222"/>
<line x1="414.59999999999997" y1="275" x2="414.59999999999997" y2="281" stroke="#111" stroke-width="1.0" />
<line x1="414.59999999999997" y1="281" x2="414.59999999999997" y2="307.5" stroke="#333" stroke-width="0.8" />
<circle cx="414.59999999999997" cy="275" r="0.9" fill="#222"/>
<line x1="422.5" y1="275" x2="422.5" y2="281" stroke="#111" stroke-width="1.0" />
<line x1="422.5" y1="281" x2="422.5" y2="307.5" stroke="#333" stroke-width="0.8" />
<circle cx="422.5" cy="275" r="0.9" fill="#222"/>
<rect x="346.7" y="281" width="0.8" height="26.5" stroke="none" fill="#222" stroke-width="1" />
<rect x="348.3" y="283.5" width="1.3" height="1.4" stroke="none" fill="#222" stroke-width="1" />
<rect x="348.5" y="287.5" width="1.2" height="1.2" stroke="none" fill="#333" stroke-width="1" />
<rect x="348.3" y="295.5" width="1.3" height="1.4" stroke="none" fill="#222" stroke-width="1" />
<rect x="348.5" y="299.5" width="1.2" height="1.2" stroke="none" fill="#333" stroke-width="1" />
<ellipse cx="348.8" cy="286.5" rx="1.1" ry="1.6" fill="none" stroke="#222" stroke-width="0.7"/>
<ellipse cx="348.8" cy="298.0" rx="1.1" ry="1.6" fill="none" stroke="#222" stroke-width="0.7"/>
<rect x="352.09999999999997" y="281" width="1.2" height="26.5" stroke="none" fill="#111" stroke-width="1" />
<rect x="354.59999999999997" y="281" width="0.8" height="26.5" stroke="none" fill="#222" stroke-width="1" />
<rect x="356.2" y="283.5" width="1.3" height="1.4" stroke="none" fill="#222" stroke-width="1" />
<rect x="356.4" y="287.5" width="1.2" height="1.2" stroke="none" fill="#333" stroke-width="1" />
<rect x="356.2" y="295.5" width="1.3" height="1.4" stroke="none" fill="#222" stroke-width="1" />
<rect x="356.4" y="299.5" width="1.2" height="1.2" stroke="none" fill="#333" stroke-width="1" />
<ellipse cx="356.7" cy="286.5" rx="1.1" ry="1.6" fill="none" stroke="#222" stroke-width="0.7"/>
<ellipse cx="356.7" cy="298.0" rx="1.1" ry="1.6" fill="none" stroke="#222" stroke-width="0.7"/>
<rect x="360.0" y="281" width="1.2" height="26.5" stroke="none" fill="#111" stroke-width="1" />
<rect x="362.5" y="281" width="0.8" height="26.5" stroke="none" fill="#222" stroke-width="1" />
<rect x="364.1" y="283.5" width="1.3" height="1.4" stroke="none" fill="#222" stroke-width="1" />
<rect x="364.3" y="287.5" width="1.2" height="1.2" stroke="none" fill="#333" stroke-width="1" />
<rect x="364.1" y="295.5" width="1.3" height="1.4" stroke="none" fill="#222" stroke-width="1" />
<rect x="364.3" y="299.5" width="1.2" height="1.2" stroke="none" fill="#333" stroke-width="1" />
<ellipse cx="364.6" cy="286.5" rx="1.1" ry="1.6" fill="none" stroke="#222" stroke-width="0.7"/>
<ellipse cx="364.6" cy="298.0" rx="1.1" ry="1.6" fill="none" stroke="#222" stroke-width="0.7"/>
<rect x="367.9" y="281" width="1.2" height="26.5" stroke="none" fill="#111" stroke-width="1" />
<rect x="370.4" y="281" width="0.8" height="26.5" stroke="none" fill="#222" stroke-width="1" />
<rect x="372.0" y="283.5" width="1.3" height="1.4" stroke="none" fill="#222" stroke-width="1" />
<rect x="372.2" y="287.5" width="1.2" height="1.2" stroke="none" fill="#333" stroke-width="1" />
<rect x="372.0" y="295.5" width="1.3" height="1.4" stroke="none" fill="#222" stroke-width="1" />
<rect x="372.2" y="299.5" width="1.2" height="1.2" stroke="none" fill="#333" stroke-width="1" />
<ellipse cx="372.5" cy="286.5" rx="1.1" ry="1.6" fill="none" stroke="#222" stroke-width="0.7"/>
<ellipse cx="372.5" cy="298.0" rx="1.1" ry="1.6" fill="none" stroke="#222" stroke-width="0.7"/>
<rect x="375.8" y="281" width="1.2" height="26.5" stroke="none" fill="#111" stroke-width="1" />
<rect x="378.3" y="281" width="0.8" height="26.5" stroke="none" fill="#222" stroke-width="1" />
<rect x="379.90000000000003" y="283.5" width="1.3" height="1.4" stroke="none" fill="#222" stroke-width="1" />
<rect x="380.1" y="287.5" width="1.2" height="1.2" stroke="none" fill="#333" stroke-width="1" />
<rect x="379.90000000000003" y="295.5" width="1.3" height="1.4" stroke="none" fill="#222" stroke-width="1" />
<rect x="380.1" y="299.5" width="1.2" height="1.2" stroke="none" fill="#333" stroke-width="1" />
<ellipse cx="380.40000000000003" cy="286.5" rx="1.1" ry="1.6" fill="none" stroke="#222" stroke-width="0.7"/>
<ellipse cx="380.40000000000003" cy="298.0" rx="1.1" ry="1.6" fill="none" stroke="#222" stroke-width="0.7"/>
<rect x="383.7" y="281" width="1.2" height="26.5" stroke="none" fill="#111" stroke-width="1" />
<rect x="386.2" y="281" width="0.8" height="26.5" stroke="none" fill="#222" stroke-width="1" />
<rect x="387.8" y="283.5" width="1.3" height="1.4" stroke="none" fill="#222" stroke-width="1" />
<rect x="388.0" y="287.5" width="1.2" height="1.2" stroke="none" fill="#333" stroke-width="1" />
<rect x="387.8" y="295.5" width="1.3" height="1.4" stroke="none" fill="#222" stroke-width="1" />
<rect x="388.0" y="299.5" width="1.2" height="1.2" stroke="none" fill="#333" stroke-width="1" />
<ellipse cx="388.3" cy="286.5" rx="1.1" ry="1.6" fill="none" stroke="#222" stroke-width="0.7"/>
<ellipse cx="388.3" cy="298.0" rx="1.1" ry="1.6" fill="none" stroke="#222" stroke-width="0.7"/>
<rect x="391.59999999999997" y="281" width="1.2" height="26.5" stroke="none" fill="#111" stroke-width="1" />
<rect x="394.09999999999997" y="281" width="0.8" height="26.5" stroke="none" fill="#222" stroke-width="1" />
<rect x="395.7" y="283.5" width="1.3" height="1.4" stroke="none" fill="#222" stroke-width="1" />
<rect x="395.9" y="287.5" width="1.2" height="1.2" stroke="none" fill="#333" stroke-width="1" />
<rect x="395.7" y="295.5" width="1.3" height="1.4" stroke="none" fill="#222" stroke-width="1" />
<rect x="395.9" y="299.5" width="1.2" height="1.2" stroke="none" fill="#333" stroke-width="1" />
<ellipse cx="396.2" cy="286.5" rx="1.1" ry="1.6" fill="none" stroke="#222" stroke-width="0.7"/>
<ellipse cx="396.2" cy="298.0" rx="1.1" ry="1.6" fill="none" stroke="#222" stroke-width="0.7"/>
<rect x="399.5" y="281" width="1.2" height="26.5" stroke="none" fill="#111" stroke-width="1" />
<rect x="402.0" y="281" width="0.8" height="26.5" stroke="none" fill="#222" stroke-width="1" />
<rect x="403.6" y="283.5" width="1.3" height="1.4" stroke="none" fill="#222" stroke-width="1" />
<rect x="403.8" y="287.5" width="1.2" height="1.2" stroke="none" fill="#333" stroke-width="1" />
<rect x="403.6" y="295.5" width="1.3" height="1.4" stroke="none" fill="#222" stroke-width="1" />
<rect x="403.8" y="299.5" width="1.2" height="1.2" stroke="none" fill="#333" stroke-width="1" />
<ellipse cx="404.1" cy="286.5" rx="1.1" ry="1.6" fill="none" stroke="#222" stroke-width="0.7"/>
<ellipse cx="404.1" cy="298.0" rx="1.1" ry="1.6" fill="none" stroke="#222" stroke-width="0.7"/>
<rect x="407.4" y="281" width="1.2" height="26.5" stroke="none" fill="#111" stroke-width="1" />
<rect x="409.9" y="281" width="0.8" height="26.5" stroke="none" fill="#222" stroke-width="1" />
<rect x="411.5" y="283.5" width="1.3" height="1.4" stroke="none" fill="#222" stroke-width="1" />
<rect x="411.7" y="287.5" width="1.2" height="1.2" stroke="none" fill="#333" stroke-width="1" />
<rect x="411.5" y="295.5" width="1.3" height="1.4" stroke="none" fill="#222" stroke-width="1" />
<rect x="411.7" y="299.5" width="1.2" height="1.2" stroke="none" fill="#333" stroke-width="1" />
<ellipse cx="412.0" cy="286.5" rx="1.1" ry="1.6" fill="none" stroke="#222" stroke-width="0.7"/>
<ellipse cx="412.0" cy="298.0" rx="1.1" ry="1.6" fill="none" stroke="#222" stroke-width="0.7"/>
<rect x="415.3" y="281" width="1.2" height="26.5" stroke="none" fill="#111" stroke-width="1" />
<rect x="417.8" y="281" width="0.8" height="26.5" stroke="none" fill="#222" stroke-width="1" />
<rect x="419.40000000000003" y="283.5" width="1.3" height="1.4" stroke="none" fill="#222" stroke-width="1" />
<rect x="419.6" y="287.5" width="1.2" height="1.2" stroke="none" fill="#333" stroke-width="1" />
<rect x="419.40000000000003" y="295.5" width="1.3" height="1.4" stroke="none" fill="#222" stroke-width="1" />
<rect x="419.6" y="299.5" width="1.2" height="1.2" stroke="none" fill="#333" stroke-width="1" />
<ellipse cx="419.90000000000003" cy="286.5" rx="1.1" ry="1.6" fill="none" stroke="#222" stroke-width="0.7"/>
<ellipse cx="419.90000000000003" cy="298.0" rx="1.1" ry="1.6" fill="none" stroke="#222" stroke-width="0.7"/>
<rect x="423.2" y="281" width="1.2" height="26.5" stroke="none" fill="#111" stroke-width="1" />
<rect x="425.7" y="281" width="0.8" height="26.5" stroke="none" fill="#222" stroke-width="1" />
<rect x="427.3" y="283.5" width="1.3" height="1.4" stroke="none" fill="#222" stroke-width="1" />
<rect x="427.5" y="287.5" width="1.2" height="1.2" stroke="none" fill="#333" stroke-width="1" />
<rect x="427.3" y="295.5" width="1.3" height="1.4" stroke="none" fill="#222" stroke-width="1" />
<rect x="427.5" y="299.5" width="1.2" height="1.2" stroke="none" fill="#333" stroke-width="1" />
<ellipse cx="427.8" cy="286.5" rx="1.1" ry="1.6" fill="none" stroke="#222" stroke-width="0.7"/>
<ellipse cx="427.8" cy="298.0" rx="1.1" ry="1.6" fill="none" stroke="#222" stroke-width="0.7"/>
<line x1="343" y1="281" x2="431" y2="281" stroke="#111" stroke-width="1.0" />
<line x1="343" y1="292.5" x2="431" y2="292.5" stroke="#111" stroke-width="1.1" />
<line x1="343" y1="307.5" x2="431" y2="307.5" stroke="#111" stroke-width="1.2" />
<ellipse cx="347.5" cy="309.3" rx="2.2" ry="1.1" fill="#e6e6e6" stroke="#444" stroke-width="0.5"/>
<ellipse cx="355.4" cy="309.3" rx="2.2" ry="1.1" fill="#e6e6e6" stroke="#444" stroke-width="0.5"/>
<ellipse cx="363.3" cy="309.3" rx="2.2" ry="1.1" fill="#e6e6e6" stroke="#444" stroke-width="0.5"/>
<ellipse cx="371.2" cy="309.3" rx="2.2" ry="1.1" fill="#e6e6e6" stroke="#444" stroke-width="0.5"/>
<ellipse cx="379.1" cy="309.3" rx="2.2" ry="1.1" fill="#e6e6e6" stroke="#444" stroke-width="0.5"/>
<ellipse cx="387.0" cy="309.3" rx="2.2" ry="1.1" fill="#e6e6e6" stroke="#444" stroke-width="0.5"/>
<ellipse cx="394.9" cy="309.3" rx="2.2" ry="1.1" fill="#e6e6e6" stroke="#444" stroke-width="0.5"/>
<ellipse cx="402.8" cy="309.3" rx="2.2" ry="1.1" fill="#e6e6e6" stroke="#444" stroke-width="0.5"/>
<ellipse cx="410.7" cy="309.3" rx="2.2" ry="1.1" fill="#e6e6e6" stroke="#444" stroke-width="0.5"/>
<ellipse cx="418.6" cy="309.3" rx="2.2" ry="1.1" fill="#e6e6e6" stroke="#444" stroke-width="0.5"/>
<ellipse cx="426.5" cy="309.3" rx="2.2" ry="1.1" fill="#e6e6e6" stroke="#444" stroke-width="0.5"/>
<rect x="343" y="274" width="1.8" height="37.5" stroke="none" fill="#1a2a40" stroke-width="1" />
<rect x="429.3" y="274" width="1.8" height="37.5" stroke="none" fill="#1a2a40" stroke-width="1" />
<line x1="434.8" y1="272" x2="434.8" y2="310.5" stroke="#3a3a3a" stroke-width="1.3" stroke-dasharray="1.2,1.4"/>
<line x1="136" y1="359.0" x2="233.2" y2="359.0" stroke="#6a6a6a" stroke-width="1.6" />
<line x1="232.6" y1="359" x2="232.6" y2="383" stroke="#8a8a8a" stroke-width="0.8" />
<rect x="140.8" y="361.2" width="91.2" height="20.8" stroke="#f8bd8a" fill="#fffdfb" stroke-width="0.9" />
<path d="M148.2,368.6 Q145.8,368.8 146.4,370.8 Q147,372.5 148.2,372" stroke="#ef7f1a" fill="none" stroke-width="1.2" />
<line x1="154.7" y1="368.6" x2="154.7" y2="372.6" stroke="#ef7f1a" stroke-width="1.0" stroke-dasharray="1.2,0.8"/>
<line x1="161.0" y1="368.8" x2="163.8" y2="368.8" stroke="#ef7f1a" stroke-width="1.1" />
<line x1="162.4" y1="368.8" x2="162.4" y2="372.6" stroke="#ef7f1a" stroke-width="1.1" />
<line x1="170.5" y1="368.6" x2="170.5" y2="372.6" stroke="#ef7f1a" stroke-width="1.0" stroke-dasharray="1.2,0.8"/>
<line x1="177.1" y1="368.8" x2="179.9" y2="368.8" stroke="#ef7f1a" stroke-width="1.1" />
<line x1="178.5" y1="368.8" x2="178.5" y2="372.6" stroke="#ef7f1a" stroke-width="1.1" />
<line x1="186.7" y1="368.6" x2="186.7" y2="372.6" stroke="#ef7f1a" stroke-width="1.0" stroke-dasharray="1.2,0.8"/>
<line x1="193.2" y1="368.8" x2="196.0" y2="368.8" stroke="#ef7f1a" stroke-width="1.1" />
<line x1="194.6" y1="368.8" x2="194.6" y2="372.6" stroke="#ef7f1a" stroke-width="1.1" />
<line x1="202.8" y1="368.6" x2="202.8" y2="372.6" stroke="#ef7f1a" stroke-width="1.0" stroke-dasharray="1.2,0.8"/>
<line x1="209.0" y1="368.8" x2="211.8" y2="368.8" stroke="#ef7f1a" stroke-width="1.1" />
<line x1="210.4" y1="368.8" x2="210.4" y2="372.6" stroke="#ef7f1a" stroke-width="1.1" />
<line x1="218.4" y1="368.6" x2="218.4" y2="372.6" stroke="#ef7f1a" stroke-width="1.0" stroke-dasharray="1.2,0.8"/>
<line x1="224.7" y1="368.8" x2="227.5" y2="368.8" stroke="#ef7f1a" stroke-width="1.1" />
<line x1="226.1" y1="368.8" x2="226.1" y2="372.6" stroke="#ef7f1a" stroke-width="1.1" />
<path d="M139,361.5 H32.5 V378.8 H139" stroke="#555" fill="none" stroke-width="1.0" />
<line x1="32" y1="378.9" x2="139" y2="378.9" stroke="#555" stroke-width="1.6" />
<rect x="39.2" y="364.3" width="76.3" height="6.2" stroke="#f2a0a0" fill="none" stroke-width="0.8" />
<rect x="115.5" y="364.3" width="16.5" height="6.2" stroke="#9ad49a" fill="none" stroke-width="0.8" />
<rect x="39.2" y="365.8" width="92.8" height="1.8" stroke="none" fill="#b0b0b0" stroke-width="1" />
<line x1="38" y1="371.2" x2="115.5" y2="371.2" stroke="#3c0c0c" stroke-width="1.3" />
<line x1="115.5" y1="371.2" x2="133" y2="371.2" stroke="#123612" stroke-width="1.3" />
<line x1="38" y1="367.3" x2="133" y2="367.3" stroke="#777" stroke-width="0.8" />
<line x1="45.6" y1="364.5" x2="45.6" y2="374.6" stroke="#111" stroke-width="1.1" />
<ellipse cx="45.6" cy="371.2" rx="1.5" ry="1.2" fill="#200000"/>
<line x1="61.400000000000006" y1="364.5" x2="61.400000000000006" y2="374.6" stroke="#111" stroke-width="1.1" />
<ellipse cx="61.400000000000006" cy="371.2" rx="1.5" ry="1.2" fill="#200000"/>
<line x1="77.2" y1="364.5" x2="77.2" y2="374.6" stroke="#111" stroke-width="1.1" />
<ellipse cx="77.2" cy="371.2" rx="1.5" ry="1.2" fill="#200000"/>
<line x1="93.0" y1="364.5" x2="93.0" y2="374.6" stroke="#111" stroke-width="1.1" />
<ellipse cx="93.0" cy="371.2" rx="1.5" ry="1.2" fill="#200000"/>
<line x1="108.80000000000001" y1="364.5" x2="108.80000000000001" y2="374.6" stroke="#111" stroke-width="1.1" />
<ellipse cx="108.80000000000001" cy="371.2" rx="1.5" ry="1.2" fill="#200000"/>
<line x1="124.6" y1="364.5" x2="124.6" y2="374.6" stroke="#111" stroke-width="1.1" />
<ellipse cx="124.6" cy="371.2" rx="1.5" ry="1.2" fill="#200000"/>
<line x1="53.5" y1="364.3" x2="53.5" y2="371.5" stroke="#111" stroke-width="1.2" />
<line x1="69.3" y1="364.3" x2="69.3" y2="371.5" stroke="#111" stroke-width="1.2" />
<line x1="85.1" y1="364.3" x2="85.1" y2="371.5" stroke="#111" stroke-width="1.2" />
<line x1="100.9" y1="364.3" x2="100.9" y2="371.5" stroke="#111" stroke-width="1.2" />
<line x1="116.7" y1="364.3" x2="116.7" y2="371.5" stroke="#111" stroke-width="1.2" />
<line x1="134.8" y1="260.5" x2="134.8" y2="361" stroke="#8a8a8a" stroke-width="1.5" />
<path d="M134.5,260.5 A100,100 0 0 0 34.3,361" stroke="#7a7a7a" fill="none" stroke-width="1.0" />
<path d="M113.8,291.5 h2 v13 h2.3 l-3.3,8 l-3.3,-8 h2.3 z" stroke="#f4a060" fill="none" stroke-width="0.8" />
<line x1="438.8" y1="237" x2="438.8" y2="256" stroke="#8a8a8a" stroke-width="1.4" />
<line x1="438.8" y1="331" x2="438.8" y2="348" stroke="#8a8a8a" stroke-width="1.4" />
<rect x="240.5" y="207.3" width="46" height="6.2" rx="2.5" fill="#f0f0f0" stroke="#999" stroke-width="0.9"/>
<line x1="241" y1="210.6" x2="286" y2="210.6" stroke="#bbb" stroke-width="0.7" />
<line x1="246" y1="214.4" x2="283" y2="214.4" stroke="#2a2a2a" stroke-width="1.2" />
<line x1="236" y1="219.2" x2="291" y2="219.2" stroke="#1e1e1e" stroke-width="1.2" />
<line x1="246" y1="217.3" x2="282" y2="217.3" stroke="#bbb" stroke-width="0.7" />
<path d="M233.4,216.8 C235,215 237.5,214.4 240,215.2 L243.5,216.2 L242.5,217.4 C239,217.8 236,218 233.4,216.8 z" stroke="#000" fill="#000" stroke-width="0.5" />
<path d="M238.8,210.7 l2.2,-1.6 l0.4,2.6 z" stroke="#000" fill="#000" stroke-width="0.5" />
<path d="M245,214.2 l3.4,4.6" stroke="#000" fill="none" stroke-width="1.4" />
<path d="M236,211 q-3,2 -1,5" stroke="#999" fill="none" stroke-width="0.8" />
<rect x="261.8" y="210.3" width="2.6" height="9.6" rx="1.2" fill="#fff" stroke="#222" stroke-width="0.9"/>
<rect x="261.6" y="216.5" width="3" height="3.6" stroke="none" fill="#000" stroke-width="1" />
<rect x="272.8" y="217.5" width="1.2" height="2.5" stroke="none" fill="#111" stroke-width="1" />
<ellipse cx="284.4" cy="219.2" rx="1.8" ry="1.5" fill="#000"/>
<ellipse cx="279.8" cy="214.6" rx="1" ry="1" fill="#000"/>
<rect x="288.2" y="207.5" width="47" height="6.2" rx="2.5" fill="#fafafa" stroke="#999" stroke-width="0.9"/>
<line x1="288" y1="211.7" x2="335" y2="211.7" stroke="#999" stroke-width="0.8" />
<line x1="288" y1="213.9" x2="334" y2="213.9" stroke="#555" stroke-width="1.0" />
<line x1="282" y1="219.2" x2="341" y2="219.2" stroke="#1e1e1e" stroke-width="1.2" />
<line x1="290" y1="216.6" x2="330" y2="216.6" stroke="#c8c8c8" stroke-width="0.7" />
<rect x="309.4" y="210.6" width="2.4" height="9.4" rx="1.1" fill="#fff" stroke="#222" stroke-width="0.9"/>
<rect x="309.2" y="216.6" width="2.8" height="3.6" stroke="none" fill="#000" stroke-width="1" />
<rect x="288.2" y="210" width="2.2" height="1.5" stroke="none" fill="#111" stroke-width="1" />
<rect x="288.2" y="213.4" width="2.2" height="1.5" stroke="none" fill="#111" stroke-width="1" />
<path d="M325.5,219.5 l3.5,-4" stroke="#000" fill="none" stroke-width="1.3" />
<ellipse cx="328.6" cy="214.8" rx="1" ry="1" fill="#000"/>
<path d="M335,208.5 C339,207.5 342,210 340.8,214 C340,218 336,220 333,219.6" stroke="#888" fill="none" stroke-width="0.8" />
<ellipse cx="337.6" cy="216" rx="2.3" ry="1.5" fill="#000"/>
<rect x="240.5" y="306.3" width="46" height="6.2" rx="2.5" fill="#f0f0f0" stroke="#999" stroke-width="0.9"/>
<line x1="241" y1="309.6" x2="286" y2="309.6" stroke="#bbb" stroke-width="0.7" />
<line x1="246" y1="313.4" x2="283" y2="313.4" stroke="#2a2a2a" stroke-width="1.2" />
<line x1="236" y1="318.2" x2="291" y2="318.2" stroke="#1e1e1e" stroke-width="1.2" />
<line x1="246" y1="316.3" x2="282" y2="316.3" stroke="#bbb" stroke-width="0.7" />
<path d="M233.4,315.8 C235,314 237.5,313.4 240,314.2 L243.5,315.2 L242.5,316.4 C239,316.8 236,317 233.4,315.8 z" stroke="#000" fill="#000" stroke-width="0.5" />
<path d="M238.8,309.7 l2.2,-1.6 l0.4,2.6 z" stroke="#000" fill="#000" stroke-width="0.5" />
<path d="M245,313.2 l3.4,4.6" stroke="#000" fill="none" stroke-width="1.4" />
<path d="M236,310 q-3,2 -1,5" stroke="#999" fill="none" stroke-width="0.8" />
<rect x="261.8" y="309.3" width="2.6" height="9.6" rx="1.2" fill="#fff" stroke="#222" stroke-width="0.9"/>
<rect x="261.6" y="315.5" width="3" height="3.6" stroke="none" fill="#000" stroke-width="1" />
<rect x="272.8" y="316.5" width="1.2" height="2.5" stroke="none" fill="#111" stroke-width="1" />
<ellipse cx="284.4" cy="318.2" rx="1.8" ry="1.5" fill="#000"/>
<ellipse cx="279.8" cy="313.6" rx="1" ry="1" fill="#000"/>
<rect x="288.2" y="306.5" width="47" height="6.2" rx="2.5" fill="#fafafa" stroke="#999" stroke-width="0.9"/>
<line x1="288" y1="310.7" x2="335" y2="310.7" stroke="#999" stroke-width="0.8" />
<line x1="288" y1="312.9" x2="334" y2="312.9" stroke="#555" stroke-width="1.0" />
<line x1="282" y1="318.2" x2="341" y2="318.2" stroke="#1e1e1e" stroke-width="1.2" />
<line x1="290" y1="315.6" x2="330" y2="315.6" stroke="#c8c8c8" stroke-width="0.7" />
<rect x="309.4" y="309.6" width="2.4" height="9.4" rx="1.1" fill="#fff" stroke="#222" stroke-width="0.9"/>
<rect x="309.2" y="315.6" width="2.8" height="3.6" stroke="none" fill="#000" stroke-width="1" />
<rect x="288.2" y="309" width="2.2" height="1.5" stroke="none" fill="#111" stroke-width="1" />
<rect x="288.2" y="312.4" width="2.2" height="1.5" stroke="none" fill="#111" stroke-width="1" />
<path d="M325.5,318.5 l3.5,-4" stroke="#000" fill="none" stroke-width="1.3" />
<ellipse cx="328.6" cy="313.8" rx="1" ry="1" fill="#000"/>
<path d="M335,307.5 C339,306.5 342,309 340.8,313 C340,317 336,319 333,318.6" stroke="#888" fill="none" stroke-width="0.8" />
<ellipse cx="337.6" cy="315" rx="2.3" ry="1.5" fill="#000"/>
<line x1="244.5" y1="206" x2="244.5" y2="222" stroke="#444" stroke-width="1.0" />
<line x1="280.5" y1="206" x2="280.5" y2="222" stroke="#444" stroke-width="1.0" />
<line x1="293.5" y1="206" x2="293.5" y2="222" stroke="#444" stroke-width="1.0" />
<line x1="329.5" y1="206" x2="329.5" y2="222" stroke="#444" stroke-width="1.0" />
<line x1="244.5" y1="305" x2="244.5" y2="321" stroke="#444" stroke-width="1.0" />
<line x1="280.5" y1="305" x2="280.5" y2="321" stroke="#444" stroke-width="1.0" />
<line x1="293.5" y1="305" x2="293.5" y2="321" stroke="#444" stroke-width="1.0" />
<line x1="329.5" y1="305" x2="329.5" y2="321" stroke="#444" stroke-width="1.0" />
<line x1="440" y1="178.5" x2="440" y2="215" stroke="#4a3a30" stroke-width="1.3" stroke-dasharray="1.2,1.6"/>
<rect x="442.8" y="178.6" width="2.2" height="1.6" stroke="none" fill="#111" stroke-width="1" />
<rect x="442.8" y="222.4" width="2.2" height="1.6" stroke="none" fill="#111" stroke-width="1" />
<rect x="444.4" y="182.4" width="54.6" height="37.8" stroke="#333" fill="none" stroke-width="1.0" />
<line x1="444.4" y1="189.5" x2="499" y2="189.5" stroke="#3a3a3a" stroke-width="1.0" />
<line x1="444.4" y1="197.4" x2="499" y2="197.4" stroke="#3a3a3a" stroke-width="1.0" />
<line x1="444.4" y1="205.3" x2="499" y2="205.3" stroke="#111" stroke-width="1.6" />
<line x1="444.4" y1="212.9" x2="499" y2="212.9" stroke="#3a3a3a" stroke-width="1.0" />
<circle cx="444.4" cy="190" r="1.2" fill="#000"/>
<circle cx="444.4" cy="197.5" r="1.2" fill="#000"/>
<circle cx="444.4" cy="205.4" r="1.2" fill="#000"/>
<circle cx="444.4" cy="213" r="1.2" fill="#000"/>
<path d="M445,183 H462 C459.5,188 456,189.6 450,189.6 H445 Z" stroke="#aaa" fill="#efefef" stroke-width="0.6" />
<line x1="445" y1="185" x2="459" y2="185" stroke="#c8c8c8" stroke-width="0.6" />
<line x1="445" y1="187" x2="459" y2="187" stroke="#c8c8c8" stroke-width="0.6" />
<rect x="471.5" y="201" width="1.2" height="1.2" stroke="none" fill="#333" stroke-width="1" />
<rect x="479" y="218.6" width="1.2" height="1.2" stroke="none" fill="#333" stroke-width="1" />
<rect x="454" y="210.5" width="1" height="1" stroke="none" fill="#555" stroke-width="1" />
<rect x="499" y="180.4" width="4.8" height="41" rx="2.2" fill="#e8e8e8" stroke="#222" stroke-width="1.1"/>
<line x1="501.4" y1="183" x2="501.4" y2="219" stroke="#888" stroke-width="0.8" />
<ellipse cx="500.2" cy="181.6" rx="1.8" ry="1.6" fill="#000"/>
<ellipse cx="500.8" cy="219.8" rx="2.2" ry="1.8" fill="#000"/>
<path d="M498.5,202 v12" stroke="#000" fill="none" stroke-width="1.2" />
<circle cx="504.5" cy="223.6" r="0.9" fill="#333"/>
<line x1="505" y1="174.5" x2="552.4" y2="174.5" stroke="#333" stroke-width="0.9" />
<line x1="505" y1="177.3" x2="552.4" y2="177.3" stroke="#4a4a4a" stroke-width="0.8" />
<line x1="505" y1="179.3" x2="552.4" y2="179.3" stroke="#4a4a4a" stroke-width="0.8" />
<line x1="505" y1="181.7" x2="552.4" y2="181.7" stroke="#333" stroke-width="0.9" />
<line x1="507.8" y1="174" x2="507.8" y2="182.2" stroke="#444" stroke-width="0.7" />
<line x1="509.59999999999997" y1="174" x2="509.59999999999997" y2="182.2" stroke="#444" stroke-width="0.7" />
<circle cx="508.7" cy="174.5" r="0.9" fill="#111"/><circle cx="508.7" cy="181.7" r="0.9" fill="#111"/>
<line x1="520.3000000000001" y1="174" x2="520.3000000000001" y2="182.2" stroke="#444" stroke-width="0.7" />
<line x1="522.1" y1="174" x2="522.1" y2="182.2" stroke="#444" stroke-width="0.7" />
<circle cx="521.2" cy="174.5" r="0.9" fill="#111"/><circle cx="521.2" cy="181.7" r="0.9" fill="#111"/>
<line x1="528.1" y1="174" x2="528.1" y2="182.2" stroke="#444" stroke-width="0.7" />
<line x1="529.9" y1="174" x2="529.9" y2="182.2" stroke="#444" stroke-width="0.7" />
<circle cx="529" cy="174.5" r="0.9" fill="#111"/><circle cx="529" cy="181.7" r="0.9" fill="#111"/>
<line x1="538.9" y1="174" x2="538.9" y2="182.2" stroke="#444" stroke-width="0.7" />
<line x1="540.6999999999999" y1="174" x2="540.6999999999999" y2="182.2" stroke="#444" stroke-width="0.7" />
<circle cx="539.8" cy="174.5" r="0.9" fill="#111"/><circle cx="539.8" cy="181.7" r="0.9" fill="#111"/>
<line x1="547.1" y1="174" x2="547.1" y2="182.2" stroke="#444" stroke-width="0.7" />
<line x1="548.9" y1="174" x2="548.9" y2="182.2" stroke="#444" stroke-width="0.7" />
<circle cx="548" cy="174.5" r="0.9" fill="#111"/><circle cx="548" cy="181.7" r="0.9" fill="#111"/>
<path d="M505,176 Q503.5,178 504.5,181" stroke="#333" fill="none" stroke-width="0.8" />
<rect x="504.5" y="183.4" width="47.8" height="34.9" stroke="#333" fill="none" stroke-width="0.9" />
<path d="M505.2,217.6 L528.2,184.3 L551.8,217.6" stroke="#555" fill="none" stroke-width="0.8" />
<line x1="517.8" y1="185" x2="517.8" y2="217" stroke="#666" stroke-width="0.9" stroke-dasharray="1,2.4"/>
<line x1="536.2" y1="185" x2="536.2" y2="217" stroke="#666" stroke-width="0.9" stroke-dasharray="1,2.4"/>
<line x1="506" y1="204.2" x2="551" y2="204.2" stroke="#666" stroke-width="0.9" stroke-dasharray="1,2.4"/>
<path d="M540,183.6 C540,192 544,198 552,198.3 V183.6 Z" stroke="#888" fill="#dcdcdc" stroke-width="0.6" />
<line x1="543" y1="184" x2="543" y2="197" stroke="#bbb" stroke-width="0.6" />
<line x1="546" y1="184" x2="546" y2="197" stroke="#bbb" stroke-width="0.6" />
<line x1="549" y1="184" x2="549" y2="197" stroke="#bbb" stroke-width="0.6" />
<line x1="541" y1="187" x2="552" y2="187" stroke="#bbb" stroke-width="0.6" />
<line x1="541" y1="190" x2="552" y2="190" stroke="#bbb" stroke-width="0.6" />
<line x1="541" y1="193" x2="552" y2="193" stroke="#bbb" stroke-width="0.6" />
<rect x="511.2" y="215.6" width="1.6" height="1.6" stroke="none" fill="#000" stroke-width="1" />
<rect x="524.7" y="215.6" width="1.6" height="1.6" stroke="none" fill="#000" stroke-width="1" />
<rect x="530.2" y="215.6" width="1.6" height="1.6" stroke="none" fill="#000" stroke-width="1" />
<rect x="543.7" y="215.6" width="1.6" height="1.6" stroke="none" fill="#000" stroke-width="1" />
<path d="M522.7,223.6 L523.2,226 Q526.5,229.6 529.8,226 L530.4,223.6" stroke="#111" fill="none" stroke-width="1.4" />
<circle cx="526.5" cy="226.8" r="1.6" fill="#222"/><circle cx="526.5" cy="226.6" r="0.8" fill="#fff"/>
<rect x="552.3" y="163.5" width="10.3" height="59.5" rx="1.5" fill="#fff" stroke="#111" stroke-width="1.2"/>
<line x1="554.0" y1="165" x2="554.0" y2="221" stroke="#333" stroke-width="1.0" />
<line x1="556.6" y1="166" x2="556.6" y2="220" stroke="#aaa" stroke-width="0.8" />
<line x1="558.4" y1="166" x2="558.4" y2="220" stroke="#666" stroke-width="0.8" />
<rect x="559.6" y="165" width="2.6" height="56" stroke="none" fill="#1a1a1a" stroke-width="1" />
<line x1="561.6" y1="167" x2="561.6" y2="219" stroke="#fff" stroke-width="1.0" stroke-dasharray="1.0,1.6"/>
<rect x="551.5" y="162" width="12.5" height="5" rx="1.5" fill="#d0d0d0" stroke="#333" stroke-width="0.9"/>
<circle cx="554.5" cy="163.8" r="1.0" fill="#111"/><circle cx="560.5" cy="163.8" r="1.0" fill="#111"/>
<rect x="551.5" y="219" width="12.5" height="5.2" rx="1.5" fill="#c8c8c8" stroke="#333" stroke-width="0.9"/>
<circle cx="554.5" cy="222.4" r="1.1" fill="#111"/><circle cx="561" cy="221.5" r="1.0" fill="#111"/>
<rect x="562.6" y="170.5" width="25.7" height="45" stroke="#2a2a2a" fill="none" stroke-width="1.0" />
<rect x="569.5" y="166.3" width="17.4" height="4.2" stroke="#444" fill="none" stroke-width="0.8" />
<path d="M576,170.8 C577,177 581,180.5 588,181 V170.8 Z" stroke="#888" fill="#dedede" stroke-width="0.6" />
<line x1="579" y1="171" x2="579" y2="180" stroke="#bbb" stroke-width="0.6" />
<line x1="582" y1="171" x2="582" y2="180" stroke="#bbb" stroke-width="0.6" />
<line x1="585" y1="171" x2="585" y2="180" stroke="#bbb" stroke-width="0.6" />
<line x1="577" y1="174" x2="588" y2="174" stroke="#bbb" stroke-width="0.6" />
<line x1="577" y1="177" x2="588" y2="177" stroke="#bbb" stroke-width="0.6" />
<line x1="567" y1="180.9" x2="590" y2="180.9" stroke="#111" stroke-width="1.6" />
<line x1="567" y1="188.6" x2="590" y2="188.6" stroke="#111" stroke-width="1.5" />
<line x1="567" y1="196.2" x2="590" y2="196.2" stroke="#111" stroke-width="1.4" />
<line x1="567" y1="203.8" x2="590" y2="203.8" stroke="#111" stroke-width="1.5" />
<line x1="567" y1="208" x2="590" y2="208" stroke="#111" stroke-width="1.2" />
<line x1="589.7" y1="180" x2="589.7" y2="210" stroke="#333" stroke-width="0.9" />
<rect x="589" y="180" width="1.8" height="1.8" stroke="none" fill="#000" stroke-width="1" />
<rect x="589" y="207" width="1.8" height="1.8" stroke="none" fill="#000" stroke-width="1" />
<line x1="564" y1="214.2" x2="588" y2="214.2" stroke="#888" stroke-width="0.8" stroke-dasharray="1.5,1.5"/>
<path d="M596,191.8 Q600.5,196 596,200.2" stroke="#111" fill="none" stroke-width="1.4" />
<circle cx="598.3" cy="196" r="1.6" fill="#222"/><circle cx="598.5" cy="196" r="0.8" fill="#fff"/>
<line x1="440" y1="272" x2="440" y2="309" stroke="#4a3a30" stroke-width="1.3" stroke-dasharray="1.2,1.6"/>
<rect x="443.3" y="261" width="95.2" height="62.6" stroke="#2a2a2a" fill="none" stroke-width="1.1" />
<rect x="471.2" y="260.3" width="1.6" height="1.4" stroke="none" fill="#222" stroke-width="1" />
<rect x="486.2" y="260.3" width="1.6" height="1.4" stroke="none" fill="#222" stroke-width="1" />
<rect x="509.2" y="260.3" width="1.6" height="1.4" stroke="none" fill="#222" stroke-width="1" />
<rect x="466.0" y="322.8" width="1.6" height="1.4" stroke="none" fill="#222" stroke-width="1" />
<rect x="490.2" y="322.8" width="1.6" height="1.4" stroke="none" fill="#222" stroke-width="1" />
<rect x="462.3" y="266" width="28" height="2.6" rx="1.2" fill="#f2f2f2" stroke="#777" stroke-width="0.7"/>
<line x1="490" y1="267.6" x2="532" y2="267.6" stroke="#222" stroke-width="1.2" />
<line x1="443.3" y1="269.3" x2="533" y2="269.3" stroke="#3a3a3a" stroke-width="1.0" />
<line x1="443.3" y1="278" x2="533" y2="278" stroke="#444" stroke-width="1.0" />
<line x1="443.3" y1="285.6" x2="533" y2="285.6" stroke="#444" stroke-width="1.0" />
<line x1="443.3" y1="293.4" x2="533" y2="293.4" stroke="#444" stroke-width="1.0" />
<line x1="443.3" y1="300.4" x2="533" y2="300.4" stroke="#111" stroke-width="1.5" />
<line x1="443.3" y1="308.1" x2="533" y2="308.1" stroke="#444" stroke-width="1.0" />
<path d="M533,316 H448 Q445,316 445,319.5 Q445,323 448,323" stroke="#333" fill="none" stroke-width="1.0" />
<path d="M443.6,269.8 H462 C460,276 455,280.2 448,280.2 H443.6 Z" stroke="#999" fill="#f0f0f0" stroke-width="0.6" />
<line x1="444" y1="272" x2="459" y2="272" stroke="#c8c8c8" stroke-width="0.6" />
<line x1="444" y1="274.5" x2="459" y2="274.5" stroke="#c8c8c8" stroke-width="0.6" />
<line x1="444" y1="277" x2="459" y2="277" stroke="#c8c8c8" stroke-width="0.6" />
<circle cx="443.6" cy="278" r="1.2" fill="#000"/>
<circle cx="443.6" cy="285.6" r="1.2" fill="#000"/>
<circle cx="443.6" cy="293.4" r="1.2" fill="#000"/>
<circle cx="443.6" cy="300.4" r="1.2" fill="#000"/>
<circle cx="443.6" cy="308.1" r="1.2" fill="#000"/>
<rect x="467" y="290" width="1.2" height="1.2" stroke="none" fill="#333" stroke-width="1" />
<rect x="515" y="290" width="1.2" height="1.2" stroke="none" fill="#333" stroke-width="1" />
<rect x="456" y="314" width="1.2" height="1.2" stroke="none" fill="#333" stroke-width="1" />
<rect x="520" y="309" width="1.2" height="1.2" stroke="none" fill="#333" stroke-width="1" />
<rect x="526" y="309" width="1.2" height="1.2" stroke="none" fill="#333" stroke-width="1" />
<rect x="532.6" y="265.3" width="4" height="53" rx="2" fill="#d8d8d8" stroke="#222" stroke-width="1.0"/>
<line x1="534.6" y1="268" x2="534.6" y2="316" stroke="#777" stroke-width="0.7" />
<path d="M531,314 C532,311 537,310 539,313 C541,316 538,321 535,320.5 C532,320 530,317 531,314 Z" stroke="#111" fill="#888" stroke-width="0.9" />
<path d="M532,313 l6,6 M538,313 l-6,6 M535,311 v9" stroke="#111" fill="none" stroke-width="0.8" />
<circle cx="535" cy="315.8" r="1.1" fill="#fff"/>
<rect x="487.4" y="321.6" width="33" height="3.4" rx="1.7" fill="#ddd" stroke="#333" stroke-width="0.8"/>
<circle cx="503.3" cy="323.3" r="1.7" fill="#fff" stroke="#222" stroke-width="0.8"/>
<circle cx="519" cy="323.3" r="1.7" fill="#fff" stroke="#222" stroke-width="0.8"/>
<rect x="538.5" y="267.2" width="83.3" height="48.2" stroke="#2a2a2a" fill="none" stroke-width="1.1" />
<line x1="566.2" y1="269" x2="566.2" y2="314" stroke="#666" stroke-width="0.9" stroke-dasharray="1,2.3"/>
<line x1="592" y1="269" x2="592" y2="314" stroke="#666" stroke-width="0.9" stroke-dasharray="1,2.3"/>
<line x1="541" y1="290.7" x2="620" y2="290.7" stroke="#666" stroke-width="0.9" stroke-dasharray="1,2.3"/>
<line x1="598" y1="273.7" x2="621" y2="273.7" stroke="#222" stroke-width="1.3" />
<line x1="598" y1="285.1" x2="621" y2="285.1" stroke="#222" stroke-width="1.3" />
<line x1="598" y1="295.8" x2="621" y2="295.8" stroke="#222" stroke-width="1.6" />
<line x1="598" y1="306.9" x2="621" y2="306.9" stroke="#222" stroke-width="1.6" />
<path d="M608,304.5 C611,303 616,302.6 621,303 V315 H608 Z" stroke="#999" fill="#e0e0e0" stroke-width="0.6" />
<line x1="611" y1="305" x2="611" y2="315" stroke="#bbb" stroke-width="0.6" />
<line x1="614" y1="305" x2="614" y2="315" stroke="#bbb" stroke-width="0.6" />
<line x1="617" y1="305" x2="617" y2="315" stroke="#bbb" stroke-width="0.6" />
<line x1="608" y1="308" x2="621" y2="308" stroke="#bbb" stroke-width="0.6" />
<line x1="608" y1="311" x2="621" y2="311" stroke="#bbb" stroke-width="0.6" />
<path d="M579.3,266 L579.8,264 Q583.3,260.6 586.8,264 L587.3,266" stroke="#111" fill="none" stroke-width="1.4" />
<circle cx="583.3" cy="263.2" r="1.6" fill="#222"/><circle cx="583.3" cy="263.4" r="0.8" fill="#fff"/>
<path d="M624,286.5 Q628.5,290.7 624,295" stroke="#111" fill="none" stroke-width="1.4" />
<circle cx="626.3" cy="290.7" r="1.6" fill="#222"/><circle cx="626.5" cy="290.7" r="0.8" fill="#fff"/>
<g transform="translate(127.5,250.2)"><rect x="0.4" y="0.4" width="6.2" height="6.8" rx="0.8" fill="#cfcfcf" stroke="#555" stroke-width="0.8"/><path d="M0.4,0.8 H4.34 L3.15,2.28 V5.4719999999999995 L4.34,7.199999999999999 H0.4 Z" fill="#111"/><rect x="4.34" y="1.9" width="1.54" height="1.672" fill="#fff"/><rect x="4.2" y="4.712" width="1.75" height="1.52" fill="#fff"/><rect x="1.26" y="2.28" width="0.84" height="2.6599999999999997" fill="#777"/></g>
<g transform="translate(439.6,240.2) translate(6.8,0) scale(-1,1)"><rect x="0.4" y="0.4" width="6.0" height="6.8" rx="0.8" fill="#cfcfcf" stroke="#555" stroke-width="0.8"/><path d="M0.4,0.8 H4.216 L3.06,2.28 V5.4719999999999995 L4.216,7.199999999999999 H0.4 Z" fill="#111"/><rect x="4.216" y="1.9" width="1.496" height="1.672" fill="#fff"/><rect x="4.08" y="4.712" width="1.7" height="1.52" fill="#fff"/><rect x="1.224" y="2.28" width="0.816" height="2.6599999999999997" fill="#777"/></g>
<g transform="translate(498.1,226.5)"><rect x="0.4" y="0.4" width="6.2" height="6.8" rx="0.8" fill="#cfcfcf" stroke="#555" stroke-width="0.8"/><path d="M0.4,0.8 H4.34 L3.15,2.28 V5.4719999999999995 L4.34,7.199999999999999 H0.4 Z" fill="#111"/><rect x="4.34" y="1.9" width="1.54" height="1.672" fill="#fff"/><rect x="4.2" y="4.712" width="1.75" height="1.52" fill="#fff"/><rect x="1.26" y="2.28" width="0.84" height="2.6599999999999997" fill="#777"/></g>
<g transform="translate(532.2,325.8)"><rect x="0.4" y="0.4" width="6.2" height="6.8" rx="0.8" fill="#cfcfcf" stroke="#555" stroke-width="0.8"/><path d="M0.4,0.8 H4.34 L3.15,2.28 V5.4719999999999995 L4.34,7.199999999999999 H0.4 Z" fill="#111"/><rect x="4.34" y="1.9" width="1.54" height="1.672" fill="#fff"/><rect x="4.2" y="4.712" width="1.75" height="1.52" fill="#fff"/><rect x="1.26" y="2.28" width="0.84" height="2.6599999999999997" fill="#777"/></g>
</svg>
</body></html>
